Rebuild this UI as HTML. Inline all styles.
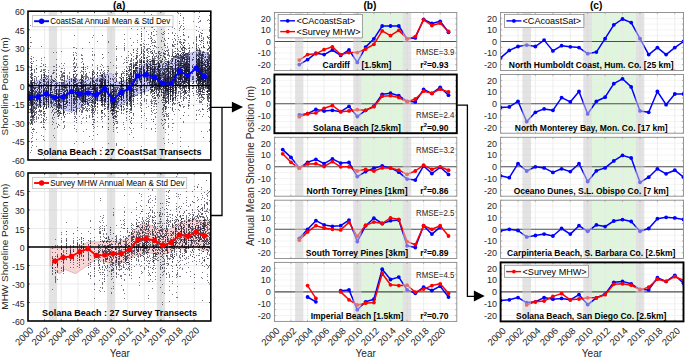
<!DOCTYPE html>
<html><head><meta charset="utf-8"><title>Shoreline figure</title>
<style>html,body{margin:0;padding:0;background:#fff;width:685px;height:357px;overflow:hidden}svg{display:block;font-family:"Liberation Sans",sans-serif}</style>
</head><body><svg width="685" height="357" viewBox="0 0 685 357" font-family='"Liberation Sans", sans-serif'><rect width="685" height="357" fill="#fff"/><clipPath id="clipA1"><rect x="28" y="11.2" width="182.8" height="148.8"/></clipPath><g clip-path="url(#clipA1)"><line x1="44.6" y1="11.2" x2="44.6" y2="160" stroke="#e6e6e6" stroke-width="0.8"/><line x1="61.2" y1="11.2" x2="61.2" y2="160" stroke="#e6e6e6" stroke-width="0.8"/><line x1="77.9" y1="11.2" x2="77.9" y2="160" stroke="#e6e6e6" stroke-width="0.8"/><line x1="94.5" y1="11.2" x2="94.5" y2="160" stroke="#e6e6e6" stroke-width="0.8"/><line x1="111.1" y1="11.2" x2="111.1" y2="160" stroke="#e6e6e6" stroke-width="0.8"/><line x1="127.7" y1="11.2" x2="127.7" y2="160" stroke="#e6e6e6" stroke-width="0.8"/><line x1="144.3" y1="11.2" x2="144.3" y2="160" stroke="#e6e6e6" stroke-width="0.8"/><line x1="160.9" y1="11.2" x2="160.9" y2="160" stroke="#e6e6e6" stroke-width="0.8"/><line x1="177.6" y1="11.2" x2="177.6" y2="160" stroke="#e6e6e6" stroke-width="0.8"/><line x1="194.2" y1="11.2" x2="194.2" y2="160" stroke="#e6e6e6" stroke-width="0.8"/><line x1="28" y1="141.4" x2="210.8" y2="141.4" stroke="#e6e6e6" stroke-width="0.8"/><line x1="28" y1="122.8" x2="210.8" y2="122.8" stroke="#e6e6e6" stroke-width="0.8"/><line x1="28" y1="104.2" x2="210.8" y2="104.2" stroke="#e6e6e6" stroke-width="0.8"/><line x1="28" y1="85.6" x2="210.8" y2="85.6" stroke="#e6e6e6" stroke-width="0.8"/><line x1="28" y1="67" x2="210.8" y2="67" stroke="#e6e6e6" stroke-width="0.8"/><line x1="28" y1="48.4" x2="210.8" y2="48.4" stroke="#e6e6e6" stroke-width="0.8"/><line x1="28" y1="29.8" x2="210.8" y2="29.8" stroke="#e6e6e6" stroke-width="0.8"/><rect x="48.8" y="11.2" width="8.3" height="148.8" fill="#cccccc" opacity="0.55"/><rect x="106.9" y="11.2" width="8.3" height="148.8" fill="#cccccc" opacity="0.55"/><rect x="156.8" y="11.2" width="8.3" height="148.8" fill="#cccccc" opacity="0.55"/><polygon points="28,84.4 34.7,81.8 46.5,77.6 55.7,81.8 61.6,82.7 70,78.5 78.4,79.3 88,80 96.4,78.5 104.8,74.3 111.5,73.5 117.4,81.9 126.7,80.2 133.4,75.2 138.4,67.6 143.5,64.2 148,62.5 157.8,64.5 167.6,62.5 177.5,56.6 187.3,53.7 199,50.7 207,52.7 211,56 211,83 199,81.2 187.3,82.1 177.5,84.1 167.6,90 157.8,84.1 148,91.1 138.4,93.7 130,98.7 121.6,105.4 113.2,107.1 104.8,102.1 96.4,100.4 88,103 78.4,108.7 71.7,112 65,110.4 55.7,107.1 46.5,104.5 38.1,106.2 28,105.4" fill="#ccccf6" stroke="rgba(70,70,150,0.45)" stroke-width="0.6"/><path d="M199 12h1m-22 1h1m1 0h1m-30 1h1m1 1h1m55 0h1m-69 1h1m57 0h1m-17 1h1m-43 1h1m22 0h1m18 0h1m14 0h1m-45 1h1m13 0h1m39 0h1m-68 1h1m41 0h1m16 0h1m6 0h1m1 0h1m-46 1h1m14 0h1m13 0h1m5 0h1m0 0h1m-3 1h1m-35 1h1m14 0h1m3 0h1m25 0h1m-66 1h1m22 0h1m-138 1h1m110 0h1m20 0h1m5 0h1m12 0h1m-29 1h1m18 0h1m7 0h1m2 0h1m12 0h1m-53 1h1m6 0h1m20 0h1m7 0h1m18 0h1m9 0h1m-79 1h1m9 0h1m2 0h1m29 0h1m4 0h1m4 0h1m-48 1h1m16 0h1m6 0h1m6 0h1m10 1h1m16 0h1m5 0h1m6 0h1m-69 1h1m4 0h1m6 0h1m2 0h1m7 0h1m33 0h1m10 0h1m-47 1h1m8 0h1m10 0h1m16 0h1m-50 1h1m9 0h1m2 0h1m3 0h1m3 0h1m2 0h1m26 0h1m-79 1h1m12 0h1m3 0h1m6 0h1m2 0h1m4 0h1m5 0h1m0 0h1m35 0h1m-126 1h1m18 0h1m8 0h1m38 0h1m11 0h1m0 0h1m22 0h1m5 0h1m0 0h1m14 0h1m1 0h1m7 0h1m-60 1h1m29 0h1m7 0h1m7 0h1m4 0h1m-172 1h1m61 0h1m58 0h1m10 0h1m15 0h1m9 0h1m10 0h1m3 0h1m3 0h1m0 0h1m0 0h1m-80 1h1m10 0h1m6 0h1m1 0h1m0 0h1m12 0h1m9 0h1m21 0h1m4 0h1m1 0h1m-80 1h1m16 0h1m10 0h1m11 0h1m7 0h1m2 0h1m2 0h1m4 0h1m0 0h1m18 0h1m5 0h1m-73 1h1m6 0h1m9 0h1m6 0h1m3 0h1m9 0h1m8 0h1m0 0h1m10 0h1m5 0h1m-106 1h1m10 0h1m32 0h1m9 0h1m3 0h1m5 0h1m1 0h1m9 0h1m3 0h1m1 0h1m0 0h1m15 0h1m3 0h1m2 0h1m3 0h1m1 0h1m-180 1h1m0 0h1m57 0h1m18 0h1m24 0h1m3 0h1m14 0h1m0 0h1m0 0h1m0 0h1m17 0h1m5 0h1m0 0h1m0 0h1m2 0h1m8 0h1m7 0h1m7 0h1m-86 1h1m18 0h1m7 0h1m12 0h1m2 0h1m9 0h1m2 0h1m7 0h1m4 0h1m2 0h1m10 0h1m1 0h1m-70 1h1m0 0h1m2 0h1m1 0h1m1 0h1m15 0h1m9 0h1m0 0h1m1 0h1m22 0h1m-77 1h1m6 0h1m8 0h1m0 0h1m10 0h1m12 0h1m7 0h1m8 0h1m6 0h1m6 0h1m1 0h1m4 0h1m-174 1h1m10 0h1m74 0h1m26 0h1m0 0h1m9 0h1m0 0h1m11 0h1m4 0h1m0 0h1m0 0h1m5 0h1m2 0h1m25 0h1m-137 1h1m0 0h1m49 0h1m19 0h1m11 0h1m1 0h1m2 0h1m3 0h1m1 0h1m12 0h1m1 0h1m6 0h1m2 0h1m3 0h1m1 0h1m4 0h1m-128 1h1m5 0h1m9 0h1m23 0h1m7 0h1m12 0h1m3 0h1m2 0h1m2 0h1m0 0h1m0 0h1m3 0h1m21 0h1m1 0h1m4 0h1m5 0h1m0 0h1m9 0h1m-84 1h1m7 0h1m12 0h1m5 0h1m2 0h1m0 0h1m2 0h1m11 0h1m5 0h1m3 0h1m8 0h1m0 0h1m1 0h1m1 0h1m9 0h1m0 0h1m10 0h1m-85 1h1m8 0h1m2 0h1m4 0h1m1 0h1m2 0h1m0 0h1m4 0h1m1 0h1m9 0h1m1 0h1m0 0h1m0 0h1m3 0h1m5 0h1m4 0h1m0 0h1m12 0h1m0 0h1m1 0h1m6 0h1m1 0h1m-149 1h1m30 0h1m35 0h1m14 0h1m4 0h1m1 0h1m3 0h1m3 0h1m8 0h1m4 0h1m1 0h1m0 0h1m1 0h1m1 0h1m4 0h1m4 0h1m9 0h1m0 0h1m2 0h1m5 0h1m0 0h1m-158 1h1m2 0h1m16 0h1m1 0h1m32 0h1m35 0h1m5 0h1m3 0h1m6 0h1m1 0h1m8 0h1m0 0h1m14 0h1m0 0h1m3 0h1m2 0h1m1 0h1m0 0h1m0 0h1m3 0h1m2 0h1m0 0h1m-133 1h1m53 0h1m5 0h1m11 0h1m2 0h1m3 0h1m2 0h1m0 0h1m0 0h1m4 0h1m2 0h1m3 0h1m5 0h1m9 0h1m3 0h1m3 0h1m1 0h1m3 0h1m4 0h1m0 0h1m-181 1h1m44 0h1m7 0h1m10 0h1m1 0h1m36 0h1m8 0h1m2 0h1m0 0h1m8 0h1m5 0h1m5 0h1m1 0h1m0 0h1m7 0h1m0 0h1m5 0h1m2 0h1m1 0h1m3 0h1m4 0h1m0 0h1m1 0h1m4 0h1m1 0h1m0 0h1m0 0h1m-137 1h1m2 0h1m4 0h1m0 0h1m9 0h1m1 0h1m33 0h1m2 0h1m5 0h1m1 0h1m3 0h1m0 0h1m2 0h1m5 0h1m2 0h1m1 0h1m2 0h1m1 0h1m3 0h1m0 0h1m0 0h1m5 0h1m2 0h1m0 0h1m1 0h1m3 0h1m0 0h1m0 0h1m0 0h1m9 0h1m0 0h1m3 0h1m4 0h1m-178 1h1m84 0h1m4 0h1m11 0h1m2 0h1m0 0h1m3 0h1m1 0h1m4 0h1m0 0h1m4 0h1m0 0h1m0 0h1m6 0h1m0 0h1m4 0h1m1 0h1m0 0h1m3 0h1m1 0h1m1 0h1m4 0h1m2 0h1m0 0h1m9 0h1m2 0h1m4 0h1m0 0h1m-176 1h1m10 0h1m29 0h1m28 0h1m22 0h1m1 0h1m8 0h1m5 0h1m2 0h1m5 0h1m1 0h1m2 0h1m0 0h1m14 0h1m0 0h1m0 0h1m0 0h1m0 0h1m1 0h1m5 0h1m1 0h1m0 0h1m7 0h1m3 0h1m3 0h1m2 0h1m-178 1h1m0 0h1m9 0h1m39 0h1m0 0h1m19 0h1m13 0h1m9 0h1m8 0h1m4 0h1m2 0h1m2 0h1m6 0h1m0 0h1m0 0h1m2 0h1m0 0h1m2 0h1m2 0h1m5 0h1m1 0h1m3 0h1m2 0h1m0 0h1m4 0h1m1 0h1m10 0h1m0 0h1m2 0h1m-173 1h1m24 0h1m17 0h1m1 0h1m5 0h1m9 0h1m23 0h1m7 0h1m6 0h1m1 0h1m2 0h1m2 0h1m9 0h1m0 0h1m1 0h1m0 0h1m0 0h1m3 0h1m6 0h1m0 0h1m4 0h1m4 0h1m4 0h1m6 0h1m4 0h1m8 0h1m1 0h1m3 0h1m-173 1h1m4 0h1m31 0h1m19 0h1m22 0h1m9 0h1m1 0h1m1 0h1m0 0h1m1 0h1m3 0h1m1 0h1m0 0h1m2 0h1m0 0h1m1 0h1m0 0h1m0 0h1m2 0h1m3 0h1m0 0h1m0 0h1m1 0h1m0 0h1m0 0h1m2 0h1m3 0h1m1 0h1m10 0h1m4 0h1m5 0h1m7 0h1m1 0h1m1 0h1m0 0h1m0 0h1m1 0h1m1 0h1m-180 1h1m1 0h1m48 0h1m47 0h1m0 0h1m7 0h1m0 0h1m3 0h1m1 0h1m4 0h1m8 0h1m1 0h1m3 0h1m4 0h1m25 0h1m2 0h1m2 0h1m5 0h1m-180 1h1m50 0h1m28 0h1m13 0h1m2 0h1m5 0h1m1 0h1m3 0h1m7 0h1m2 0h1m6 0h1m6 0h1m2 0h1m1 0h1m1 0h1m4 0h1m1 0h1m0 0h1m1 0h1m1 0h1m0 0h1m20 0h1m0 0h1m3 0h1m-179 1h1m8 0h1m19 0h1m2 0h1m8 0h1m0 0h1m1 0h1m6 0h1m39 0h1m6 0h1m2 0h1m1 0h1m0 0h1m0 0h1m10 0h1m1 0h1m1 0h1m0 0h1m0 0h1m1 0h1m0 0h1m5 0h1m2 0h1m3 0h1m1 0h1m1 0h1m0 0h1m1 0h1m1 0h1m9 0h1m6 0h1m3 0h1m3 0h1m-162 1h1m1 0h1m10 0h1m16 0h1m2 0h1m15 0h1m8 0h1m27 0h1m3 0h1m0 0h1m5 0h1m0 0h1m16 0h1m3 0h1m0 0h1m2 0h1m0 0h1m1 0h1m2 0h1m3 0h1m0 0h1m1 0h1m1 0h1m11 0h1m6 0h1m1 0h1m3 0h1m3 0h1m-175 1h1m6 0h1m12 0h1m6 0h1m12 0h1m15 0h1m4 0h1m4 0h1m10 0h1m2 0h1m17 0h1m2 0h1m1 0h1m1 0h1m2 0h1m9 0h1m5 0h1m1 0h1m3 0h1m0 0h1m0 0h1m4 0h1m2 0h1m15 0h1m11 0h1m4 0h1m0 0h1m-183 1h1m2 0h1m8 0h1m0 0h1m11 0h1m0 0h1m4 0h1m13 0h1m0 0h1m0 0h1m7 0h1m3 0h1m12 0h1m6 0h1m0 0h1m17 0h1m1 0h1m0 0h1m1 0h1m2 0h1m9 0h1m1 0h1m3 0h1m2 0h1m1 0h1m0 0h1m0 0h1m2 0h1m2 0h1m0 0h1m0 0h1m3 0h1m10 0h1m0 0h1m14 0h1m0 0h1m2 0h1m7 0h1m-179 1h1m25 0h1m17 0h1m2 0h1m3 0h1m0 0h1m2 0h1m11 0h1m5 0h1m12 0h1m9 0h1m17 0h1m1 0h1m4 0h1m5 0h1m7 0h1m1 0h1m2 0h1m8 0h1m23 0h1m1 0h1m1 0h1m-177 1h1m29 0h1m0 0h1m1 0h1m9 0h1m8 0h1m3 0h1m9 0h1m10 0h1m7 0h1m10 0h1m1 0h1m1 0h1m16 0h1m0 0h1m2 0h1m0 0h1m7 0h1m0 0h1m0 0h1m0 0h1m6 0h1m1 0h1m0 0h1m4 0h1m1 0h1m1 0h1m9 0h1m9 0h1m-172 1h1m1 0h1m1 0h1m4 0h1m1 0h1m0 0h1m0 0h1m10 0h1m16 0h1m11 0h1m6 0h1m4 0h1m26 0h1m10 0h1m0 0h1m2 0h1m15 0h1m4 0h1m0 0h1m0 0h1m0 0h1m2 0h1m6 0h1m0 0h1m1 0h1m2 0h1m12 0h1m4 0h1m6 0h1m1 0h1m-179 1h1m1 0h1m3 0h1m6 0h1m1 0h1m0 0h1m3 0h1m4 0h1m0 0h1m9 0h1m9 0h1m6 0h1m11 0h1m5 0h1m1 0h1m2 0h1m2 0h1m0 0h1m21 0h1m0 0h1m5 0h1m2 0h1m0 0h1m4 0h1m2 0h1m3 0h1m1 0h1m1 0h1m2 0h1m0 0h1m4 0h1m3 0h1m22 0h1m9 0h1m5 0h1m0 0h1m-177 1h1m6 0h1m3 0h1m14 0h1m12 0h1m7 0h1m0 0h1m0 0h1m1 0h1m7 0h1m9 0h1m4 0h1m7 0h1m5 0h1m1 0h1m2 0h1m1 0h1m5 0h1m0 0h1m0 0h1m13 0h1m3 0h1m0 0h1m0 0h1m1 0h1m2 0h1m2 0h1m3 0h1m1 0h1m4 0h1m0 0h1m3 0h1m11 0h1m10 0h1m1 0h1m-176 1h1m2 0h1m1 0h1m6 0h1m0 0h1m3 0h1m5 0h1m6 0h1m1 0h1m0 0h1m4 0h1m10 0h1m2 0h1m5 0h1m2 0h1m0 0h1m0 0h1m5 0h1m1 0h1m1 0h1m2 0h1m8 0h1m6 0h1m4 0h1m2 0h1m2 0h1m5 0h1m5 0h1m1 0h1m0 0h1m1 0h1m0 0h1m2 0h1m0 0h1m3 0h1m3 0h1m1 0h1m2 0h1m12 0h1m0 0h1m13 0h1m5 0h1m0 0h1m-177 1h1m3 0h1m11 0h1m7 0h1m0 0h1m2 0h1m5 0h1m0 0h1m5 0h1m5 0h1m7 0h1m10 0h1m9 0h1m10 0h1m0 0h1m4 0h1m0 0h1m0 0h1m0 0h1m2 0h1m6 0h1m1 0h1m3 0h1m3 0h1m3 0h1m0 0h1m1 0h1m4 0h1m1 0h1m2 0h1m3 0h1m3 0h1m4 0h1m-144 1h1m0 0h1m8 0h1m1 0h1m12 0h1m4 0h1m0 0h1m11 0h1m1 0h1m0 0h1m3 0h1m1 0h1m1 0h1m0 0h1m9 0h1m4 0h1m2 0h1m2 0h1m5 0h1m1 0h1m10 0h1m0 0h1m0 0h1m0 0h1m7 0h1m10 0h1m0 0h1m5 0h1m0 0h1m3 0h1m0 0h1m0 0h1m14 0h1m-146 1h1m10 0h1m1 0h1m0 0h1m1 0h1m2 0h1m7 0h1m1 0h1m0 0h1m0 0h1m0 0h1m2 0h1m17 0h1m0 0h1m12 0h1m0 0h1m3 0h1m3 0h1m12 0h1m2 0h1m3 0h1m0 0h1m0 0h1m5 0h1m0 0h1m11 0h1m5 0h1m0 0h1m6 0h1m0 0h1m1 0h1m0 0h1m8 0h1m8 0h1m18 0h1m5 0h1m-183 1h1m1 0h1m0 0h1m3 0h1m2 0h1m7 0h1m0 0h1m0 0h1m1 0h1m10 0h1m0 0h1m4 0h1m1 0h1m5 0h1m0 0h1m5 0h1m0 0h1m0 0h1m0 0h1m0 0h1m0 0h1m4 0h1m11 0h1m8 0h1m16 0h1m1 0h1m13 0h1m6 0h1m6 0h1m0 0h1m0 0h1m0 0h1m2 0h1m2 0h1m8 0h1m0 0h1m2 0h1m9 0h1m0 0h1m-164 1h1m5 0h1m8 0h1m2 0h1m2 0h1m4 0h1m3 0h1m0 0h1m0 0h1m1 0h1m2 0h1m1 0h1m3 0h1m1 0h1m7 0h1m1 0h1m0 0h1m0 0h1m0 0h1m1 0h1m1 0h1m0 0h1m0 0h1m8 0h1m11 0h1m3 0h1m0 0h1m1 0h1m4 0h1m8 0h1m0 0h1m2 0h1m2 0h1m2 0h1m1 0h1m2 0h1m5 0h1m3 0h1m0 0h1m3 0h1m10 0h1m14 0h1m0 0h1m16 0h1m-179 1h1m1 0h1m1 0h1m8 0h1m1 0h1m3 0h1m2 0h1m5 0h1m10 0h1m2 0h1m1 0h1m9 0h1m1 0h1m2 0h1m1 0h1m6 0h1m1 0h1m0 0h1m0 0h1m3 0h1m3 0h1m1 0h1m5 0h1m2 0h1m2 0h1m7 0h1m5 0h1m7 0h1m0 0h1m5 0h1m0 0h1m4 0h1m1 0h1m9 0h1m0 0h1m1 0h1m5 0h1m9 0h1m0 0h1m3 0h1m-170 1h1m5 0h1m1 0h1m3 0h1m7 0h1m2 0h1m0 0h1m7 0h1m0 0h1m2 0h1m9 0h1m0 0h1m0 0h1m5 0h1m2 0h1m2 0h1m7 0h1m0 0h1m1 0h1m0 0h1m2 0h1m0 0h1m3 0h1m1 0h1m1 0h1m3 0h1m6 0h1m10 0h1m2 0h1m8 0h1m1 0h1m0 0h1m7 0h1m4 0h1m6 0h1m3 0h1m19 0h1m16 0h1m-181 1h1m5 0h1m4 0h1m6 0h1m1 0h1m1 0h1m1 0h1m1 0h1m4 0h1m0 0h1m0 0h1m7 0h1m5 0h1m1 0h1m3 0h1m3 0h1m8 0h1m4 0h1m1 0h1m3 0h1m0 0h1m4 0h1m18 0h1m3 0h1m2 0h1m0 0h1m0 0h1m6 0h1m0 0h1m19 0h1m3 0h1m4 0h1m4 0h1m17 0h1m4 0h1m-177 1h1m3 0h1m10 0h1m1 0h1m6 0h1m0 0h1m8 0h1m1 0h1m6 0h1m0 0h1m1 0h1m5 0h1m7 0h1m3 0h1m1 0h1m0 0h1m12 0h1m2 0h1m6 0h1m1 0h1m5 0h1m17 0h1m2 0h1m1 0h1m11 0h1m0 0h1m4 0h1m3 0h1m3 0h1m3 0h1m24 0h1m3 0h1m-174 1h1m1 0h1m1 0h1m2 0h1m1 0h1m0 0h1m3 0h1m0 0h1m3 0h1m5 0h1m1 0h1m10 0h1m2 0h1m0 0h1m3 0h1m0 0h1m0 0h1m7 0h1m6 0h1m2 0h1m3 0h1m6 0h1m9 0h1m3 0h1m7 0h1m0 0h1m2 0h1m6 0h1m0 0h1m1 0h1m0 0h1m1 0h1m1 0h1m0 0h1m0 0h1m3 0h1m0 0h1m0 0h1m5 0h1m3 0h1m2 0h1m2 0h1m5 0h1m18 0h1m0 0h1m0 0h1m-177 1h1m4 0h1m0 0h1m3 0h1m2 0h1m0 0h1m11 0h1m0 0h1m4 0h1m0 0h1m0 0h1m13 0h1m3 0h1m0 0h1m2 0h1m2 0h1m6 0h1m0 0h1m10 0h1m4 0h1m6 0h1m2 0h1m3 0h1m0 0h1m4 0h1m1 0h1m0 0h1m10 0h1m3 0h1m1 0h1m3 0h1m3 0h1m12 0h1m4 0h1m5 0h1m7 0h1m2 0h1m0 0h1m2 0h1m9 0h1m-182 1h1m0 0h1m3 0h1m1 0h1m1 0h1m0 0h1m1 0h1m1 0h1m1 0h1m0 0h1m0 0h1m6 0h1m4 0h1m1 0h1m0 0h1m0 0h1m0 0h1m0 0h1m0 0h1m2 0h1m1 0h1m1 0h1m3 0h1m4 0h1m1 0h1m1 0h1m0 0h1m0 0h1m0 0h1m9 0h1m11 0h1m0 0h1m2 0h1m7 0h1m3 0h1m2 0h1m3 0h1m8 0h1m3 0h1m1 0h1m3 0h1m3 0h1m4 0h1m10 0h1m7 0h1m0 0h1m2 0h1m0 0h1m12 0h1m1 0h1m2 0h1m-176 1h1m0 0h1m16 0h1m0 0h1m13 0h1m0 0h1m1 0h1m5 0h1m2 0h1m2 0h1m0 0h1m7 0h1m0 0h1m26 0h1m0 0h1m3 0h1m3 0h1m0 0h1m2 0h1m2 0h1m1 0h1m3 0h1m3 0h1m9 0h1m0 0h1m1 0h1m0 0h1m1 0h1m1 0h1m21 0h1m0 0h1m0 0h1m3 0h1m0 0h1m16 0h1m1 0h1m3 0h1m-182 1h1m3 0h1m4 0h1m1 0h1m6 0h1m7 0h1m7 0h1m1 0h1m0 0h1m4 0h1m3 0h1m3 0h1m4 0h1m7 0h1m6 0h1m3 0h1m18 0h1m0 0h1m4 0h1m7 0h1m9 0h1m4 0h1m25 0h1m4 0h1m9 0h1m0 0h1m2 0h1m2 0h1m3 0h1m6 0h1m-177 1h1m1 0h1m0 0h1m0 0h1m11 0h1m3 0h1m6 0h1m0 0h1m4 0h1m10 0h1m8 0h1m0 0h1m0 0h1m1 0h1m0 0h1m3 0h1m6 0h1m4 0h1m6 0h1m0 0h1m0 0h1m0 0h1m1 0h1m1 0h1m5 0h1m6 0h1m3 0h1m17 0h1m2 0h1m0 0h1m2 0h1m4 0h1m3 0h1m0 0h1m4 0h1m0 0h1m4 0h1m0 0h1m6 0h1m7 0h1m0 0h1m1 0h1m1 0h1m-177 1h1m2 0h1m9 0h1m1 0h1m1 0h1m6 0h1m0 0h1m5 0h1m2 0h1m0 0h1m0 0h1m12 0h1m6 0h1m0 0h1m11 0h1m1 0h1m1 0h1m10 0h1m0 0h1m4 0h1m12 0h1m2 0h1m0 0h1m8 0h1m3 0h1m11 0h1m0 0h1m15 0h1m1 0h1m0 0h1m0 0h1m2 0h1m6 0h1m5 0h1m5 0h1m0 0h1m3 0h1m-183 1h1m1 0h1m9 0h1m12 0h1m3 0h1m0 0h1m1 0h1m6 0h1m1 0h1m9 0h1m0 0h1m3 0h1m1 0h1m0 0h1m1 0h1m0 0h1m5 0h1m10 0h1m2 0h1m0 0h1m2 0h1m1 0h1m0 0h1m1 0h1m3 0h1m10 0h1m1 0h1m0 0h1m5 0h1m11 0h1m1 0h1m2 0h1m1 0h1m19 0h1m14 0h1m0 0h1m3 0h1m1 0h1m-170 1h1m1 0h1m3 0h1m3 0h1m1 0h1m3 0h1m2 0h1m0 0h1m2 0h1m3 0h1m0 0h1m0 0h1m0 0h1m5 0h1m7 0h1m4 0h1m8 0h1m7 0h1m5 0h1m2 0h1m0 0h1m3 0h1m2 0h1m3 0h1m0 0h1m13 0h1m2 0h1m7 0h1m4 0h1m5 0h1m1 0h1m2 0h1m9 0h1m1 0h1m4 0h1m0 0h1m3 0h1m1 0h1m9 0h1m0 0h1m0 0h1m3 0h1m-171 1h1m0 0h1m2 0h1m5 0h1m0 0h1m4 0h1m1 0h1m1 0h1m0 0h1m4 0h1m1 0h1m13 0h1m2 0h1m0 0h1m3 0h1m2 0h1m1 0h1m0 0h1m1 0h1m10 0h1m3 0h1m3 0h1m10 0h1m1 0h1m2 0h1m4 0h1m1 0h1m1 0h1m4 0h1m1 0h1m6 0h1m4 0h1m0 0h1m6 0h1m0 0h1m4 0h1m5 0h1m0 0h1m1 0h1m0 0h1m0 0h1m6 0h1m1 0h1m2 0h1m3 0h1m-169 1h1m5 0h1m1 0h1m0 0h1m0 0h1m2 0h1m2 0h1m9 0h1m3 0h1m0 0h1m4 0h1m1 0h1m2 0h1m14 0h1m1 0h1m3 0h1m3 0h1m19 0h1m0 0h1m0 0h1m5 0h1m1 0h1m9 0h1m2 0h1m2 0h1m9 0h1m7 0h1m5 0h1m1 0h1m7 0h1m1 0h1m1 0h1m1 0h1m1 0h1m1 0h1m3 0h1m0 0h1m6 0h1m0 0h1m0 0h1m1 0h1m3 0h1m5 0h1m-183 1h1m4 0h1m1 0h1m3 0h1m14 0h1m2 0h1m0 0h1m12 0h1m12 0h1m3 0h1m0 0h1m0 0h1m0 0h1m23 0h1m0 0h1m0 0h1m5 0h1m0 0h1m2 0h1m4 0h1m0 0h1m6 0h1m9 0h1m1 0h1m0 0h1m2 0h1m9 0h1m0 0h1m1 0h1m0 0h1m5 0h1m1 0h1m2 0h1m2 0h1m1 0h1m11 0h1m0 0h1m-167 1h1m1 0h1m0 0h1m1 0h1m1 0h1m0 0h1m1 0h1m0 0h1m2 0h1m5 0h1m3 0h1m7 0h1m5 0h1m2 0h1m0 0h1m4 0h1m19 0h1m2 0h1m3 0h1m4 0h1m1 0h1m1 0h1m2 0h1m7 0h1m2 0h1m3 0h1m2 0h1m6 0h1m7 0h1m10 0h1m0 0h1m0 0h1m7 0h1m6 0h1m7 0h1m7 0h1m0 0h1m2 0h1m0 0h1m6 0h1m-174 1h1m8 0h1m2 0h1m4 0h1m1 0h1m5 0h1m13 0h1m3 0h1m0 0h1m7 0h1m1 0h1m0 0h1m0 0h1m8 0h1m9 0h1m18 0h1m2 0h1m2 0h1m0 0h1m0 0h1m2 0h1m0 0h1m4 0h1m0 0h1m3 0h1m4 0h1m1 0h1m0 0h1m6 0h1m6 0h1m3 0h1m0 0h1m1 0h1m6 0h1m0 0h1m0 0h1m3 0h1m4 0h1m0 0h1m7 0h1m0 0h1m0 0h1m-182 1h1m0 0h1m3 0h1m1 0h1m1 0h1m12 0h1m0 0h1m3 0h1m4 0h1m0 0h1m0 0h1m6 0h1m5 0h1m3 0h1m0 0h1m3 0h1m1 0h1m4 0h1m4 0h1m3 0h1m2 0h1m3 0h1m8 0h1m10 0h1m4 0h1m1 0h1m6 0h1m11 0h1m3 0h1m6 0h1m0 0h1m9 0h1m0 0h1m3 0h1m0 0h1m2 0h1m13 0h1m2 0h1m0 0h1m-175 1h1m4 0h1m1 0h1m2 0h1m6 0h1m0 0h1m0 0h1m4 0h1m2 0h1m2 0h1m2 0h1m0 0h1m2 0h1m3 0h1m1 0h1m2 0h1m0 0h1m1 0h1m2 0h1m3 0h1m5 0h1m5 0h1m6 0h1m11 0h1m4 0h1m6 0h1m24 0h1m1 0h1m3 0h1m3 0h1m2 0h1m0 0h1m0 0h1m4 0h1m0 0h1m0 0h1m5 0h1m4 0h1m0 0h1m12 0h1m0 0h1m0 0h1m6 0h1m-180 1h1m3 0h1m3 0h1m7 0h1m4 0h1m0 0h1m0 0h1m1 0h1m0 0h1m3 0h1m0 0h1m6 0h1m7 0h1m4 0h1m3 0h1m8 0h1m0 0h1m1 0h1m3 0h1m9 0h1m6 0h1m1 0h1m6 0h1m0 0h1m3 0h1m5 0h1m2 0h1m3 0h1m8 0h1m4 0h1m4 0h1m0 0h1m1 0h1m0 0h1m9 0h1m2 0h1m2 0h1m0 0h1m1 0h1m10 0h1m1 0h1m3 0h1m0 0h1m3 0h1m0 0h1m-172 1h1m5 0h1m0 0h1m1 0h1m2 0h1m0 0h1m3 0h1m0 0h1m3 0h1m0 0h1m0 0h1m8 0h1m5 0h1m1 0h1m1 0h1m2 0h1m1 0h1m5 0h1m0 0h1m0 0h1m1 0h1m19 0h1m3 0h1m1 0h1m3 0h1m6 0h1m10 0h1m1 0h1m4 0h1m10 0h1m0 0h1m9 0h1m1 0h1m7 0h1m17 0h1m1 0h1m3 0h1m0 0h1m-176 1h1m1 0h1m4 0h1m3 0h1m5 0h1m0 0h1m1 0h1m0 0h1m5 0h1m0 0h1m0 0h1m1 0h1m2 0h1m1 0h1m4 0h1m0 0h1m0 0h1m0 0h1m2 0h1m6 0h1m0 0h1m6 0h1m0 0h1m2 0h1m3 0h1m14 0h1m0 0h1m4 0h1m3 0h1m2 0h1m0 0h1m4 0h1m6 0h1m1 0h1m4 0h1m1 0h1m0 0h1m0 0h1m0 0h1m4 0h1m2 0h1m1 0h1m6 0h1m1 0h1m1 0h1m10 0h1m0 0h1m6 0h1m2 0h1m2 0h1m4 0h1m0 0h1m-181 1h1m4 0h1m1 0h1m7 0h1m0 0h1m0 0h1m1 0h1m2 0h1m2 0h1m3 0h1m2 0h1m0 0h1m0 0h1m2 0h1m5 0h1m1 0h1m13 0h1m6 0h1m2 0h1m3 0h1m21 0h1m3 0h1m5 0h1m10 0h1m1 0h1m3 0h1m0 0h1m0 0h1m13 0h1m1 0h1m12 0h1m17 0h1m0 0h1m0 0h1m7 0h1m-181 1h1m3 0h1m2 0h1m4 0h1m10 0h1m0 0h1m7 0h1m14 0h1m0 0h1m2 0h1m2 0h1m5 0h1m0 0h1m2 0h1m10 0h1m0 0h1m4 0h1m6 0h1m0 0h1m5 0h1m1 0h1m6 0h1m6 0h1m10 0h1m2 0h1m3 0h1m4 0h1m0 0h1m0 0h1m12 0h1m9 0h1m0 0h1m9 0h1m0 0h1m0 0h1m-169 1h1m1 0h1m4 0h1m5 0h1m3 0h1m1 0h1m1 0h1m10 0h1m3 0h1m6 0h1m2 0h1m5 0h1m6 0h1m0 0h1m16 0h1m4 0h1m0 0h1m4 0h1m7 0h1m7 0h1m2 0h1m0 0h1m4 0h1m5 0h1m1 0h1m0 0h1m16 0h1m0 0h1m0 0h1m0 0h1m1 0h1m29 0h1m-178 1h1m4 0h1m0 0h1m0 0h1m0 0h1m6 0h1m0 0h1m4 0h1m1 0h1m0 0h1m2 0h1m2 0h1m6 0h1m3 0h1m4 0h1m2 0h1m1 0h1m2 0h1m0 0h1m17 0h1m1 0h1m11 0h1m2 0h1m2 0h1m0 0h1m1 0h1m0 0h1m1 0h1m0 0h1m10 0h1m12 0h1m1 0h1m6 0h1m10 0h1m7 0h1m5 0h1m13 0h1m-174 1h1m0 0h1m6 0h1m1 0h1m8 0h1m2 0h1m1 0h1m0 0h1m0 0h1m0 0h1m0 0h1m9 0h1m1 0h1m12 0h1m0 0h1m4 0h1m0 0h1m4 0h1m0 0h1m5 0h1m0 0h1m9 0h1m14 0h1m12 0h1m0 0h1m30 0h1m16 0h1m3 0h1m15 0h1m-182 1h1m3 0h1m1 0h1m1 0h1m1 0h1m0 0h1m1 0h1m1 0h1m14 0h1m1 0h1m0 0h1m4 0h1m4 0h1m3 0h1m5 0h1m3 0h1m1 0h1m2 0h1m2 0h1m8 0h1m1 0h1m0 0h1m1 0h1m4 0h1m1 0h1m5 0h1m6 0h1m2 0h1m3 0h1m13 0h1m4 0h1m0 0h1m1 0h1m7 0h1m1 0h1m13 0h1m2 0h1m0 0h1m3 0h1m18 0h1m-176 1h1m2 0h1m0 0h1m11 0h1m1 0h1m5 0h1m3 0h1m5 0h1m7 0h1m0 0h1m0 0h1m4 0h1m1 0h1m1 0h1m5 0h1m0 0h1m1 0h1m2 0h1m12 0h1m4 0h1m0 0h1m0 0h1m0 0h1m2 0h1m1 0h1m16 0h1m5 0h1m19 0h1m1 0h1m1 0h1m1 0h1m10 0h1m25 0h1m-180 1h1m1 0h1m2 0h1m9 0h1m8 0h1m1 0h1m7 0h1m0 0h1m5 0h1m5 0h1m1 0h1m2 0h1m0 0h1m2 0h1m0 0h1m7 0h1m8 0h1m2 0h1m0 0h1m1 0h1m0 0h1m2 0h1m0 0h1m2 0h1m2 0h1m2 0h1m1 0h1m3 0h1m10 0h1m20 0h1m0 0h1m2 0h1m21 0h1m13 0h1m6 0h1m-182 1h1m0 0h1m3 0h1m5 0h1m15 0h1m2 0h1m4 0h1m5 0h1m3 0h1m6 0h1m1 0h1m0 0h1m2 0h1m1 0h1m2 0h1m1 0h1m1 0h1m11 0h1m0 0h1m2 0h1m2 0h1m4 0h1m3 0h1m0 0h1m1 0h1m2 0h1m24 0h1m1 0h1m5 0h1m0 0h1m11 0h1m2 0h1m20 0h1m3 0h1m3 0h1m1 0h1m-180 1h1m2 0h1m0 0h1m5 0h1m30 0h1m2 0h1m4 0h1m1 0h1m0 0h1m2 0h1m0 0h1m2 0h1m1 0h1m3 0h1m1 0h1m12 0h1m5 0h1m6 0h1m6 0h1m0 0h1m9 0h1m9 0h1m1 0h1m9 0h1m8 0h1m6 0h1m16 0h1m1 0h1m10 0h1m-182 1h1m1 0h1m1 0h1m1 0h1m3 0h1m0 0h1m0 0h1m2 0h1m8 0h1m3 0h1m3 0h1m3 0h1m10 0h1m3 0h1m1 0h1m5 0h1m6 0h1m15 0h1m1 0h1m1 0h1m3 0h1m8 0h1m1 0h1m21 0h1m11 0h1m1 0h1m7 0h1m26 0h1m-173 1h1m0 0h1m0 0h1m2 0h1m0 0h1m1 0h1m3 0h1m2 0h1m7 0h1m2 0h1m0 0h1m0 0h1m1 0h1m1 0h1m10 0h1m2 0h1m6 0h1m0 0h1m9 0h1m0 0h1m0 0h1m2 0h1m3 0h1m10 0h1m1 0h1m0 0h1m5 0h1m4 0h1m3 0h1m21 0h1m3 0h1m27 0h1m-149 1h1m7 0h1m0 0h1m8 0h1m2 0h1m0 0h1m0 0h1m7 0h1m1 0h1m4 0h1m1 0h1m15 0h1m0 0h1m3 0h1m3 0h1m0 0h1m1 0h1m3 0h1m7 0h1m4 0h1m1 0h1m5 0h1m14 0h1m9 0h1m0 0h1m9 0h1m0 0h1m-136 1h1m0 0h1m2 0h1m2 0h1m1 0h1m0 0h1m2 0h1m12 0h1m1 0h1m5 0h1m8 0h1m1 0h1m4 0h1m12 0h1m9 0h1m8 0h1m2 0h1m9 0h1m6 0h1m17 0h1m10 0h1m0 0h1m2 0h1m0 0h1m6 0h1m21 0h1m2 0h1m3 0h1m-172 1h1m6 0h1m1 0h1m1 0h1m0 0h1m8 0h1m5 0h1m3 0h1m22 0h1m2 0h1m2 0h1m12 0h1m6 0h1m1 0h1m0 0h1m1 0h1m15 0h1m7 0h1m2 0h1m21 0h1m1 0h1m19 0h1m7 0h1m-167 1h1m5 0h1m7 0h1m12 0h1m16 0h1m0 0h1m3 0h1m9 0h1m3 0h1m7 0h1m0 0h1m1 0h1m9 0h1m40 0h1m7 0h1m0 0h1m1 0h1m0 0h1m0 0h1m33 0h1m5 0h1m-181 1h1m1 0h1m0 0h1m1 0h1m0 0h1m1 0h1m1 0h1m2 0h1m4 0h1m5 0h1m1 0h1m6 0h1m2 0h1m10 0h1m7 0h1m2 0h1m2 0h1m2 0h1m4 0h1m3 0h1m10 0h1m2 0h1m0 0h1m9 0h1m4 0h1m9 0h1m13 0h1m53 0h1m-178 1h1m0 0h1m2 0h1m1 0h1m13 0h1m5 0h1m15 0h1m7 0h1m3 0h1m15 0h1m5 0h1m17 0h1m6 0h1m12 0h1m33 0h1m-153 1h1m1 0h1m1 0h1m0 0h1m0 0h1m1 0h1m6 0h1m0 0h1m1 0h1m6 0h1m7 0h1m30 0h1m1 0h1m6 0h1m13 0h1m0 0h1m12 0h1m21 0h1m9 0h1m3 0h1m2 0h1m3 0h1m-142 1h1m0 0h1m0 0h1m11 0h1m48 0h1m18 0h1m12 0h1m4 0h1m14 0h1m18 0h1m-134 1h1m1 0h1m1 0h1m4 0h1m1 0h1m8 0h1m10 0h1m0 0h1m9 0h1m6 0h1m4 0h1m6 0h1m3 0h1m4 0h1m12 0h1m1 0h1m12 0h1m52 0h1m-152 1h1m1 0h1m5 0h1m0 0h1m1 0h1m0 0h1m8 0h1m9 0h1m12 0h1m16 0h1m0 0h1m22 0h1m5 0h1m6 0h1m34 0h1m17 0h1m-154 1h1m1 0h1m23 0h1m24 0h1m32 0h1m1 0h1m0 0h1m23 0h1m19 0h1m2 0h1m3 0h1m3 0h1m0 0h1m-144 1h1m12 0h1m8 0h1m40 0h1m20 0h1m8 0h1m31 0h1m7 0h1m-105 1h1m4 0h1m9 0h1m38 0h1m27 0h1m20 0h1m5 0h1m-126 1h1m13 0h1m6 0h1m28 0h1m3 0h1m70 0h1m-138 1h1m9 0h1m2 0h1m12 0h1m6 0h1m29 0h1m7 0h1m5 0h1m4 0h1m2 0h1m0 0h1m6 0h1m4 0h1m11 0h1m21 0h1m4 0h1m3 0h1m-140 1h1m20 0h1m8 0h1m10 0h1m18 0h1m22 0h1m13 0h1m2 0h1m12 0h1m4 0h1m3 0h1m7 0h1m-136 1h1m4 0h1m0 0h1m10 0h1m30 0h1m9 0h1m26 0h1m10 0h1m26 0h1m13 0h1m43 0h1m-79 1h1m40 0h1m36 0h1m-177 1h1m42 0h1m6 0h1m9 0h1m19 0h1m41 0h1m24 0h1m20 0h1m5 0h1m-177 1h1m4 0h1m80 0h1m13 0h1m33 0h1m-134 1h1m64 1h1m31 0h1m38 0h1m-137 1h1m8 0h1m11 0h1m39 0h1m-51 1h1m45 0h1m-58 1h1m21 0h1m78 0h1m46 0h1m22 0h1m-173 1h1m131 0h1m-128 1h1m6 0h1m48 0h1m75 0h1m-125 1h1m-14 1h1m0 0h1m43 0h1m103 0h1m-150 1h1m51 0h1m84 0h1m-95 1h1m33 0h1m7 0h1m47 0h1m7 0h1m-57 1h1m-85 1h1m83 0h1m-81 1h1m104 0h1m38 0h1m7 0h1m-158 1h1m70 0h1m21 0h1m-94 3h1m61 0h1m102 0h1m-167 2h1m12 3h1" transform="translate(0,0.5)" stroke="#0a0a20" stroke-width="1" fill="none" opacity="0.55"/><path d="M141 33h1m57 3h1m1 4h1m-21 4h1m14 0h1m-1 4h1m-1 2h1m2 0h1m-35 1h1m-25 1h1m-1 1h1m10 0h1m30 0h1m5 1h1m12 0h1m-51 2h1m20 0h1m1 0h1m7 0h1m12 0h1m1 0h1m-58 1h1m39 0h1m0 1h1m4 0h1m14 0h1m-41 1h1m26 0h1m-37 1h1m18 0h1m9 0h1m-40 1h1m9 0h1m0 0h1m13 0h1m9 0h1m10 0h1m9 0h1m2 0h1m-63 1h1m0 0h1m44 0h1m12 0h1m0 0h1m3 0h1m-47 1h1m6 0h1m2 0h1m13 0h1m3 0h1m0 0h1m9 0h1m10 0h1m0 0h1m-74 1h1m13 0h1m1 0h1m0 0h1m0 0h1m0 0h1m3 0h1m15 0h1m4 0h1m23 0h1m3 0h1m-178 1h1m99 0h1m1 0h1m1 0h1m15 0h1m29 0h1m0 0h1m0 0h1m3 0h1m8 0h1m0 0h1m0 0h1m8 0h1m-75 1h1m14 0h1m19 0h1m1 0h1m0 0h1m0 0h1m14 0h1m18 0h1m0 0h1m1 0h1m-179 1h1m105 0h1m3 0h1m5 0h1m4 0h1m39 0h1m9 0h1m-167 1h1m96 0h1m9 0h1m10 0h1m0 0h1m1 0h1m9 0h1m4 0h1m5 0h1m1 0h1m4 0h1m14 0h1m0 0h1m0 0h1m6 0h1m0 0h1m-180 1h1m121 0h1m11 0h1m1 0h1m4 0h1m4 0h1m4 0h1m24 0h1m0 0h1m-75 1h1m0 0h1m14 0h1m16 0h1m5 0h1m8 0h1m21 0h1m3 0h1m-135 1h1m58 0h1m6 0h1m0 0h1m2 0h1m2 0h1m2 0h1m13 0h1m3 0h1m34 0h1m5 0h1m-113 1h1m49 0h1m6 0h1m15 0h1m10 0h1m2 0h1m0 0h1m16 0h1m6 0h1m-118 1h1m33 0h1m3 0h1m0 0h1m11 0h1m13 0h1m5 0h1m6 0h1m7 0h1m0 0h1m6 0h1m1 0h1m9 0h1m5 0h1m1 0h1m0 0h1m1 0h1m-118 1h1m9 0h1m28 0h1m12 0h1m13 0h1m7 0h1m8 0h1m0 0h1m28 0h1m3 0h1m0 0h1m-129 1h1m58 0h1m1 0h1m9 0h1m0 0h1m2 0h1m2 0h1m11 0h1m1 0h1m3 0h1m2 0h1m2 0h1m21 0h1m1 0h1m-165 1h1m19 0h1m37 0h1m5 0h1m20 0h1m1 0h1m3 0h1m0 0h1m4 0h1m1 0h1m15 0h1m5 0h1m1 0h1m13 0h1m24 0h1m3 0h1m-137 1h1m60 0h1m5 0h1m2 0h1m7 0h1m12 0h1m1 0h1m6 0h1m14 0h1m7 0h1m-117 1h1m10 0h1m4 0h1m12 0h1m33 0h1m5 0h1m0 0h1m1 0h1m10 0h1m1 0h1m3 0h1m17 0h1m15 0h1m1 0h1m1 0h1m-166 1h1m0 0h1m1 0h1m22 0h1m56 0h1m2 0h1m0 0h1m9 0h1m12 0h1m1 0h1m8 0h1m17 0h1m9 0h1m14 0h1m1 0h1m-137 1h1m7 0h1m10 0h1m7 0h1m20 0h1m6 0h1m1 0h1m0 0h1m1 0h1m20 0h1m12 0h1m8 0h1m3 0h1m6 0h1m20 0h1m1 0h1m-180 1h1m39 0h1m3 0h1m5 0h1m18 0h1m0 0h1m6 0h1m44 0h1m1 0h1m2 0h1m2 0h1m8 0h1m3 0h1m4 0h1m2 0h1m15 0h1m2 0h1m1 0h1m0 0h1m3 0h1m-178 1h1m2 0h1m5 0h1m7 0h1m32 0h1m8 0h1m13 0h1m3 0h1m6 0h1m5 0h1m27 0h1m8 0h1m0 0h1m4 0h1m7 0h1m5 0h1m5 0h1m3 0h1m0 0h1m-144 1h1m1 0h1m43 0h1m7 0h1m0 0h1m3 0h1m20 0h1m14 0h1m12 0h1m0 0h1m7 0h1m2 0h1m4 0h1m4 0h1m6 0h1m14 0h1m2 0h1m-171 1h1m35 0h1m7 0h1m5 0h1m19 0h1m2 0h1m8 0h1m18 0h1m2 0h1m5 0h1m9 0h1m4 0h1m6 0h1m2 0h1m4 0h1m4 0h1m0 0h1m0 0h1m1 0h1m19 0h1m6 0h1m0 0h1m-166 1h1m0 0h1m49 0h1m5 0h1m12 0h1m8 0h1m3 0h1m28 0h1m6 0h1m2 0h1m7 0h1m2 0h1m1 0h1m4 0h1m4 0h1m10 0h1m1 0h1m1 0h1m3 0h1m-178 1h1m1 0h1m6 0h1m1 0h1m6 0h1m2 0h1m21 0h1m2 0h1m0 0h1m7 0h1m8 0h1m9 0h1m2 0h1m22 0h1m6 0h1m19 0h1m2 0h1m3 0h1m1 0h1m12 0h1m21 0h1m0 0h1m6 0h1m-178 1h1m0 0h1m9 0h1m1 0h1m2 0h1m10 0h1m4 0h1m4 0h1m1 0h1m2 0h1m18 0h1m5 0h1m10 0h1m2 0h1m16 0h1m0 0h1m18 0h1m0 0h1m3 0h1m20 0h1m6 0h1m4 0h1m0 0h1m6 0h1m1 0h1m10 0h1m-179 1h1m43 0h1m6 0h1m0 0h1m4 0h1m13 0h1m2 0h1m7 0h1m7 0h1m0 0h1m7 0h1m26 0h1m1 0h1m0 0h1m3 0h1m23 0h1m14 0h1m3 0h1m-176 1h1m11 0h1m18 0h1m27 0h1m1 0h1m0 0h1m0 0h1m16 0h1m0 0h1m6 0h1m6 0h1m3 0h1m9 0h1m10 0h1m3 0h1m4 0h1m1 0h1m3 0h1m1 0h1m14 0h1m14 0h1m0 0h1m8 0h1m-180 1h1m2 0h1m14 0h1m1 0h1m8 0h1m6 0h1m2 0h1m5 0h1m1 0h1m4 0h1m11 0h1m1 0h1m2 0h1m20 0h1m33 0h1m8 0h1m2 0h1m1 0h1m3 0h1m12 0h1m16 0h1m6 0h1m-179 1h1m4 0h1m4 0h1m4 0h1m0 0h1m0 0h1m24 0h1m8 0h1m0 0h1m7 0h1m1 0h1m1 0h1m0 0h1m7 0h1m9 0h1m0 0h1m0 0h1m13 0h1m28 0h1m1 0h1m9 0h1m27 0h1m-165 1h1m11 0h1m25 0h1m0 0h1m27 0h1m7 0h1m7 0h1m35 0h1m13 0h1m1 0h1m32 0h1m-161 1h1m31 0h1m5 0h1m10 0h1m7 0h1m9 0h1m19 0h1m41 0h1m35 0h1m0 0h1m-181 1h1m7 0h1m8 0h1m3 0h1m0 0h1m6 0h1m4 0h1m0 0h1m17 0h1m9 0h1m0 0h1m10 0h1m3 0h1m12 0h1m35 0h1m9 0h1m16 0h1m14 0h1m-166 1h1m1 0h1m11 0h1m1 0h1m29 0h1m1 0h1m10 0h1m0 0h1m1 0h1m14 0h1m11 0h1m2 0h1m0 0h1m26 0h1m8 0h1m-132 1h1m5 0h1m4 0h1m2 0h1m11 0h1m0 0h1m16 0h1m17 0h1m25 0h1m5 0h1m2 0h1m0 0h1m39 0h1m37 0h1m-175 1h1m2 0h1m21 0h1m4 0h1m1 0h1m12 0h1m12 0h1m9 0h1m7 0h1m1 0h1m8 0h1m1 0h1m2 0h1m37 0h1m10 0h1m-138 1h1m0 0h1m3 0h1m4 0h1m8 0h1m3 0h1m2 0h1m6 0h1m2 0h1m30 0h1m8 0h1m3 0h1m14 0h1m31 0h1m6 0h1m-143 1h1m2 0h1m0 0h1m8 0h1m14 0h1m4 0h1m9 0h1m2 0h1m6 0h1m11 0h1m1 0h1m14 0h1m14 0h1m1 0h1m1 0h1m40 0h1m-145 1h1m1 0h1m1 0h1m3 0h1m26 0h1m9 0h1m8 0h1m0 0h1m5 0h1m4 0h1m2 0h1m4 0h1m5 0h1m2 0h1m2 0h1m6 0h1m43 0h1m-136 1h1m0 0h1m0 0h1m4 0h1m2 0h1m5 0h1m8 0h1m18 0h1m8 0h1m24 0h1m3 0h1m1 0h1m0 0h1m0 0h1m12 0h1m1 0h1m33 0h1m-127 1h1m3 0h1m25 0h1m21 0h1m24 0h1m10 0h1m-96 1h1m41 0h1m13 0h1m5 0h1m0 0h1m31 0h1m-84 1h1m3 0h1m7 0h1m7 0h1m0 0h1m16 0h1m11 0h1m6 0h1m10 0h1m2 0h1m17 0h1m-103 1h1m8 0h1m19 0h1m0 0h1m1 0h1m12 0h1m15 0h1m11 0h1m25 0h1m-87 1h1m18 0h1m1 0h1m26 0h1m15 0h1m22 0h1m33 0h1m-126 1h1m70 0h1m0 0h1m50 0h1m-128 1h1m6 0h1m2 0h1m11 0h1m72 0h1m-101 1h1m81 0h1m7 0h1m43 0h1m-93 1h1m19 0h1m8 0h1m-72 1h1m1 0h1m24 0h1m17 0h1m24 0h1m24 0h1m-96 1h1m70 0h1m-43 1h1m2 0h1m-31 3h1m74 0h1m6 0h1m0 0h1m-85 1h1m80 0h1m-83 2h1m132 0h1m-134 2h1m84 0h1m-86 1h1m81 0h1m17 1h1m-104 1h1m63 0h1m-61 5h1" transform="translate(0,0.5)" stroke="#0a0a20" stroke-width="1" fill="none" opacity="0.86"/><path d="M180 15h1m-40 9h1m-1 2h1m10 1h1m30 2h1m-33 3h1m49 1h1m-19 1h1m-10 1h1m-34 1h1m65 0h1m-12 1h1m-29 1h1m39 0h1m-29 1h1m15 0h1m-46 1h1m47 0h1m-17 2h1m23 0h1m-25 1h1m19 0h1m-32 1h1m-19 1h1m9 0h1m7 0h1m11 0h1m23 0h1m-59 1h1m45 0h1m6 0h1m-63 1h1m42 0h1m16 0h1m2 0h1m4 0h1m-29 1h1m2 0h1m0 0h1m22 0h1m-76 1h1m7 0h1m35 0h1m21 0h1m7 0h1m-26 1h1m6 0h1m-53 1h1m3 0h1m2 0h1m6 0h1m7 0h1m20 0h1m-48 1h1m13 0h1m4 0h1m5 0h1m9 0h1m13 0h1m0 0h1m0 0h1m17 0h1m0 0h1m-67 1h1m5 0h1m12 0h1m6 0h1m0 0h1m10 0h1m1 0h1m3 0h1m3 0h1m0 0h1m0 0h1m11 0h1m0 0h1m-99 1h1m61 0h1m7 0h1m7 0h1m1 0h1m1 0h1m0 0h1m1 0h1m8 0h1m4 0h1m1 0h1m-68 1h1m23 0h1m11 0h1m3 0h1m6 0h1m12 0h1m0 0h1m2 0h1m0 0h1m7 0h1m-52 1h1m15 0h1m2 0h1m3 0h1m0 0h1m3 0h1m0 0h1m13 0h1m1 0h1m1 0h1m3 0h1m-74 1h1m7 0h1m2 0h1m12 0h1m3 0h1m0 0h1m12 0h1m1 0h1m1 0h1m0 0h1m2 0h1m2 0h1m3 0h1m7 0h1m0 0h1m2 0h1m2 0h1m0 0h1m-79 1h1m4 0h1m15 0h1m15 0h1m3 0h1m5 0h1m0 0h1m4 0h1m16 0h1m6 0h1m0 0h1m-69 1h1m5 0h1m24 0h1m7 0h1m4 0h1m1 0h1m4 0h1m3 0h1m0 0h1m8 0h1m2 0h1m-56 1h1m22 0h1m2 0h1m3 0h1m2 0h1m1 0h1m6 0h1m0 0h1m0 0h1m8 0h1m1 0h1m-73 1h1m11 0h1m2 0h1m5 0h1m2 0h1m3 0h1m1 0h1m4 0h1m2 0h1m3 0h1m0 0h1m0 0h1m0 0h1m0 0h1m0 0h1m2 0h1m0 0h1m12 0h1m5 0h1m-134 1h1m51 0h1m10 0h1m14 0h1m0 0h1m4 0h1m1 0h1m0 0h1m18 0h1m4 0h1m1 0h1m1 0h1m7 0h1m0 0h1m9 0h1m-178 1h1m99 0h1m9 0h1m4 0h1m12 0h1m11 0h1m6 0h1m4 0h1m0 0h1m0 0h1m2 0h1m14 0h1m-121 1h1m46 0h1m0 0h1m3 0h1m3 0h1m4 0h1m1 0h1m0 0h1m1 0h1m6 0h1m26 0h1m3 0h1m9 0h1m3 0h1m1 0h1m1 0h1m1 0h1m-72 1h1m9 0h1m3 0h1m8 0h1m5 0h1m11 0h1m0 0h1m0 0h1m5 0h1m0 0h1m1 0h1m11 0h1m2 0h1m-159 1h1m84 0h1m8 0h1m3 0h1m3 0h1m1 0h1m4 0h1m7 0h1m4 0h1m10 0h1m0 0h1m2 0h1m1 0h1m3 0h1m0 0h1m2 0h1m9 0h1m-128 1h1m7 0h1m45 0h1m1 0h1m3 0h1m7 0h1m4 0h1m6 0h1m6 0h1m8 0h1m0 0h1m4 0h1m5 0h1m1 0h1m10 0h1m2 0h1m0 0h1m3 0h1m1 0h1m1 0h1m0 0h1m0 0h1m-75 1h1m0 0h1m1 0h1m0 0h1m5 0h1m4 0h1m6 0h1m1 0h1m4 0h1m3 0h1m0 0h1m5 0h1m0 0h1m9 0h1m0 0h1m0 0h1m6 0h1m8 0h1m-105 1h1m27 0h1m0 0h1m0 0h1m8 0h1m2 0h1m0 0h1m6 0h1m4 0h1m0 0h1m1 0h1m4 0h1m3 0h1m1 0h1m0 0h1m9 0h1m2 0h1m20 0h1m-175 1h1m24 0h1m19 0h1m49 0h1m1 0h1m0 0h1m6 0h1m2 0h1m8 0h1m9 0h1m4 0h1m0 0h1m11 0h1m6 0h1m12 0h1m-157 1h1m20 0h1m13 0h1m16 0h1m38 0h1m7 0h1m3 0h1m9 0h1m12 0h1m0 0h1m2 0h1m2 0h1m4 0h1m28 0h1m0 0h1m1 0h1m-158 1h1m76 0h1m6 0h1m5 0h1m14 0h1m3 0h1m0 0h1m1 0h1m8 0h1m2 0h1m28 0h1m0 0h1m-144 1h1m21 0h1m10 0h1m2 0h1m2 0h1m13 0h1m17 0h1m10 0h1m6 0h1m0 0h1m5 0h1m1 0h1m4 0h1m5 0h1m8 0h1m0 0h1m1 0h1m6 0h1m10 0h1m1 0h1m2 0h1m-179 1h1m62 0h1m22 0h1m18 0h1m10 0h1m4 0h1m1 0h1m0 0h1m2 0h1m6 0h1m0 0h1m1 0h1m2 0h1m0 0h1m0 0h1m0 0h1m0 0h1m7 0h1m1 0h1m17 0h1m-172 1h1m9 0h1m2 0h1m28 0h1m2 0h1m4 0h1m10 0h1m4 0h1m3 0h1m14 0h1m9 0h1m4 0h1m7 0h1m0 0h1m3 0h1m2 0h1m3 0h1m9 0h1m0 0h1m10 0h1m5 0h1m2 0h1m4 0h1m19 0h1m-174 1h1m6 0h1m9 0h1m4 0h1m6 0h1m9 0h1m7 0h1m12 0h1m2 0h1m3 0h1m3 0h1m10 0h1m4 0h1m6 0h1m4 0h1m6 0h1m3 0h1m2 0h1m3 0h1m3 0h1m0 0h1m0 0h1m6 0h1m22 0h1m0 0h1m16 0h1m1 0h1m-177 1h1m0 0h1m8 0h1m1 0h1m0 0h1m36 0h1m20 0h1m2 0h1m2 0h1m14 0h1m2 0h1m2 0h1m17 0h1m1 0h1m14 0h1m4 0h1m0 0h1m2 0h1m2 0h1m1 0h1m2 0h1m0 0h1m0 0h1m3 0h1m15 0h1m-163 1h1m22 0h1m2 0h1m7 0h1m7 0h1m1 0h1m4 0h1m10 0h1m14 0h1m13 0h1m4 0h1m0 0h1m9 0h1m10 0h1m11 0h1m1 0h1m0 0h1m4 0h1m1 0h1m18 0h1m-167 1h1m22 0h1m6 0h1m8 0h1m8 0h1m0 0h1m10 0h1m20 0h1m13 0h1m3 0h1m0 0h1m6 0h1m4 0h1m11 0h1m6 0h1m2 0h1m4 0h1m4 0h1m4 0h1m5 0h1m0 0h1m17 0h1m-176 1h1m0 0h1m1 0h1m8 0h1m0 0h1m8 0h1m10 0h1m10 0h1m17 0h1m1 0h1m1 0h1m1 0h1m2 0h1m1 0h1m11 0h1m6 0h1m10 0h1m2 0h1m8 0h1m0 0h1m15 0h1m0 0h1m6 0h1m10 0h1m1 0h1m0 0h1m10 0h1m0 0h1m5 0h1m-176 1h1m10 0h1m4 0h1m3 0h1m4 0h1m15 0h1m13 0h1m1 0h1m7 0h1m5 0h1m5 0h1m10 0h1m6 0h1m2 0h1m5 0h1m3 0h1m0 0h1m16 0h1m2 0h1m8 0h1m4 0h1m6 0h1m7 0h1m6 0h1m5 0h1m2 0h1m6 0h1m-180 1h1m1 0h1m0 0h1m16 0h1m8 0h1m1 0h1m1 0h1m5 0h1m3 0h1m0 0h1m5 0h1m1 0h1m9 0h1m9 0h1m16 0h1m7 0h1m2 0h1m2 0h1m0 0h1m36 0h1m2 0h1m2 0h1m3 0h1m0 0h1m0 0h1m3 0h1m5 0h1m2 0h1m2 0h1m9 0h1m-182 1h1m3 0h1m1 0h1m4 0h1m11 0h1m3 0h1m5 0h1m5 0h1m8 0h1m0 0h1m2 0h1m9 0h1m4 0h1m14 0h1m8 0h1m10 0h1m1 0h1m4 0h1m11 0h1m6 0h1m5 0h1m10 0h1m4 0h1m2 0h1m5 0h1m4 0h1m10 0h1m2 0h1m1 0h1m0 0h1m-182 1h1m19 0h1m1 0h1m0 0h1m38 0h1m1 0h1m0 0h1m0 0h1m0 0h1m4 0h1m7 0h1m1 0h1m20 0h1m4 0h1m7 0h1m5 0h1m16 0h1m11 0h1m3 0h1m13 0h1m0 0h1m6 0h1m0 0h1m-175 1h1m7 0h1m12 0h1m15 0h1m6 0h1m4 0h1m7 0h1m3 0h1m1 0h1m1 0h1m1 0h1m11 0h1m0 0h1m15 0h1m2 0h1m2 0h1m0 0h1m1 0h1m6 0h1m16 0h1m2 0h1m4 0h1m9 0h1m4 0h1m0 0h1m16 0h1m6 0h1m-164 1h1m3 0h1m5 0h1m2 0h1m1 0h1m0 0h1m11 0h1m5 0h1m12 0h1m1 0h1m6 0h1m7 0h1m2 0h1m6 0h1m6 0h1m4 0h1m0 0h1m6 0h1m3 0h1m8 0h1m1 0h1m0 0h1m4 0h1m0 0h1m7 0h1m2 0h1m9 0h1m1 0h1m0 0h1m1 0h1m16 0h1m0 0h1m0 0h1m-178 1h1m4 0h1m11 0h1m3 0h1m3 0h1m7 0h1m2 0h1m9 0h1m0 0h1m12 0h1m4 0h1m18 0h1m6 0h1m5 0h1m12 0h1m3 0h1m1 0h1m9 0h1m1 0h1m7 0h1m4 0h1m6 0h1m3 0h1m1 0h1m14 0h1m0 0h1m4 0h1m4 0h1m-179 1h1m2 0h1m2 0h1m0 0h1m1 0h1m2 0h1m1 0h1m4 0h1m7 0h1m2 0h1m6 0h1m1 0h1m5 0h1m0 0h1m1 0h1m8 0h1m6 0h1m0 0h1m2 0h1m3 0h1m2 0h1m2 0h1m6 0h1m1 0h1m7 0h1m4 0h1m7 0h1m3 0h1m9 0h1m0 0h1m0 0h1m1 0h1m8 0h1m8 0h1m3 0h1m3 0h1m7 0h1m3 0h1m1 0h1m1 0h1m0 0h1m0 0h1m-169 1h1m2 0h1m5 0h1m2 0h1m4 0h1m2 0h1m4 0h1m1 0h1m0 0h1m1 0h1m1 0h1m4 0h1m3 0h1m0 0h1m0 0h1m3 0h1m6 0h1m11 0h1m2 0h1m11 0h1m6 0h1m9 0h1m2 0h1m4 0h1m3 0h1m5 0h1m0 0h1m6 0h1m0 0h1m6 0h1m5 0h1m0 0h1m2 0h1m3 0h1m22 0h1m4 0h1m-170 1h1m4 0h1m28 0h1m0 0h1m22 0h1m2 0h1m2 0h1m10 0h1m1 0h1m13 0h1m5 0h1m4 0h1m10 0h1m3 0h1m1 0h1m25 0h1m4 0h1m6 0h1m10 0h1m0 0h1m-181 1h1m0 0h1m3 0h1m5 0h1m18 0h1m0 0h1m1 0h1m3 0h1m3 0h1m1 0h1m22 0h1m5 0h1m0 0h1m8 0h1m12 0h1m27 0h1m0 0h1m0 0h1m11 0h1m0 0h1m0 0h1m5 0h1m9 0h1m0 0h1m13 0h1m2 0h1m0 0h1m3 0h1m1 0h1m0 0h1m-181 1h1m10 0h1m10 0h1m0 0h1m14 0h1m3 0h1m3 0h1m5 0h1m1 0h1m1 0h1m2 0h1m10 0h1m3 0h1m7 0h1m0 0h1m0 0h1m5 0h1m0 0h1m2 0h1m3 0h1m2 0h1m0 0h1m1 0h1m7 0h1m2 0h1m6 0h1m4 0h1m2 0h1m1 0h1m0 0h1m4 0h1m5 0h1m9 0h1m1 0h1m0 0h1m15 0h1m-174 1h1m0 0h1m3 0h1m2 0h1m0 0h1m1 0h1m14 0h1m3 0h1m0 0h1m2 0h1m2 0h1m9 0h1m1 0h1m1 0h1m16 0h1m3 0h1m12 0h1m3 0h1m0 0h1m0 0h1m8 0h1m11 0h1m2 0h1m13 0h1m4 0h1m0 0h1m0 0h1m7 0h1m6 0h1m4 0h1m7 0h1m6 0h1m-173 1h1m1 0h1m3 0h1m17 0h1m16 0h1m8 0h1m0 0h1m1 0h1m2 0h1m1 0h1m1 0h1m10 0h1m1 0h1m9 0h1m3 0h1m2 0h1m1 0h1m1 0h1m3 0h1m6 0h1m7 0h1m16 0h1m2 0h1m4 0h1m3 0h1m1 0h1m2 0h1m26 0h1m0 0h1m0 0h1m1 0h1m0 0h1m1 0h1m-182 1h1m1 0h1m2 0h1m3 0h1m3 0h1m9 0h1m7 0h1m1 0h1m1 0h1m0 0h1m4 0h1m1 0h1m4 0h1m7 0h1m7 0h1m9 0h1m0 0h1m10 0h1m0 0h1m0 0h1m1 0h1m0 0h1m2 0h1m7 0h1m26 0h1m3 0h1m2 0h1m0 0h1m5 0h1m0 0h1m10 0h1m-144 1h1m4 0h1m6 0h1m12 0h1m1 0h1m10 0h1m2 0h1m6 0h1m3 0h1m0 0h1m16 0h1m4 0h1m15 0h1m1 0h1m18 0h1m6 0h1m3 0h1m3 0h1m21 0h1m17 0h1m-179 1h1m6 0h1m6 0h1m0 0h1m12 0h1m20 0h1m2 0h1m0 0h1m11 0h1m23 0h1m12 0h1m9 0h1m13 0h1m12 0h1m1 0h1m12 0h1m18 0h1m0 0h1m3 0h1m1 0h1m-180 1h1m3 0h1m1 0h1m3 0h1m3 0h1m20 0h1m7 0h1m5 0h1m1 0h1m6 0h1m0 0h1m1 0h1m12 0h1m2 0h1m8 0h1m6 0h1m30 0h1m0 0h1m12 0h1m1 0h1m4 0h1m31 0h1m-172 1h1m0 0h1m14 0h1m11 0h1m1 0h1m2 0h1m4 0h1m0 0h1m4 0h1m6 0h1m2 0h1m19 0h1m4 0h1m1 0h1m0 0h1m11 0h1m34 0h1m-137 1h1m4 0h1m2 0h1m5 0h1m4 0h1m6 0h1m1 0h1m8 0h1m4 0h1m9 0h1m2 0h1m6 0h1m8 0h1m3 0h1m11 0h1m6 0h1m5 0h1m3 0h1m7 0h1m21 0h1m19 0h1m-128 1h1m2 0h1m4 0h1m1 0h1m0 0h1m13 0h1m4 0h1m5 0h1m0 0h1m1 0h1m6 0h1m2 0h1m1 0h1m2 0h1m6 0h1m0 0h1m11 0h1m24 0h1m11 0h1m2 0h1m1 0h1m35 0h1m-179 1h1m13 0h1m1 0h1m3 0h1m0 0h1m8 0h1m10 0h1m1 0h1m0 0h1m7 0h1m2 0h1m1 0h1m4 0h1m1 0h1m7 0h1m5 0h1m2 0h1m3 0h1m5 0h1m8 0h1m0 0h1m30 0h1m5 0h1m4 0h1m5 0h1m-152 1h1m1 0h1m3 0h1m1 0h1m2 0h1m3 0h1m4 0h1m2 0h1m3 0h1m0 0h1m14 0h1m1 0h1m1 0h1m7 0h1m3 0h1m14 0h1m1 0h1m3 0h1m8 0h1m8 0h1m3 0h1m0 0h1m19 0h1m4 0h1m8 0h1m-133 1h1m5 0h1m0 0h1m33 0h1m12 0h1m0 0h1m2 0h1m5 0h1m6 0h1m2 0h1m8 0h1m14 0h1m32 0h1m7 0h1m6 0h1m-152 1h1m7 0h1m7 0h1m1 0h1m11 0h1m12 0h1m1 0h1m7 0h1m9 0h1m24 0h1m1 0h1m2 0h1m4 0h1m4 0h1m19 0h1m11 0h1m0 0h1m14 0h1m0 0h1m7 0h1m18 0h1m-175 1h1m6 0h1m5 0h1m4 0h1m4 0h1m0 0h1m1 0h1m4 0h1m11 0h1m17 0h1m0 0h1m1 0h1m17 0h1m0 0h1m6 0h1m-96 1h1m4 0h1m0 0h1m3 0h1m4 0h1m8 0h1m4 0h1m0 0h1m0 0h1m1 0h1m9 0h1m1 0h1m8 0h1m24 0h1m0 0h1m22 0h1m33 0h1m-138 1h1m4 0h1m0 0h1m24 0h1m1 0h1m1 0h1m12 0h1m7 0h1m4 0h1m2 0h1m0 0h1m11 0h1m11 0h1m9 0h1m23 0h1m13 0h1m6 0h1m35 0h1m-179 1h1m1 0h1m2 0h1m7 0h1m9 0h1m2 0h1m14 0h1m4 0h1m15 0h1m11 0h1m25 0h1m0 0h1m40 0h1m29 0h1m-164 1h1m1 0h1m10 0h1m4 0h1m1 0h1m27 0h1m4 0h1m8 0h1m12 0h1m0 0h1m5 0h1m-86 1h1m4 0h1m15 0h1m5 0h1m18 0h1m9 0h1m15 0h1m4 0h1m3 0h1m23 0h1m65 0h1m-173 1h1m23 0h1m4 0h1m11 0h1m14 0h1m24 0h1m14 0h1m30 0h1m-131 1h1m1 0h1m8 0h1m17 0h1m49 0h1m0 0h1m0 0h1m0 0h1m18 0h1m34 0h1m-135 1h1m18 0h1m9 0h1m28 0h1m-62 1h1m1 0h1m0 0h1m23 0h1m105 0h1m18 0h1m-153 1h1m26 0h1m5 0h1m27 0h1m20 0h1m15 0h1m-87 2h1m32 0h1m36 0h1m0 0h1m16 0h1m36 0h1m-76 1h1m14 0h1m44 0h1m42 0h1m-167 1h1m12 0h1m32 0h1m85 0h1m-10 1h1m-123 2h1m76 0h1m-77 1h1m25 0h1m43 2h1m-60 1h1m64 2h1" transform="translate(0,0.5)" stroke="#0a0a20" stroke-width="1" fill="none" opacity="0.75"/><path d="M183 47h1m-6 7h1m20 0h1m-20 1h1m3 0h1m17 0h1m-19 2h1m14 0h1m-126 1h1m69 0h1m38 0h1m5 0h1m6 0h1m1 0h1m-24 1h1m6 0h1m1 0h1m1 0h1m11 0h1m0 0h1m1 0h1m5 0h1m-67 1h1m10 0h1m22 0h1m2 0h1m20 0h1m1 0h1m-61 1h1m5 0h1m2 0h1m26 0h1m8 0h1m9 0h1m1 0h1m6 0h1m2 0h1m-73 1h1m6 0h1m0 0h1m9 0h1m13 0h1m6 0h1m20 0h1m4 0h1m0 0h1m4 0h1m-28 1h1m0 0h1m16 0h1m0 0h1m1 0h1m0 0h1m4 0h1m-40 1h1m9 0h1m5 0h1m0 0h1m0 0h1m1 0h1m0 0h1m6 0h1m1 0h1m0 0h1m-53 1h1m10 0h1m16 0h1m4 0h1m3 0h1m4 0h1m9 0h1m1 0h1m0 0h1m2 0h1m2 0h1m-68 1h1m10 0h1m5 0h1m0 0h1m15 0h1m7 0h1m1 0h1m0 0h1m11 0h1m0 0h1m1 0h1m3 0h1m-73 1h1m2 0h1m13 0h1m3 0h1m3 0h1m0 0h1m8 0h1m6 0h1m2 0h1m1 0h1m0 0h1m0 0h1m1 0h1m1 0h1m0 0h1m0 0h1m0 0h1m7 0h1m0 0h1m2 0h1m-67 1h1m5 0h1m5 0h1m2 0h1m15 0h1m1 0h1m6 0h1m8 0h1m1 0h1m10 0h1m0 0h1m0 0h1m4 0h1m2 0h1m0 0h1m-126 1h1m57 0h1m5 0h1m2 0h1m1 0h1m1 0h1m3 0h1m16 0h1m2 0h1m1 0h1m4 0h1m0 0h1m0 0h1m0 0h1m0 0h1m6 0h1m1 0h1m0 0h1m0 0h1m0 0h1m0 0h1m0 0h1m5 0h1m-77 1h1m9 0h1m0 0h1m2 0h1m4 0h1m1 0h1m4 0h1m8 0h1m3 0h1m2 0h1m1 0h1m0 0h1m1 0h1m0 0h1m2 0h1m0 0h1m0 0h1m0 0h1m0 0h1m0 0h1m8 0h1m0 0h1m0 0h1m0 0h1m0 0h1m2 0h1m0 0h1m0 0h1m-82 1h1m7 0h1m11 0h1m5 0h1m1 0h1m3 0h1m1 0h1m11 0h1m2 0h1m3 0h1m0 0h1m1 0h1m1 0h1m0 0h1m0 0h1m0 0h1m0 0h1m0 0h1m6 0h1m0 0h1m0 0h1m0 0h1m0 0h1m0 0h1m0 0h1m2 0h1m-73 1h1m1 0h1m3 0h1m1 0h1m2 0h1m5 0h1m2 0h1m5 0h1m8 0h1m3 0h1m0 0h1m1 0h1m2 0h1m0 0h1m0 0h1m5 0h1m1 0h1m0 0h1m6 0h1m1 0h1m0 0h1m0 0h1m0 0h1m3 0h1m2 0h1m1 0h1m-180 1h1m101 0h1m5 0h1m1 0h1m5 0h1m2 0h1m1 0h1m6 0h1m4 0h1m3 0h1m3 0h1m2 0h1m4 0h1m0 0h1m2 0h1m2 0h1m1 0h1m6 0h1m0 0h1m1 0h1m0 0h1m0 0h1m0 0h1m7 0h1m-167 1h1m28 0h1m47 0h1m8 0h1m2 0h1m5 0h1m1 0h1m1 0h1m3 0h1m2 0h1m1 0h1m6 0h1m3 0h1m4 0h1m9 0h1m0 0h1m0 0h1m0 0h1m3 0h1m0 0h1m0 0h1m0 0h1m0 0h1m6 0h1m0 0h1m0 0h1m0 0h1m0 0h1m0 0h1m1 0h1m3 0h1m0 0h1m-107 1h1m30 0h1m1 0h1m10 0h1m3 0h1m1 0h1m5 0h1m0 0h1m5 0h1m2 0h1m1 0h1m4 0h1m4 0h1m5 0h1m1 0h1m0 0h1m6 0h1m0 0h1m0 0h1m1 0h1m0 0h1m0 0h1m0 0h1m1 0h1m3 0h1m-71 1h1m10 0h1m1 0h1m1 0h1m3 0h1m9 0h1m1 0h1m1 0h1m0 0h1m0 0h1m0 0h1m4 0h1m2 0h1m0 0h1m1 0h1m2 0h1m7 0h1m0 0h1m0 0h1m0 0h1m0 0h1m0 0h1m0 0h1m4 0h1m0 0h1m-128 1h1m48 0h1m1 0h1m5 0h1m10 0h1m2 0h1m0 0h1m0 0h1m2 0h1m0 0h1m0 0h1m2 0h1m4 0h1m2 0h1m0 0h1m2 0h1m3 0h1m0 0h1m3 0h1m0 0h1m0 0h1m1 0h1m9 0h1m0 0h1m0 0h1m0 0h1m0 0h1m1 0h1m0 0h1m0 0h1m0 0h1m0 0h1m0 0h1m-179 1h1m89 0h1m6 0h1m0 0h1m1 0h1m7 0h1m1 0h1m5 0h1m4 0h1m1 0h1m3 0h1m0 0h1m0 0h1m4 0h1m1 0h1m0 0h1m6 0h1m2 0h1m1 0h1m0 0h1m2 0h1m0 0h1m0 0h1m0 0h1m1 0h1m6 0h1m2 0h1m0 0h1m0 0h1m0 0h1m2 0h1m1 0h1m1 0h1m0 0h1m-138 1h1m27 0h1m0 0h1m2 0h1m15 0h1m11 0h1m7 0h1m5 0h1m2 0h1m1 0h1m1 0h1m3 0h1m0 0h1m0 0h1m4 0h1m1 0h1m0 0h1m1 0h1m1 0h1m1 0h1m0 0h1m2 0h1m0 0h1m0 0h1m3 0h1m0 0h1m0 0h1m2 0h1m7 0h1m0 0h1m0 0h1m0 0h1m0 0h1m0 0h1m0 0h1m1 0h1m2 0h1m-135 1h1m7 0h1m22 0h1m20 0h1m2 0h1m5 0h1m8 0h1m5 0h1m1 0h1m0 0h1m1 0h1m1 0h1m0 0h1m0 0h1m1 0h1m3 0h1m0 0h1m1 0h1m1 0h1m1 0h1m1 0h1m0 0h1m10 0h1m1 0h1m0 0h1m8 0h1m0 0h1m0 0h1m1 0h1m1 0h1m0 0h1m1 0h1m1 0h1m-167 1h1m7 0h1m40 0h1m9 0h1m1 0h1m16 0h1m7 0h1m0 0h1m0 0h1m1 0h1m6 0h1m0 0h1m2 0h1m5 0h1m1 0h1m6 0h1m0 0h1m4 0h1m1 0h1m0 0h1m3 0h1m2 0h1m0 0h1m3 0h1m2 0h1m0 0h1m0 0h1m2 0h1m0 0h1m6 0h1m3 0h1m4 0h1m1 0h1m-114 1h1m6 0h1m3 0h1m20 0h1m2 0h1m1 0h1m9 0h1m10 0h1m1 0h1m5 0h1m4 0h1m0 0h1m0 0h1m0 0h1m1 0h1m4 0h1m10 0h1m11 0h1m1 0h1m1 0h1m0 0h1m3 0h1m0 0h1m1 0h1m-180 1h1m37 0h1m3 0h1m7 0h1m20 0h1m1 0h1m16 0h1m7 0h1m1 0h1m12 0h1m7 0h1m5 0h1m0 0h1m0 0h1m3 0h1m0 0h1m1 0h1m0 0h1m1 0h1m1 0h1m2 0h1m4 0h1m3 0h1m3 0h1m0 0h1m9 0h1m2 0h1m2 0h1m1 0h1m-176 1h1m11 0h1m11 0h1m17 0h1m1 0h1m6 0h1m1 0h1m11 0h1m4 0h1m2 0h1m15 0h1m0 0h1m3 0h1m2 0h1m3 0h1m18 0h1m1 0h1m0 0h1m2 0h1m0 0h1m0 0h1m3 0h1m0 0h1m2 0h1m1 0h1m1 0h1m2 0h1m12 0h1m0 0h1m12 0h1m0 0h1m5 0h1m-179 1h1m2 0h1m38 0h1m8 0h1m0 0h1m1 0h1m6 0h1m3 0h1m5 0h1m1 0h1m0 0h1m2 0h1m12 0h1m7 0h1m3 0h1m7 0h1m10 0h1m6 0h1m0 0h1m2 0h1m3 0h1m0 0h1m1 0h1m0 0h1m0 0h1m2 0h1m13 0h1m8 0h1m1 0h1m7 0h1m-178 1h1m11 0h1m20 0h1m4 0h1m11 0h1m0 0h1m0 0h1m6 0h1m9 0h1m0 0h1m3 0h1m6 0h1m8 0h1m4 0h1m2 0h1m1 0h1m9 0h1m10 0h1m5 0h1m0 0h1m3 0h1m1 0h1m1 0h1m0 0h1m3 0h1m2 0h1m4 0h1m3 0h1m4 0h1m8 0h1m9 0h1m-178 1h1m7 0h1m1 0h1m14 0h1m8 0h1m7 0h1m7 0h1m0 0h1m0 0h1m1 0h1m8 0h1m2 0h1m2 0h1m0 0h1m0 0h1m1 0h1m0 0h1m20 0h1m2 0h1m3 0h1m7 0h1m10 0h1m1 0h1m4 0h1m3 0h1m1 0h1m2 0h1m1 0h1m1 0h1m2 0h1m27 0h1m3 0h1m0 0h1m-175 1h1m13 0h1m1 0h1m22 0h1m2 0h1m4 0h1m3 0h1m6 0h1m0 0h1m0 0h1m0 0h1m12 0h1m14 0h1m2 0h1m2 0h1m1 0h1m33 0h1m0 0h1m1 0h1m1 0h1m1 0h1m0 0h1m1 0h1m13 0h1m18 0h1m0 0h1m-179 1h1m7 0h1m8 0h1m1 0h1m5 0h1m16 0h1m4 0h1m4 0h1m1 0h1m6 0h1m4 0h1m3 0h1m0 0h1m1 0h1m0 0h1m2 0h1m12 0h1m4 0h1m2 0h1m0 0h1m2 0h1m20 0h1m10 0h1m2 0h1m1 0h1m0 0h1m3 0h1m13 0h1m-159 1h1m0 0h1m10 0h1m2 0h1m9 0h1m10 0h1m8 0h1m1 0h1m2 0h1m1 0h1m1 0h1m9 0h1m6 0h1m1 0h1m0 0h1m2 0h1m4 0h1m7 0h1m4 0h1m0 0h1m1 0h1m1 0h1m0 0h1m0 0h1m10 0h1m6 0h1m13 0h1m1 0h1m2 0h1m2 0h1m1 0h1m-144 1h1m10 0h1m12 0h1m7 0h1m2 0h1m7 0h1m1 0h1m0 0h1m2 0h1m3 0h1m11 0h1m4 0h1m2 0h1m2 0h1m3 0h1m0 0h1m5 0h1m1 0h1m4 0h1m2 0h1m1 0h1m1 0h1m10 0h1m23 0h1m1 0h1m1 0h1m12 0h1m14 0h1m6 0h1m-178 1h1m0 0h1m0 0h1m6 0h1m3 0h1m2 0h1m1 0h1m1 0h1m5 0h1m6 0h1m12 0h1m0 0h1m4 0h1m10 0h1m1 0h1m1 0h1m2 0h1m0 0h1m2 0h1m0 0h1m2 0h1m12 0h1m4 0h1m2 0h1m33 0h1m1 0h1m6 0h1m2 0h1m31 0h1m-177 1h1m0 0h1m11 0h1m1 0h1m0 0h1m0 0h1m1 0h1m5 0h1m4 0h1m2 0h1m2 0h1m1 0h1m3 0h1m3 0h1m1 0h1m2 0h1m0 0h1m1 0h1m7 0h1m0 0h1m0 0h1m3 0h1m2 0h1m1 0h1m0 0h1m2 0h1m2 0h1m1 0h1m7 0h1m4 0h1m4 0h1m22 0h1m13 0h1m6 0h1m-145 1h1m0 0h1m6 0h1m8 0h1m7 0h1m2 0h1m6 0h1m6 0h1m2 0h1m0 0h1m5 0h1m1 0h1m8 0h1m0 0h1m1 0h1m4 0h1m2 0h1m4 0h1m2 0h1m9 0h1m5 0h1m1 0h1m36 0h1m-140 1h1m1 0h1m0 0h1m6 0h1m0 0h1m5 0h1m9 0h1m1 0h1m7 0h1m0 0h1m5 0h1m3 0h1m3 0h1m1 0h1m1 0h1m9 0h1m5 0h1m2 0h1m0 0h1m2 0h1m3 0h1m0 0h1m7 0h1m9 0h1m1 0h1m34 0h1m1 0h1m4 0h1m25 0h1m-172 1h1m0 0h1m2 0h1m4 0h1m8 0h1m7 0h1m6 0h1m0 0h1m1 0h1m4 0h1m1 0h1m0 0h1m2 0h1m4 0h1m0 0h1m1 0h1m9 0h1m1 0h1m3 0h1m2 0h1m0 0h1m2 0h1m2 0h1m0 0h1m0 0h1m5 0h1m1 0h1m1 0h1m44 0h1m3 0h1m-143 1h1m0 0h1m0 0h1m6 0h1m8 0h1m1 0h1m0 0h1m4 0h1m6 0h1m3 0h1m8 0h1m6 0h1m1 0h1m9 0h1m1 0h1m3 0h1m3 0h1m2 0h1m2 0h1m1 0h1m0 0h1m14 0h1m0 0h1m32 0h1m-136 1h1m2 0h1m0 0h1m13 0h1m9 0h1m1 0h1m4 0h1m2 0h1m9 0h1m5 0h1m0 0h1m1 0h1m9 0h1m1 0h1m3 0h1m0 0h1m5 0h1m2 0h1m0 0h1m0 0h1m7 0h1m7 0h1m0 0h1m42 0h1m15 0h1m-162 1h1m2 0h1m0 0h1m6 0h1m0 0h1m5 0h1m1 0h1m10 0h1m22 0h1m2 0h1m15 0h1m0 0h1m1 0h1m0 0h1m2 0h1m2 0h1m1 0h1m0 0h1m6 0h1m46 0h1m1 0h1m-140 1h1m7 0h1m1 0h1m4 0h1m9 0h1m1 0h1m0 0h1m25 0h1m6 0h1m8 0h1m3 0h1m4 0h1m2 0h1m1 0h1m10 0h1m3 0h1m37 0h1m3 0h1m-134 1h1m8 0h1m2 0h1m6 0h1m4 0h1m12 0h1m5 0h1m1 0h1m0 0h1m18 0h1m6 0h1m1 0h1m-83 1h1m0 0h1m1 0h1m5 0h1m7 0h1m7 0h1m1 0h1m4 0h1m2 0h1m0 0h1m27 0h1m5 0h1m10 0h1m0 0h1m0 0h1m51 0h1m-136 1h1m12 0h1m13 0h1m0 0h1m3 0h1m2 0h1m30 0h1m13 0h1m0 0h1m0 0h1m0 0h1m53 0h1m-138 1h1m0 0h1m10 0h1m14 0h1m0 0h1m3 0h1m38 0h1m5 0h1m2 0h1m1 0h1m0 0h1m-83 1h1m26 0h1m48 0h1m2 0h1m1 0h1m0 0h1m-84 1h1m16 0h1m62 0h1m1 0h1m7 0h1m-91 1h1m14 0h1m16 0h1m49 0h1m0 0h1m-84 1h1m81 0h1m-2 1h1m-82 1h1m0 0h1m25 0h1m4 0h1m12 0h1m34 0h1m0 0h1m0 0h1m-70 1h1m71 0h1m-85 1h1m30 0h1m-33 1h1m80 1h1m-81 2h1" transform="translate(0,0.5)" stroke="#0a0a20" stroke-width="1" fill="none" opacity="0.92"/><line x1="28" y1="85.6" x2="210.8" y2="85.6" stroke="#000" stroke-width="1.4"/><polyline points="29.9,97.5 38.2,96.9 46.5,94 54.8,97.5 63.1,96.9 71.5,91.6 79.8,94 88.1,93 96.4,94.8 104.7,88.8 113,99.7 121.3,92.3 129.6,88.1 137.9,75.9 146.2,74.8 154.6,77.2 162.9,83.2 171.2,83.6 179.5,71 187.8,75.6 196.1,68.2 204.4,76.5" fill="none" stroke="#0000ff" stroke-width="1.9" stroke-linejoin="round"/><circle cx="29.9" cy="97.5" r="2.7" fill="#0000ff"/><circle cx="38.2" cy="96.9" r="2.7" fill="#0000ff"/><circle cx="46.5" cy="94" r="2.7" fill="#0000ff"/><circle cx="54.8" cy="97.5" r="2.7" fill="#0000ff"/><circle cx="63.1" cy="96.9" r="2.7" fill="#0000ff"/><circle cx="71.5" cy="91.6" r="2.7" fill="#0000ff"/><circle cx="79.8" cy="94" r="2.7" fill="#0000ff"/><circle cx="88.1" cy="93" r="2.7" fill="#0000ff"/><circle cx="96.4" cy="94.8" r="2.7" fill="#0000ff"/><circle cx="104.7" cy="88.8" r="2.7" fill="#0000ff"/><circle cx="113" cy="99.7" r="2.7" fill="#0000ff"/><circle cx="121.3" cy="92.3" r="2.7" fill="#0000ff"/><circle cx="129.6" cy="88.1" r="2.7" fill="#0000ff"/><circle cx="137.9" cy="75.9" r="2.7" fill="#0000ff"/><circle cx="146.2" cy="74.8" r="2.7" fill="#0000ff"/><circle cx="154.6" cy="77.2" r="2.7" fill="#0000ff"/><circle cx="162.9" cy="83.2" r="2.7" fill="#0000ff"/><circle cx="171.2" cy="83.6" r="2.7" fill="#0000ff"/><circle cx="179.5" cy="71" r="2.7" fill="#0000ff"/><circle cx="187.8" cy="75.6" r="2.7" fill="#0000ff"/><circle cx="196.1" cy="68.2" r="2.7" fill="#0000ff"/><circle cx="204.4" cy="76.5" r="2.7" fill="#0000ff"/></g><line x1="44.6" y1="160" x2="44.6" y2="158.2" stroke="#000" stroke-width="0.6"/><line x1="44.6" y1="11.2" x2="44.6" y2="13" stroke="#000" stroke-width="0.6"/><line x1="61.2" y1="160" x2="61.2" y2="158.2" stroke="#000" stroke-width="0.6"/><line x1="61.2" y1="11.2" x2="61.2" y2="13" stroke="#000" stroke-width="0.6"/><line x1="77.9" y1="160" x2="77.9" y2="158.2" stroke="#000" stroke-width="0.6"/><line x1="77.9" y1="11.2" x2="77.9" y2="13" stroke="#000" stroke-width="0.6"/><line x1="94.5" y1="160" x2="94.5" y2="158.2" stroke="#000" stroke-width="0.6"/><line x1="94.5" y1="11.2" x2="94.5" y2="13" stroke="#000" stroke-width="0.6"/><line x1="111.1" y1="160" x2="111.1" y2="158.2" stroke="#000" stroke-width="0.6"/><line x1="111.1" y1="11.2" x2="111.1" y2="13" stroke="#000" stroke-width="0.6"/><line x1="127.7" y1="160" x2="127.7" y2="158.2" stroke="#000" stroke-width="0.6"/><line x1="127.7" y1="11.2" x2="127.7" y2="13" stroke="#000" stroke-width="0.6"/><line x1="144.3" y1="160" x2="144.3" y2="158.2" stroke="#000" stroke-width="0.6"/><line x1="144.3" y1="11.2" x2="144.3" y2="13" stroke="#000" stroke-width="0.6"/><line x1="160.9" y1="160" x2="160.9" y2="158.2" stroke="#000" stroke-width="0.6"/><line x1="160.9" y1="11.2" x2="160.9" y2="13" stroke="#000" stroke-width="0.6"/><line x1="177.6" y1="160" x2="177.6" y2="158.2" stroke="#000" stroke-width="0.6"/><line x1="177.6" y1="11.2" x2="177.6" y2="13" stroke="#000" stroke-width="0.6"/><line x1="194.2" y1="160" x2="194.2" y2="158.2" stroke="#000" stroke-width="0.6"/><line x1="194.2" y1="11.2" x2="194.2" y2="13" stroke="#000" stroke-width="0.6"/><line x1="28" y1="141.4" x2="29.8" y2="141.4" stroke="#000" stroke-width="0.6"/><line x1="210.8" y1="141.4" x2="209" y2="141.4" stroke="#000" stroke-width="0.6"/><line x1="28" y1="122.8" x2="29.8" y2="122.8" stroke="#000" stroke-width="0.6"/><line x1="210.8" y1="122.8" x2="209" y2="122.8" stroke="#000" stroke-width="0.6"/><line x1="28" y1="104.2" x2="29.8" y2="104.2" stroke="#000" stroke-width="0.6"/><line x1="210.8" y1="104.2" x2="209" y2="104.2" stroke="#000" stroke-width="0.6"/><line x1="28" y1="85.6" x2="29.8" y2="85.6" stroke="#000" stroke-width="0.6"/><line x1="210.8" y1="85.6" x2="209" y2="85.6" stroke="#000" stroke-width="0.6"/><line x1="28" y1="67" x2="29.8" y2="67" stroke="#000" stroke-width="0.6"/><line x1="210.8" y1="67" x2="209" y2="67" stroke="#000" stroke-width="0.6"/><line x1="28" y1="48.4" x2="29.8" y2="48.4" stroke="#000" stroke-width="0.6"/><line x1="210.8" y1="48.4" x2="209" y2="48.4" stroke="#000" stroke-width="0.6"/><line x1="28" y1="29.8" x2="29.8" y2="29.8" stroke="#000" stroke-width="0.6"/><line x1="210.8" y1="29.8" x2="209" y2="29.8" stroke="#000" stroke-width="0.6"/><rect x="28" y="11.2" width="182.8" height="148.8" fill="none" stroke="#000" stroke-width="1.6"/><text transform="translate(24.7,164) scale(0.900,1.000)" font-size="9.7" text-anchor="end" fill="#262626">-60</text><text transform="translate(24.7,145.4) scale(0.900,1.000)" font-size="9.7" text-anchor="end" fill="#262626">-45</text><text transform="translate(24.7,126.8) scale(0.900,1.000)" font-size="9.7" text-anchor="end" fill="#262626">-30</text><text transform="translate(24.7,108.2) scale(0.900,1.000)" font-size="9.7" text-anchor="end" fill="#262626">-15</text><text transform="translate(24.7,89.6) scale(0.900,1.000)" font-size="9.7" text-anchor="end" fill="#262626">0</text><text transform="translate(24.7,71) scale(0.900,1.000)" font-size="9.7" text-anchor="end" fill="#262626">15</text><text transform="translate(24.7,52.4) scale(0.900,1.000)" font-size="9.7" text-anchor="end" fill="#262626">30</text><text transform="translate(24.7,33.8) scale(0.900,1.000)" font-size="9.7" text-anchor="end" fill="#262626">45</text><text transform="translate(24.7,15.2) scale(0.900,1.000)" font-size="9.7" text-anchor="end" fill="#262626">60</text><rect x="32.4" y="15.6" width="140.6" height="11.2" fill="#fff" stroke="#bdbdbd" stroke-width="0.8"/><line x1="34.1" y1="21.2" x2="49" y2="21.2" stroke="#0000ff" stroke-width="1.9"/><circle cx="41.6" cy="21.2" r="2.7" fill="#0000ff"/><text transform="translate(50.2,24.2) scale(0.900,1.000)" font-size="8.9">CoastSat Annual Mean &amp; Std Dev</text><text transform="translate(119.4,154.6) scale(0.935,1.000)" font-size="9.7" text-anchor="middle" font-weight="bold">Solana Beach : 27 CoastSat Transects</text><clipPath id="clipA2"><rect x="28" y="173" width="182.8" height="148"/></clipPath><g clip-path="url(#clipA2)"><line x1="44.6" y1="173" x2="44.6" y2="321" stroke="#e6e6e6" stroke-width="0.8"/><line x1="61.2" y1="173" x2="61.2" y2="321" stroke="#e6e6e6" stroke-width="0.8"/><line x1="77.9" y1="173" x2="77.9" y2="321" stroke="#e6e6e6" stroke-width="0.8"/><line x1="94.5" y1="173" x2="94.5" y2="321" stroke="#e6e6e6" stroke-width="0.8"/><line x1="111.1" y1="173" x2="111.1" y2="321" stroke="#e6e6e6" stroke-width="0.8"/><line x1="127.7" y1="173" x2="127.7" y2="321" stroke="#e6e6e6" stroke-width="0.8"/><line x1="144.3" y1="173" x2="144.3" y2="321" stroke="#e6e6e6" stroke-width="0.8"/><line x1="160.9" y1="173" x2="160.9" y2="321" stroke="#e6e6e6" stroke-width="0.8"/><line x1="177.6" y1="173" x2="177.6" y2="321" stroke="#e6e6e6" stroke-width="0.8"/><line x1="194.2" y1="173" x2="194.2" y2="321" stroke="#e6e6e6" stroke-width="0.8"/><line x1="28" y1="302.5" x2="210.8" y2="302.5" stroke="#e6e6e6" stroke-width="0.8"/><line x1="28" y1="284" x2="210.8" y2="284" stroke="#e6e6e6" stroke-width="0.8"/><line x1="28" y1="265.5" x2="210.8" y2="265.5" stroke="#e6e6e6" stroke-width="0.8"/><line x1="28" y1="247" x2="210.8" y2="247" stroke="#e6e6e6" stroke-width="0.8"/><line x1="28" y1="228.5" x2="210.8" y2="228.5" stroke="#e6e6e6" stroke-width="0.8"/><line x1="28" y1="210" x2="210.8" y2="210" stroke="#e6e6e6" stroke-width="0.8"/><line x1="28" y1="191.5" x2="210.8" y2="191.5" stroke="#e6e6e6" stroke-width="0.8"/><rect x="48.8" y="173" width="8.3" height="148" fill="#cccccc" opacity="0.55"/><rect x="106.9" y="173" width="8.3" height="148" fill="#cccccc" opacity="0.55"/><rect x="156.8" y="173" width="8.3" height="148" fill="#cccccc" opacity="0.55"/><polygon points="50.2,248.5 59,247.8 67,247.2 75,246.5 80,246 90.5,241 96.4,242 106,241.1 116,241.9 126.3,239.4 136.3,228.5 142.2,223.4 146.4,224.3 151,225.2 156,227.6 161.1,230.2 169.5,229.4 177.9,223.5 184.6,221 194.7,220.1 204.8,220.1 211,221 211,250 204.8,250.4 194.7,246.2 184.6,249.5 177.9,247.9 169.5,252.9 161.1,254.6 156,253.7 146.4,252.9 136.3,255.4 126.3,260.4 117.8,263.8 106.1,262.1 96,259.5 91.4,262.8 75.4,273.7 65.3,269.5 59.4,273.7 50.2,265.3" fill="#f9d6d6" stroke="rgba(150,80,80,0.5)" stroke-width="0.6"/><path d="M204 173h1m-29 3h1m-25 1h1m9 1h1m-13 1h1m11 0h1m14 1h1m28 0h1m-57 2h1m1 0h1m13 1h1m9 0h1m21 1h1m-49 2h1m43 0h1m2 0h1m-12 1h1m14 0h1m-50 1h1m26 0h1m-32 1h1m3 0h1m41 0h1m6 0h1m-50 1h1m54 0h1m-42 1h1m1 0h1m17 0h1m5 0h1m-25 1h1m35 0h1m3 0h1m-70 1h1m36 0h1m24 0h1m5 0h1m-67 1h1m36 0h1m1 0h1m25 0h1m-83 1h1m25 0h1m15 0h1m35 0h1m4 0h1m-67 1h1m6 0h1m6 0h1m12 0h1m7 0h1m1 0h1m15 0h1m12 0h1m-22 1h1m10 0h1m4 0h1m-103 1h1m49 0h1m4 0h1m12 0h1m10 0h1m24 0h1m-56 1h1m5 0h1m10 0h1m31 0h1m2 0h1m5 0h1m-108 1h1m40 0h1m6 0h1m3 0h1m33 0h1m10 0h1m11 0h1m-62 1h1m18 0h1m36 0h1m-69 1h1m13 0h1m4 0h1m12 0h1m0 0h1m16 0h1m6 0h1m0 0h1m11 0h1m0 0h1m-46 1h1m3 0h1m9 0h1m6 0h1m22 0h1m0 0h1m-18 1h1m10 0h1m2 0h1m-65 1h1m5 0h1m7 0h1m11 0h1m1 0h1m17 0h1m3 0h1m-50 1h1m34 0h1m2 0h1m1 0h1m6 0h1m15 0h1m-81 1h1m11 0h1m15 0h1m9 0h1m15 0h1m18 0h1m4 0h1m1 0h1m-92 1h1m46 0h1m15 0h1m25 0h1m1 0h1m2 0h1m-72 1h1m5 0h1m7 0h1m13 0h1m2 0h1m8 0h1m15 0h1m4 0h1m2 0h1m1 0h1m4 0h1m-58 1h1m1 0h1m7 0h1m9 0h1m21 0h1m5 0h1m7 0h1m-83 1h1m17 0h1m9 0h1m23 0h1m2 0h1m4 0h1m13 0h1m0 0h1m4 0h1m0 0h1m0 0h1m0 0h1m-95 1h1m10 0h1m6 0h1m17 0h1m4 0h1m2 0h1m1 0h1m0 0h1m5 0h1m12 0h1m4 0h1m7 0h1m1 0h1m5 0h1m7 0h1m-69 1h1m5 0h1m7 0h1m5 0h1m1 0h1m20 0h1m4 0h1m0 0h1m8 0h1m2 0h1m3 0h1m-93 1h1m45 0h1m0 0h1m1 0h1m1 0h1m2 0h1m1 0h1m0 0h1m1 0h1m4 0h1m12 0h1m1 0h1m0 0h1m4 0h1m3 0h1m-100 1h1m9 0h1m10 0h1m11 0h1m11 0h1m1 0h1m3 0h1m17 0h1m4 0h1m4 0h1m0 0h1m2 0h1m2 0h1m9 0h1m6 0h1m-107 1h1m47 0h1m1 0h1m1 0h1m6 0h1m0 0h1m0 0h1m4 0h1m0 0h1m0 0h1m6 0h1m3 0h1m6 0h1m5 0h1m2 0h1m0 0h1m2 0h1m1 0h1m0 0h1m0 0h1m2 0h1m-104 1h1m35 0h1m2 0h1m3 0h1m2 0h1m3 0h1m0 0h1m15 0h1m9 0h1m5 0h1m1 0h1m3 0h1m1 0h1m2 0h1m0 0h1m1 0h1m1 0h1m1 0h1m-103 1h1m39 0h1m4 0h1m0 0h1m11 0h1m6 0h1m4 0h1m9 0h1m3 0h1m3 0h1m1 0h1m0 0h1m0 0h1m1 0h1m7 0h1m2 0h1m-84 1h1m17 0h1m3 0h1m2 0h1m2 0h1m14 0h1m7 0h1m0 0h1m9 0h1m1 0h1m0 0h1m5 0h1m9 0h1m1 0h1m1 0h1m-120 1h1m11 0h1m17 0h1m2 0h1m13 0h1m5 0h1m1 0h1m2 0h1m3 0h1m2 0h1m11 0h1m0 0h1m1 0h1m3 0h1m1 0h1m3 0h1m3 0h1m5 0h1m1 0h1m3 0h1m0 0h1m1 0h1m0 0h1m4 0h1m0 0h1m1 0h1m-119 1h1m8 0h1m24 0h1m16 0h1m1 0h1m2 0h1m0 0h1m0 0h1m0 0h1m2 0h1m6 0h1m0 0h1m0 0h1m5 0h1m1 0h1m0 0h1m4 0h1m0 0h1m1 0h1m3 0h1m1 0h1m1 0h1m1 0h1m0 0h1m6 0h1m0 0h1m1 0h1m4 0h1m4 0h1m-144 1h1m33 0h1m2 0h1m32 0h1m1 0h1m0 0h1m2 0h1m1 0h1m7 0h1m1 0h1m0 0h1m4 0h1m5 0h1m3 0h1m3 0h1m0 0h1m4 0h1m0 0h1m16 0h1m1 0h1m0 0h1m1 0h1m1 0h1m1 0h1m0 0h1m0 0h1m-79 1h1m10 0h1m1 0h1m3 0h1m4 0h1m3 0h1m0 0h1m0 0h1m0 0h1m1 0h1m1 0h1m1 0h1m0 0h1m4 0h1m1 0h1m5 0h1m0 0h1m0 0h1m1 0h1m5 0h1m5 0h1m0 0h1m2 0h1m3 0h1m0 0h1m1 0h1m1 0h1m-89 1h1m1 0h1m8 0h1m7 0h1m5 0h1m1 0h1m19 0h1m0 0h1m5 0h1m2 0h1m4 0h1m8 0h1m1 0h1m6 0h1m3 0h1m-104 1h1m3 0h1m9 0h1m16 0h1m3 0h1m0 0h1m3 0h1m1 0h1m2 0h1m4 0h1m1 0h1m5 0h1m5 0h1m1 0h1m4 0h1m1 0h1m1 0h1m1 0h1m3 0h1m0 0h1m12 0h1m5 0h1m5 0h1m-110 1h1m3 0h1m40 0h1m1 0h1m1 0h1m4 0h1m0 0h1m1 0h1m1 0h1m1 0h1m8 0h1m5 0h1m1 0h1m1 0h1m3 0h1m6 0h1m8 0h1m4 0h1m1 0h1m-131 1h1m12 0h1m8 0h1m21 0h1m9 0h1m7 0h1m4 0h1m1 0h1m2 0h1m3 0h1m1 0h1m10 0h1m5 0h1m0 0h1m4 0h1m5 0h1m4 0h1m2 0h1m4 0h1m1 0h1m4 0h1m1 0h1m0 0h1m-108 1h1m1 0h1m1 0h1m18 0h1m8 0h1m3 0h1m3 0h1m1 0h1m1 0h1m9 0h1m0 0h1m6 0h1m1 0h1m2 0h1m12 0h1m1 0h1m0 0h1m7 0h1m0 0h1m0 0h1m0 0h1m2 0h1m3 0h1m5 0h1m-114 1h1m4 0h1m4 0h1m5 0h1m20 0h1m1 0h1m0 0h1m8 0h1m0 0h1m0 0h1m1 0h1m6 0h1m1 0h1m3 0h1m0 0h1m0 0h1m0 0h1m2 0h1m0 0h1m8 0h1m7 0h1m1 0h1m2 0h1m1 0h1m1 0h1m3 0h1m0 0h1m0 0h1m1 0h1m3 0h1m1 0h1m0 0h1m0 0h1m-133 1h1m24 0h1m24 0h1m4 0h1m5 0h1m1 0h1m0 0h1m0 0h1m5 0h1m0 0h1m2 0h1m1 0h1m3 0h1m2 0h1m0 0h1m12 0h1m0 0h1m9 0h1m1 0h1m2 0h1m0 0h1m1 0h1m5 0h1m2 0h1m-116 1h1m10 0h1m0 0h1m19 0h1m6 0h1m4 0h1m1 0h1m1 0h1m1 0h1m3 0h1m0 0h1m3 0h1m0 0h1m1 0h1m2 0h1m1 0h1m3 0h1m5 0h1m1 0h1m2 0h1m2 0h1m2 0h1m0 0h1m6 0h1m6 0h1m1 0h1m1 0h1m2 0h1m4 0h1m1 0h1m0 0h1m-146 1h1m37 0h1m0 0h1m9 0h1m16 0h1m6 0h1m1 0h1m0 0h1m0 0h1m0 0h1m3 0h1m0 0h1m0 0h1m3 0h1m8 0h1m0 0h1m2 0h1m3 0h1m5 0h1m2 0h1m7 0h1m4 0h1m1 0h1m0 0h1m3 0h1m2 0h1m2 0h1m0 0h1m5 0h1m0 0h1m-129 1h1m8 0h1m8 0h1m3 0h1m2 0h1m25 0h1m0 0h1m3 0h1m2 0h1m4 0h1m0 0h1m0 0h1m2 0h1m2 0h1m2 0h1m2 0h1m0 0h1m1 0h1m0 0h1m1 0h1m0 0h1m0 0h1m0 0h1m1 0h1m2 0h1m4 0h1m6 0h1m5 0h1m1 0h1m4 0h1m2 0h1m1 0h1m0 0h1m3 0h1m0 0h1m-149 1h1m4 0h1m36 0h1m2 0h1m3 0h1m21 0h1m3 0h1m0 0h1m0 0h1m0 0h1m8 0h1m3 0h1m3 0h1m0 0h1m2 0h1m1 0h1m1 0h1m8 0h1m1 0h1m0 0h1m6 0h1m0 0h1m3 0h1m0 0h1m1 0h1m3 0h1m0 0h1m2 0h1m2 0h1m3 0h1m-91 1h1m3 0h1m7 0h1m4 0h1m2 0h1m1 0h1m1 0h1m1 0h1m0 0h1m0 0h1m0 0h1m0 0h1m0 0h1m0 0h1m3 0h1m0 0h1m0 0h1m2 0h1m6 0h1m1 0h1m3 0h1m1 0h1m16 0h1m0 0h1m4 0h1m5 0h1m0 0h1m6 0h1m-110 1h1m2 0h1m4 0h1m6 0h1m0 0h1m6 0h1m1 0h1m2 0h1m2 0h1m0 0h1m1 0h1m3 0h1m0 0h1m0 0h1m0 0h1m2 0h1m1 0h1m0 0h1m0 0h1m0 0h1m7 0h1m1 0h1m0 0h1m1 0h1m4 0h1m11 0h1m4 0h1m0 0h1m8 0h1m7 0h1m2 0h1m1 0h1m0 0h1m-132 1h1m16 0h1m5 0h1m3 0h1m1 0h1m9 0h1m6 0h1m2 0h1m6 0h1m0 0h1m3 0h1m1 0h1m3 0h1m0 0h1m6 0h1m3 0h1m0 0h1m0 0h1m4 0h1m7 0h1m1 0h1m2 0h1m3 0h1m2 0h1m0 0h1m1 0h1m2 0h1m0 0h1m4 0h1m1 0h1m1 0h1m-139 1h1m4 0h1m6 0h1m7 0h1m8 0h1m14 0h1m2 0h1m3 0h1m7 0h1m4 0h1m0 0h1m0 0h1m4 0h1m7 0h1m0 0h1m2 0h1m0 0h1m0 0h1m9 0h1m2 0h1m3 0h1m3 0h1m0 0h1m1 0h1m2 0h1m4 0h1m0 0h1m0 0h1m4 0h1m7 0h1m1 0h1m0 0h1m1 0h1m0 0h1m0 0h1m0 0h1m4 0h1m0 0h1m1 0h1m-155 1h1m10 0h1m12 0h1m1 0h1m18 0h1m7 0h1m6 0h1m0 0h1m2 0h1m0 0h1m0 0h1m3 0h1m2 0h1m2 0h1m8 0h1m0 0h1m0 0h1m2 0h1m2 0h1m4 0h1m0 0h1m0 0h1m0 0h1m2 0h1m1 0h1m0 0h1m0 0h1m4 0h1m1 0h1m1 0h1m0 0h1m0 0h1m2 0h1m1 0h1m0 0h1m1 0h1m0 0h1m1 0h1m2 0h1m2 0h1m1 0h1m3 0h1m-137 1h1m11 0h1m3 0h1m5 0h1m6 0h1m3 0h1m7 0h1m1 0h1m2 0h1m3 0h1m13 0h1m1 0h1m8 0h1m0 0h1m2 0h1m0 0h1m1 0h1m4 0h1m0 0h1m0 0h1m4 0h1m2 0h1m0 0h1m7 0h1m0 0h1m1 0h1m1 0h1m2 0h1m0 0h1m1 0h1m1 0h1m2 0h1m1 0h1m0 0h1m2 0h1m3 0h1m0 0h1m0 0h1m8 0h1m1 0h1m0 0h1m0 0h1m-148 1h1m4 0h1m6 0h1m16 0h1m11 0h1m1 0h1m3 0h1m0 0h1m3 0h1m2 0h1m3 0h1m3 0h1m0 0h1m8 0h1m1 0h1m1 0h1m0 0h1m0 0h1m0 0h1m2 0h1m0 0h1m3 0h1m2 0h1m4 0h1m0 0h1m0 0h1m2 0h1m0 0h1m0 0h1m0 0h1m2 0h1m1 0h1m1 0h1m2 0h1m17 0h1m0 0h1m0 0h1m3 0h1m1 0h1m0 0h1m1 0h1m1 0h1m-146 1h1m11 0h1m3 0h1m3 0h1m8 0h1m15 0h1m2 0h1m6 0h1m2 0h1m5 0h1m0 0h1m2 0h1m2 0h1m3 0h1m9 0h1m3 0h1m1 0h1m0 0h1m2 0h1m5 0h1m0 0h1m1 0h1m3 0h1m1 0h1m1 0h1m2 0h1m2 0h1m3 0h1m1 0h1m6 0h1m1 0h1m1 0h1m9 0h1m-134 1h1m7 0h1m12 0h1m12 0h1m3 0h1m3 0h1m9 0h1m0 0h1m1 0h1m7 0h1m2 0h1m0 0h1m1 0h1m6 0h1m2 0h1m3 0h1m2 0h1m0 0h1m2 0h1m2 0h1m4 0h1m3 0h1m2 0h1m0 0h1m2 0h1m8 0h1m0 0h1m1 0h1m2 0h1m0 0h1m7 0h1m1 0h1m-143 1h1m12 0h1m18 0h1m1 0h1m1 0h1m7 0h1m0 0h1m3 0h1m2 0h1m1 0h1m3 0h1m1 0h1m5 0h1m0 0h1m0 0h1m2 0h1m1 0h1m3 0h1m1 0h1m0 0h1m5 0h1m0 0h1m1 0h1m0 0h1m1 0h1m0 0h1m0 0h1m0 0h1m1 0h1m0 0h1m0 0h1m0 0h1m4 0h1m0 0h1m6 0h1m8 0h1m1 0h1m4 0h1m4 0h1m2 0h1m2 0h1m0 0h1m0 0h1m-154 1h1m1 0h1m3 0h1m8 0h1m2 0h1m3 0h1m3 0h1m6 0h1m1 0h1m7 0h1m3 0h1m1 0h1m0 0h1m1 0h1m1 0h1m8 0h1m2 0h1m9 0h1m2 0h1m1 0h1m0 0h1m1 0h1m7 0h1m1 0h1m0 0h1m1 0h1m1 0h1m0 0h1m1 0h1m0 0h1m4 0h1m0 0h1m1 0h1m4 0h1m0 0h1m1 0h1m0 0h1m1 0h1m3 0h1m2 0h1m5 0h1m0 0h1m5 0h1m-146 1h1m8 0h1m4 0h1m3 0h1m6 0h1m3 0h1m1 0h1m4 0h1m1 0h1m7 0h1m13 0h1m2 0h1m0 0h1m1 0h1m6 0h1m2 0h1m0 0h1m4 0h1m4 0h1m4 0h1m0 0h1m1 0h1m8 0h1m5 0h1m1 0h1m1 0h1m2 0h1m3 0h1m5 0h1m1 0h1m2 0h1m0 0h1m7 0h1m2 0h1m2 0h1m1 0h1m5 0h1m0 0h1m-154 1h1m5 0h1m8 0h1m2 0h1m3 0h1m5 0h1m4 0h1m1 0h1m7 0h1m0 0h1m9 0h1m0 0h1m0 0h1m0 0h1m3 0h1m2 0h1m4 0h1m1 0h1m2 0h1m1 0h1m11 0h1m0 0h1m2 0h1m1 0h1m3 0h1m3 0h1m1 0h1m0 0h1m0 0h1m1 0h1m3 0h1m1 0h1m0 0h1m0 0h1m0 0h1m1 0h1m5 0h1m4 0h1m0 0h1m3 0h1m1 0h1m6 0h1m2 0h1m6 0h1m-158 1h1m13 0h1m3 0h1m8 0h1m8 0h1m5 0h1m3 0h1m1 0h1m5 0h1m0 0h1m3 0h1m4 0h1m1 0h1m0 0h1m8 0h1m2 0h1m0 0h1m1 0h1m5 0h1m2 0h1m3 0h1m1 0h1m4 0h1m3 0h1m1 0h1m0 0h1m0 0h1m1 0h1m1 0h1m0 0h1m3 0h1m0 0h1m3 0h1m1 0h1m14 0h1m15 0h1m-153 1h1m12 0h1m2 0h1m3 0h1m12 0h1m3 0h1m4 0h1m2 0h1m2 0h1m1 0h1m1 0h1m0 0h1m5 0h1m2 0h1m1 0h1m1 0h1m0 0h1m1 0h1m1 0h1m0 0h1m1 0h1m2 0h1m2 0h1m4 0h1m1 0h1m1 0h1m2 0h1m5 0h1m0 0h1m2 0h1m1 0h1m3 0h1m1 0h1m6 0h1m9 0h1m0 0h1m6 0h1m1 0h1m4 0h1m3 0h1m3 0h1m-145 1h1m2 0h1m6 0h1m7 0h1m1 0h1m6 0h1m9 0h1m1 0h1m2 0h1m0 0h1m1 0h1m2 0h1m6 0h1m1 0h1m0 0h1m4 0h1m0 0h1m0 0h1m0 0h1m1 0h1m0 0h1m0 0h1m2 0h1m3 0h1m5 0h1m0 0h1m0 0h1m3 0h1m2 0h1m3 0h1m0 0h1m4 0h1m5 0h1m2 0h1m5 0h1m3 0h1m1 0h1m12 0h1m1 0h1m5 0h1m0 0h1m-146 1h1m2 0h1m10 0h1m5 0h1m10 0h1m3 0h1m5 0h1m1 0h1m2 0h1m3 0h1m2 0h1m1 0h1m0 0h1m0 0h1m0 0h1m3 0h1m6 0h1m1 0h1m9 0h1m0 0h1m1 0h1m13 0h1m2 0h1m6 0h1m4 0h1m2 0h1m0 0h1m3 0h1m0 0h1m4 0h1m2 0h1m8 0h1m5 0h1m-157 1h1m2 0h1m7 0h1m13 0h1m10 0h1m10 0h1m2 0h1m4 0h1m4 0h1m3 0h1m1 0h1m0 0h1m0 0h1m7 0h1m0 0h1m2 0h1m1 0h1m7 0h1m0 0h1m0 0h1m10 0h1m2 0h1m1 0h1m1 0h1m5 0h1m5 0h1m16 0h1m1 0h1m-106 1h1m9 0h1m4 0h1m0 0h1m2 0h1m2 0h1m0 0h1m0 0h1m6 0h1m3 0h1m2 0h1m0 0h1m0 0h1m2 0h1m0 0h1m0 0h1m0 0h1m2 0h1m1 0h1m2 0h1m1 0h1m1 0h1m8 0h1m0 0h1m7 0h1m7 0h1m3 0h1m5 0h1m1 0h1m14 0h1m1 0h1m5 0h1m-151 1h1m5 0h1m6 0h1m2 0h1m7 0h1m16 0h1m0 0h1m0 0h1m2 0h1m2 0h1m1 0h1m0 0h1m5 0h1m4 0h1m0 0h1m9 0h1m2 0h1m1 0h1m0 0h1m2 0h1m2 0h1m0 0h1m2 0h1m9 0h1m4 0h1m7 0h1m0 0h1m0 0h1m1 0h1m1 0h1m13 0h1m2 0h1m13 0h1m1 0h1m-153 1h1m5 0h1m9 0h1m5 0h1m8 0h1m1 0h1m7 0h1m0 0h1m0 0h1m22 0h1m0 0h1m0 0h1m2 0h1m0 0h1m2 0h1m5 0h1m1 0h1m0 0h1m0 0h1m6 0h1m3 0h1m8 0h1m4 0h1m2 0h1m5 0h1m2 0h1m10 0h1m5 0h1m1 0h1m0 0h1m9 0h1m-158 1h1m2 0h1m5 0h1m1 0h1m9 0h1m3 0h1m1 0h1m1 0h1m6 0h1m10 0h1m5 0h1m1 0h1m1 0h1m2 0h1m0 0h1m1 0h1m2 0h1m5 0h1m2 0h1m3 0h1m5 0h1m0 0h1m8 0h1m1 0h1m4 0h1m1 0h1m3 0h1m2 0h1m2 0h1m0 0h1m2 0h1m1 0h1m6 0h1m8 0h1m17 0h1m-155 1h1m4 0h1m5 0h1m6 0h1m2 0h1m14 0h1m5 0h1m3 0h1m0 0h1m0 0h1m6 0h1m3 0h1m1 0h1m5 0h1m6 0h1m0 0h1m0 0h1m9 0h1m5 0h1m2 0h1m0 0h1m3 0h1m0 0h1m4 0h1m8 0h1m5 0h1m5 0h1m0 0h1m5 0h1m15 0h1m1 0h1m-150 1h1m5 0h1m1 0h1m2 0h1m3 0h1m6 0h1m16 0h1m3 0h1m7 0h1m2 0h1m1 0h1m1 0h1m2 0h1m1 0h1m5 0h1m1 0h1m2 0h1m6 0h1m7 0h1m1 0h1m3 0h1m2 0h1m0 0h1m0 0h1m1 0h1m9 0h1m0 0h1m0 0h1m0 0h1m9 0h1m3 0h1m1 0h1m1 0h1m13 0h1m5 0h1m-152 1h1m12 0h1m2 0h1m7 0h1m1 0h1m6 0h1m8 0h1m7 0h1m1 0h1m1 0h1m6 0h1m0 0h1m16 0h1m1 0h1m5 0h1m7 0h1m2 0h1m0 0h1m3 0h1m3 0h1m2 0h1m1 0h1m2 0h1m12 0h1m13 0h1m-127 1h1m5 0h1m8 0h1m16 0h1m3 0h1m1 0h1m0 0h1m2 0h1m5 0h1m4 0h1m1 0h1m7 0h1m7 0h1m1 0h1m1 0h1m1 0h1m3 0h1m2 0h1m0 0h1m5 0h1m12 0h1m2 0h1m1 0h1m11 0h1m8 0h1m-147 1h1m3 0h1m1 0h1m34 0h1m1 0h1m2 0h1m1 0h1m0 0h1m3 0h1m0 0h1m3 0h1m3 0h1m0 0h1m8 0h1m1 0h1m6 0h1m2 0h1m5 0h1m1 0h1m2 0h1m9 0h1m0 0h1m0 0h1m2 0h1m11 0h1m12 0h1m3 0h1m2 0h1m4 0h1m-148 1h1m12 0h1m2 0h1m5 0h1m10 0h1m7 0h1m4 0h1m5 0h1m1 0h1m1 0h1m1 0h1m2 0h1m0 0h1m1 0h1m1 0h1m0 0h1m28 0h1m18 0h1m5 0h1m9 0h1m13 0h1m-151 1h1m10 0h1m13 0h1m5 0h1m4 0h1m5 0h1m3 0h1m4 0h1m0 0h1m7 0h1m5 0h1m0 0h1m0 0h1m4 0h1m18 0h1m3 0h1m5 0h1m9 0h1m1 0h1m0 0h1m0 0h1m17 0h1m14 0h1m-129 1h1m5 0h1m30 0h1m0 0h1m3 0h1m0 0h1m2 0h1m3 0h1m2 0h1m1 0h1m0 0h1m1 0h1m4 0h1m2 0h1m20 0h1m1 0h1m0 0h1m0 0h1m11 0h1m3 0h1m3 0h1m11 0h1m-134 1h1m15 0h1m8 0h1m5 0h1m3 0h1m0 0h1m4 0h1m5 0h1m1 0h1m0 0h1m1 0h1m2 0h1m0 0h1m0 0h1m2 0h1m17 0h1m4 0h1m6 0h1m0 0h1m12 0h1m3 0h1m7 0h1m22 0h1m4 0h1m-151 1h1m5 0h1m13 0h1m12 0h1m11 0h1m2 0h1m1 0h1m3 0h1m7 0h1m1 0h1m1 0h1m10 0h1m5 0h1m7 0h1m11 0h1m11 0h1m31 0h1m3 0h1m-152 1h1m3 0h1m8 0h1m2 0h1m5 0h1m14 0h1m10 0h1m1 0h1m1 0h1m2 0h1m6 0h1m4 0h1m3 0h1m2 0h1m12 0h1m3 0h1m1 0h1m2 0h1m6 0h1m3 0h1m12 0h1m2 0h1m7 0h1m19 0h1m-148 1h1m37 0h1m6 0h1m9 0h1m4 0h1m4 0h1m1 0h1m0 0h1m14 0h1m10 0h1m4 0h1m3 0h1m1 0h1m5 0h1m6 0h1m2 0h1m24 0h1m-114 1h1m5 0h1m1 0h1m1 0h1m6 0h1m0 0h1m0 0h1m2 0h1m1 0h1m0 0h1m0 0h1m0 0h1m3 0h1m1 0h1m1 0h1m1 0h1m12 0h1m8 0h1m6 0h1m21 0h1m-131 1h1m2 0h1m1 0h1m3 0h1m36 0h1m5 0h1m2 0h1m5 0h1m5 0h1m9 0h1m18 0h1m15 0h1m12 0h1m-126 1h1m4 0h1m5 0h1m30 0h1m14 0h1m1 0h1m29 0h1m21 0h1m0 0h1m25 0h1m-134 1h1m32 0h1m8 0h1m0 0h1m1 0h1m0 0h1m9 0h1m2 0h1m6 0h1m7 0h1m10 0h1m5 0h1m6 0h1m6 0h1m5 0h1m8 0h1m8 0h1m15 0h1m-151 1h1m2 0h1m7 0h1m24 0h1m5 0h1m16 0h1m29 0h1m7 0h1m27 0h1m-126 1h1m35 0h1m11 0h1m1 0h1m13 0h1m1 0h1m5 0h1m0 0h1m3 0h1m19 0h1m10 0h1m2 0h1m2 0h1m2 0h1m6 0h1m0 0h1m29 0h1m-114 1h1m12 0h1m12 0h1m0 0h1m7 0h1m1 0h1m16 0h1m13 0h1m6 0h1m6 0h1m-122 1h1m34 0h1m3 0h1m9 0h1m6 0h1m1 0h1m2 0h1m3 0h1m0 0h1m33 0h1m13 0h1m2 0h1m4 0h1m1 0h1m0 0h1m9 0h1m16 0h1m-153 1h1m60 0h1m49 0h1m2 0h1m6 0h1m17 0h1m6 0h1m-147 1h1m34 0h1m11 0h1m1 0h1m7 0h1m8 0h1m9 0h1m70 0h1m-148 1h1m1 0h1m46 0h1m6 0h1m12 0h1m25 0h1m4 0h1m-101 1h1m43 0h1m24 0h1m35 0h1m46 0h1m-153 1h1m92 0h1m0 0h1m2 0h1m16 0h1m2 0h1m-118 1h1m46 0h1m10 0h1m25 0h1m54 0h1m13 0h1m-115 1h1m7 0h1m69 0h1m-79 1h1m7 0h1m59 0h1m-42 1h1m17 0h1m-27 1h1m55 0h1m7 0h1m-78 1h1m1 0h1m57 0h1m-59 1h1m8 0h1m1 0h1m38 0h1m41 0h1m-143 1h1m41 0h1m28 0h1m-25 1h1m23 0h1m45 0h1m-70 1h1m3 0h1m6 1h1m50 0h1m13 0h1m-66 1h1m12 0h1m39 0h1m7 1h1m-25 1h1m27 2h1m0 0h1m-84 1h1m29 0h1m23 0h1m53 2h1m-34 1h1m-8 1h1m-1 2h1m-22 7h1m27 6h1" transform="translate(0,0.5)" stroke="#0a0a20" stroke-width="1" fill="none" opacity="0.55"/><path d="M197 187h1m-29 3h1m-1 8h1m-4 3h1m25 0h1m-45 1h1m11 1h1m46 1h1m-4 1h1m-56 2h1m16 1h1m13 0h1m20 0h1m-16 2h1m15 0h1m-62 1h1m10 1h1m14 0h1m-20 1h1m53 0h1m-2 1h1m-43 1h1m20 0h1m12 0h1m3 0h1m-43 1h1m24 0h1m16 0h1m2 0h1m-49 1h1m23 0h1m26 0h1m3 0h1m-27 1h1m16 0h1m-63 1h1m23 0h1m16 0h1m15 0h1m10 0h1m-52 1h1m12 0h1m21 0h1m0 0h1m-9 1h1m-34 1h1m19 0h1m35 0h1m-81 1h1m11 0h1m65 0h1m-67 1h1m17 0h1m21 0h1m3 0h1m5 0h1m1 0h1m11 0h1m2 0h1m3 0h1m0 0h1m-85 1h1m6 0h1m16 0h1m13 0h1m9 0h1m7 0h1m7 0h1m7 0h1m5 0h1m1 0h1m0 0h1m0 0h1m-69 1h1m3 0h1m3 0h1m19 0h1m1 0h1m3 0h1m15 0h1m0 0h1m8 0h1m3 0h1m-93 1h1m30 0h1m0 0h1m17 0h1m0 0h1m13 0h1m12 0h1m1 0h1m4 0h1m4 0h1m2 0h1m-80 1h1m2 0h1m18 0h1m1 0h1m8 0h1m20 0h1m2 0h1m4 0h1m3 0h1m7 0h1m1 0h1m-61 1h1m0 0h1m4 0h1m1 0h1m3 0h1m25 0h1m0 0h1m1 0h1m1 0h1m11 0h1m0 0h1m7 0h1m-101 1h1m5 0h1m34 0h1m13 0h1m7 0h1m16 0h1m10 0h1m2 0h1m0 0h1m4 0h1m2 0h1m-142 1h1m85 0h1m8 0h1m0 0h1m3 0h1m4 0h1m14 0h1m2 0h1m-61 1h1m25 0h1m17 0h1m4 0h1m2 0h1m4 0h1m2 0h1m2 0h1m4 0h1m2 0h1m4 0h1m-133 1h1m26 0h1m12 0h1m17 0h1m7 0h1m2 0h1m5 0h1m3 0h1m19 0h1m4 0h1m17 0h1m0 0h1m5 0h1m4 0h1m-77 1h1m12 0h1m5 0h1m2 0h1m12 0h1m4 0h1m6 0h1m2 0h1m0 0h1m2 0h1m12 0h1m4 0h1m1 0h1m3 0h1m-81 1h1m25 0h1m4 0h1m0 0h1m6 0h1m2 0h1m6 0h1m1 0h1m3 0h1m8 0h1m0 0h1m2 0h1m0 0h1m1 0h1m4 0h1m1 0h1m-72 1h1m5 0h1m18 0h1m2 0h1m10 0h1m14 0h1m4 0h1m2 0h1m-118 1h1m26 0h1m22 0h1m27 0h1m21 0h1m6 0h1m2 0h1m0 0h1m5 0h1m3 0h1m6 0h1m-127 1h1m32 0h1m14 0h1m4 0h1m10 0h1m0 0h1m6 0h1m21 0h1m12 0h1m12 0h1m0 0h1m-96 1h1m22 0h1m0 0h1m2 0h1m9 0h1m18 0h1m5 0h1m9 0h1m4 0h1m12 0h1m1 0h1m4 0h1m0 0h1m1 0h1m-144 1h1m21 0h1m27 0h1m3 0h1m10 0h1m0 0h1m9 0h1m3 0h1m5 0h1m12 0h1m5 0h1m2 0h1m15 0h1m5 0h1m2 0h1m2 0h1m0 0h1m1 0h1m-106 1h1m2 0h1m3 0h1m2 0h1m4 0h1m7 0h1m2 0h1m4 0h1m15 0h1m7 0h1m0 0h1m3 0h1m12 0h1m2 0h1m3 0h1m1 0h1m20 0h1m1 0h1m1 0h1m1 0h1m-107 1h1m16 0h1m13 0h1m7 0h1m1 0h1m0 0h1m1 0h1m0 0h1m10 0h1m17 0h1m2 0h1m5 0h1m1 0h1m2 0h1m-126 1h1m10 0h1m5 0h1m34 0h1m0 0h1m0 0h1m12 0h1m0 0h1m8 0h1m13 0h1m4 0h1m9 0h1m3 0h1m9 0h1m9 0h1m6 0h1m1 0h1m-129 1h1m5 0h1m4 0h1m20 0h1m2 0h1m12 0h1m1 0h1m3 0h1m4 0h1m5 0h1m1 0h1m3 0h1m1 0h1m6 0h1m12 0h1m2 0h1m8 0h1m3 0h1m4 0h1m6 0h1m-133 1h1m12 0h1m19 0h1m8 0h1m1 0h1m15 0h1m2 0h1m2 0h1m0 0h1m22 0h1m8 0h1m1 0h1m5 0h1m19 0h1m5 0h1m3 0h1m0 0h1m-132 1h1m29 0h1m0 0h1m15 0h1m0 0h1m11 0h1m4 0h1m4 0h1m8 0h1m2 0h1m7 0h1m7 0h1m5 0h1m8 0h1m1 0h1m13 0h1m1 0h1m0 0h1m-140 1h1m14 0h1m23 0h1m0 0h1m16 0h1m1 0h1m1 0h1m0 0h1m3 0h1m4 0h1m2 0h1m13 0h1m7 0h1m1 0h1m1 0h1m16 0h1m14 0h1m8 0h1m-131 1h1m34 0h1m14 0h1m8 0h1m1 0h1m6 0h1m28 0h1m4 0h1m5 0h1m0 0h1m1 0h1m-106 1h1m52 0h1m1 0h1m1 0h1m2 0h1m4 0h1m3 0h1m5 0h1m3 0h1m3 0h1m3 0h1m9 0h1m17 0h1m7 0h1m-109 1h1m5 0h1m4 0h1m9 0h1m14 0h1m2 0h1m4 0h1m0 0h1m0 0h1m17 0h1m0 0h1m3 0h1m4 0h1m-103 1h1m10 0h1m17 0h1m2 0h1m0 0h1m1 0h1m1 0h1m0 0h1m1 0h1m15 0h1m6 0h1m3 0h1m5 0h1m9 0h1m13 0h1m6 0h1m11 0h1m-108 1h1m3 0h1m21 0h1m0 0h1m2 0h1m0 0h1m4 0h1m5 0h1m1 0h1m1 0h1m1 0h1m3 0h1m15 0h1m0 0h1m8 0h1m9 0h1m3 0h1m8 0h1m4 0h1m0 0h1m20 0h1m-142 1h1m3 0h1m6 0h1m1 0h1m1 0h1m24 0h1m1 0h1m4 0h1m1 0h1m4 0h1m0 0h1m31 0h1m4 0h1m4 0h1m3 0h1m-107 1h1m26 0h1m16 0h1m10 0h1m1 0h1m6 0h1m3 0h1m23 0h1m1 0h1m0 0h1m23 0h1m-111 1h1m6 0h1m3 0h1m1 0h1m24 0h1m7 0h1m10 0h1m27 0h1m26 0h1m1 0h1m-115 1h1m12 0h1m26 0h1m8 0h1m1 0h1m3 0h1m14 0h1m2 0h1m9 0h1m1 0h1m5 0h1m9 0h1m2 0h1m7 0h1m9 0h1m-127 1h1m12 0h1m35 0h1m7 0h1m1 0h1m5 0h1m2 0h1m27 0h1m9 0h1m21 0h1m-122 1h1m14 0h1m16 0h1m13 0h1m5 0h1m1 0h1m35 0h1m9 0h1m33 0h1m-142 1h1m21 0h1m14 0h1m1 0h1m6 0h1m3 0h1m6 0h1m2 0h1m77 0h1m-153 1h1m2 0h1m7 0h1m6 0h1m6 0h1m5 0h1m10 0h1m3 0h1m4 0h1m21 0h1m12 0h1m65 0h1m-150 1h1m38 0h1m21 0h1m4 0h1m3 0h1m27 0h1m-102 1h1m59 0h1m3 0h1m9 0h1m33 0h1m-104 1h1m55 0h1m15 0h1m19 0h1m-98 1h1m37 0h1m8 0h1m12 0h1m5 0h1m49 0h1m37 0h1m-155 1h1m54 0h1m53 0h1m14 0h1m-61 1h1m12 0h1m-78 1h1m2 0h1m7 0h1m24 0h1m10 0h1m2 0h1m13 0h1m6 0h1m38 0h1m-100 1h1m30 0h1m57 0h1m9 0h1m-100 1h1m-1 1h1m47 0h1m0 0h1m59 1h1m-21 1h1m-37 1h1m49 0h1m-63 1h1m6 0h1m82 0h1m-105 1h1m59 0h1m-12 2h1m20 0h1m-57 4h1" transform="translate(0,0.5)" stroke="#0a0a20" stroke-width="1" fill="none" opacity="0.75"/><path d="M198 206h1m-16 12h1m-3 1h1m-10 1h1m31 0h1m-13 1h1m-7 1h1m5 1h1m10 0h1m-32 1h1m16 0h1m14 0h1m-16 1h1m8 0h1m-63 1h1m0 0h1m54 0h1m2 0h1m7 0h1m0 0h1m-24 1h1m-16 1h1m8 0h1m0 0h1m18 0h1m7 0h1m0 0h1m-17 1h1m3 0h1m-33 1h1m4 0h1m15 0h1m20 0h1m-23 1h1m2 0h1m-32 1h1m4 0h1m26 0h1m18 0h1m-20 1h1m3 0h1m0 0h1m3 1h1m10 0h1m-30 1h1m-43 1h1m24 0h1m4 0h1m24 0h1m2 0h1m0 0h1m7 0h1m2 0h1m-72 1h1m3 0h1m2 0h1m2 0h1m10 0h1m1 0h1m6 0h1m4 0h1m7 0h1m24 0h1m-95 1h1m30 0h1m4 0h1m17 0h1m14 0h1m12 0h1m-51 1h1m19 0h1m41 0h1m3 0h1m-21 1h1m6 0h1m0 0h1m-112 1h1m24 0h1m26 0h1m12 0h1m6 0h1m13 0h1m18 0h1m4 0h1m6 0h1m-62 1h1m0 0h1m36 0h1m8 0h1m19 0h1m-115 1h1m40 0h1m12 0h1m28 0h1m-36 1h1m28 0h1m17 0h1m18 0h1m-80 1h1m2 0h1m9 0h1m3 0h1m0 0h1m9 0h1m28 0h1m5 0h1m-82 1h1m28 0h1m5 0h1m29 0h1m3 0h1m5 0h1m9 0h1m-85 1h1m24 0h1m0 0h1m1 0h1m5 0h1m2 0h1m0 0h1m9 0h1m8 0h1m18 0h1m3 0h1m19 0h1m-148 1h1m19 0h1m23 0h1m9 0h1m9 0h1m20 0h1m6 0h1m19 0h1m30 0h1m-144 1h1m63 0h1m-56 1h1m67 0h1m14 0h1m3 0h1m8 0h1m18 0h1m6 0h1m-120 1h1m5 0h1m48 0h1m2 0h1m6 0h1m23 0h1m40 0h1m-134 1h1m32 0h1m32 0h1m9 0h1m-29 1h1m35 0h1m5 0h1m-82 1h1m25 1h1m6 0h1m53 0h1m5 0h1m-116 1h1m40 0h1m27 0h1m-17 1h1m5 0h1m-65 1h1m26 1h1m26 0h1m18 0h1m5 0h1m-14 2h1m53 0h1m-110 1h1m63 0h1m0 0h1m-74 1h1m-4 5h1m60 0h1m-59 4h1" transform="translate(0,0.5)" stroke="#0a0a20" stroke-width="1" fill="none" opacity="0.86"/><path d="M192 219h1m-15 1h1m24 0h1m-58 3h1m8 0h1m25 3h1m1 1h1m14 0h1m3 1h1m-28 1h1m24 0h1m-26 2h1m5 0h1m18 0h1m-70 1h1m10 0h1m32 1h1m5 0h1m18 0h1m-21 1h1m19 0h1m-36 1h1m15 0h1m22 0h1m-50 1h1m24 0h1m23 0h1m-40 1h1m30 0h1m7 0h1m-21 1h1m-41 1h1m22 0h1m7 0h1m8 0h1m-47 1h1m5 0h1m0 0h1m10 0h1m24 0h1m6 0h1m9 0h1m-15 1h1m-11 1h1m33 0h1m-63 1h1m38 0h1m23 0h1m-35 1h1m-32 1h1m1 0h1m-39 1h1m44 0h1m7 0h1m8 0h1m3 0h1m28 0h1m-66 1h1m2 0h1m16 0h1m-76 1h1m60 0h1m57 0h1m-95 1h1m6 0h1m9 1h1m-28 2h1m-38 1h1m47 0h1m6 0h1m8 0h1m-19 5h1m8 2h1m36 0h1m-97 4h1m-1 1h1" transform="translate(0,0.5)" stroke="#0a0a20" stroke-width="1" fill="none" opacity="0.92"/><line x1="28" y1="247" x2="210.8" y2="247" stroke="#000" stroke-width="1.4"/><polyline points="54.8,261.1 63.1,257.4 71.4,256.5 79.7,251.7 88,248.8 96.3,255.4 104.7,255.1 113,253.7 121.3,253.7 129.6,249.5 137.9,239.7 146.2,238.6 154.5,240.5 162.8,245.3 171.1,242.6 179.4,234.9 187.8,236.3 196.1,232.1 204.4,235.8" fill="none" stroke="#ff0000" stroke-width="1.9" stroke-linejoin="round"/><circle cx="54.8" cy="261.1" r="2.7" fill="#ff0000"/><circle cx="63.1" cy="257.4" r="2.7" fill="#ff0000"/><circle cx="71.4" cy="256.5" r="2.7" fill="#ff0000"/><circle cx="79.7" cy="251.7" r="2.7" fill="#ff0000"/><circle cx="88" cy="248.8" r="2.7" fill="#ff0000"/><circle cx="96.3" cy="255.4" r="2.7" fill="#ff0000"/><circle cx="104.7" cy="255.1" r="2.7" fill="#ff0000"/><circle cx="113" cy="253.7" r="2.7" fill="#ff0000"/><circle cx="121.3" cy="253.7" r="2.7" fill="#ff0000"/><circle cx="129.6" cy="249.5" r="2.7" fill="#ff0000"/><circle cx="137.9" cy="239.7" r="2.7" fill="#ff0000"/><circle cx="146.2" cy="238.6" r="2.7" fill="#ff0000"/><circle cx="154.5" cy="240.5" r="2.7" fill="#ff0000"/><circle cx="162.8" cy="245.3" r="2.7" fill="#ff0000"/><circle cx="171.1" cy="242.6" r="2.7" fill="#ff0000"/><circle cx="179.4" cy="234.9" r="2.7" fill="#ff0000"/><circle cx="187.8" cy="236.3" r="2.7" fill="#ff0000"/><circle cx="196.1" cy="232.1" r="2.7" fill="#ff0000"/><circle cx="204.4" cy="235.8" r="2.7" fill="#ff0000"/></g><line x1="44.6" y1="321" x2="44.6" y2="319.2" stroke="#000" stroke-width="0.6"/><line x1="44.6" y1="173" x2="44.6" y2="174.8" stroke="#000" stroke-width="0.6"/><line x1="61.2" y1="321" x2="61.2" y2="319.2" stroke="#000" stroke-width="0.6"/><line x1="61.2" y1="173" x2="61.2" y2="174.8" stroke="#000" stroke-width="0.6"/><line x1="77.9" y1="321" x2="77.9" y2="319.2" stroke="#000" stroke-width="0.6"/><line x1="77.9" y1="173" x2="77.9" y2="174.8" stroke="#000" stroke-width="0.6"/><line x1="94.5" y1="321" x2="94.5" y2="319.2" stroke="#000" stroke-width="0.6"/><line x1="94.5" y1="173" x2="94.5" y2="174.8" stroke="#000" stroke-width="0.6"/><line x1="111.1" y1="321" x2="111.1" y2="319.2" stroke="#000" stroke-width="0.6"/><line x1="111.1" y1="173" x2="111.1" y2="174.8" stroke="#000" stroke-width="0.6"/><line x1="127.7" y1="321" x2="127.7" y2="319.2" stroke="#000" stroke-width="0.6"/><line x1="127.7" y1="173" x2="127.7" y2="174.8" stroke="#000" stroke-width="0.6"/><line x1="144.3" y1="321" x2="144.3" y2="319.2" stroke="#000" stroke-width="0.6"/><line x1="144.3" y1="173" x2="144.3" y2="174.8" stroke="#000" stroke-width="0.6"/><line x1="160.9" y1="321" x2="160.9" y2="319.2" stroke="#000" stroke-width="0.6"/><line x1="160.9" y1="173" x2="160.9" y2="174.8" stroke="#000" stroke-width="0.6"/><line x1="177.6" y1="321" x2="177.6" y2="319.2" stroke="#000" stroke-width="0.6"/><line x1="177.6" y1="173" x2="177.6" y2="174.8" stroke="#000" stroke-width="0.6"/><line x1="194.2" y1="321" x2="194.2" y2="319.2" stroke="#000" stroke-width="0.6"/><line x1="194.2" y1="173" x2="194.2" y2="174.8" stroke="#000" stroke-width="0.6"/><line x1="28" y1="302.5" x2="29.8" y2="302.5" stroke="#000" stroke-width="0.6"/><line x1="210.8" y1="302.5" x2="209" y2="302.5" stroke="#000" stroke-width="0.6"/><line x1="28" y1="284" x2="29.8" y2="284" stroke="#000" stroke-width="0.6"/><line x1="210.8" y1="284" x2="209" y2="284" stroke="#000" stroke-width="0.6"/><line x1="28" y1="265.5" x2="29.8" y2="265.5" stroke="#000" stroke-width="0.6"/><line x1="210.8" y1="265.5" x2="209" y2="265.5" stroke="#000" stroke-width="0.6"/><line x1="28" y1="247" x2="29.8" y2="247" stroke="#000" stroke-width="0.6"/><line x1="210.8" y1="247" x2="209" y2="247" stroke="#000" stroke-width="0.6"/><line x1="28" y1="228.5" x2="29.8" y2="228.5" stroke="#000" stroke-width="0.6"/><line x1="210.8" y1="228.5" x2="209" y2="228.5" stroke="#000" stroke-width="0.6"/><line x1="28" y1="210" x2="29.8" y2="210" stroke="#000" stroke-width="0.6"/><line x1="210.8" y1="210" x2="209" y2="210" stroke="#000" stroke-width="0.6"/><line x1="28" y1="191.5" x2="29.8" y2="191.5" stroke="#000" stroke-width="0.6"/><line x1="210.8" y1="191.5" x2="209" y2="191.5" stroke="#000" stroke-width="0.6"/><rect x="28" y="173" width="182.8" height="148" fill="none" stroke="#000" stroke-width="1.6"/><text transform="translate(24.7,325) scale(0.900,1.000)" font-size="9.7" text-anchor="end" fill="#262626">-60</text><text transform="translate(24.7,306.5) scale(0.900,1.000)" font-size="9.7" text-anchor="end" fill="#262626">-45</text><text transform="translate(24.7,288) scale(0.900,1.000)" font-size="9.7" text-anchor="end" fill="#262626">-30</text><text transform="translate(24.7,269.5) scale(0.900,1.000)" font-size="9.7" text-anchor="end" fill="#262626">-15</text><text transform="translate(24.7,251) scale(0.900,1.000)" font-size="9.7" text-anchor="end" fill="#262626">0</text><text transform="translate(24.7,232.5) scale(0.900,1.000)" font-size="9.7" text-anchor="end" fill="#262626">15</text><text transform="translate(24.7,214) scale(0.900,1.000)" font-size="9.7" text-anchor="end" fill="#262626">30</text><text transform="translate(24.7,195.5) scale(0.900,1.000)" font-size="9.7" text-anchor="end" fill="#262626">45</text><text transform="translate(24.7,177) scale(0.900,1.000)" font-size="9.7" text-anchor="end" fill="#262626">60</text><rect x="32.4" y="177.4" width="154.3" height="11.2" fill="#fff" stroke="#bdbdbd" stroke-width="0.8"/><line x1="34.1" y1="183" x2="49" y2="183" stroke="#ff0000" stroke-width="1.9"/><circle cx="41.6" cy="183" r="2.7" fill="#ff0000"/><text transform="translate(50.2,186) scale(0.900,1.000)" font-size="8.9">Survey MHW Annual Mean &amp; Std Dev</text><text transform="translate(119.6,316) scale(0.935,1.000)" font-size="9.7" text-anchor="middle" font-weight="bold">Solana Beach : 27 Survey Transects</text><text transform="translate(119.1,8.5)" font-size="10.2" text-anchor="middle" font-weight="bold">(a)</text><text transform="translate(7.9,86.3) rotate(-90) scale(1.000,0.850)" font-size="10" text-anchor="middle" fill="#262626">Shoreline Position (m)</text><text transform="translate(7.9,246.7) rotate(-90) scale(1.000,0.850)" font-size="10" text-anchor="middle" fill="#262626">MHW Shoreline Position (m)</text><text transform="translate(33.9,331) rotate(-45)" font-size="9.5" text-anchor="end" fill="#262626">2000</text><text transform="translate(50.5,331) rotate(-45)" font-size="9.5" text-anchor="end" fill="#262626">2002</text><text transform="translate(67.1,331) rotate(-45)" font-size="9.5" text-anchor="end" fill="#262626">2004</text><text transform="translate(83.8,331) rotate(-45)" font-size="9.5" text-anchor="end" fill="#262626">2006</text><text transform="translate(100.4,331) rotate(-45)" font-size="9.5" text-anchor="end" fill="#262626">2008</text><text transform="translate(117,331) rotate(-45)" font-size="9.5" text-anchor="end" fill="#262626">2010</text><text transform="translate(133.6,331) rotate(-45)" font-size="9.5" text-anchor="end" fill="#262626">2012</text><text transform="translate(150.2,331) rotate(-45)" font-size="9.5" text-anchor="end" fill="#262626">2014</text><text transform="translate(166.8,331) rotate(-45)" font-size="9.5" text-anchor="end" fill="#262626">2016</text><text transform="translate(183.5,331) rotate(-45)" font-size="9.5" text-anchor="end" fill="#262626">2018</text><text transform="translate(200.1,331) rotate(-45)" font-size="9.5" text-anchor="end" fill="#262626">2020</text><text transform="translate(119.8,356.6) scale(0.950,1.000)" font-size="10.6" text-anchor="middle" fill="#262626">Year</text><path d="M210.8 107.4H232M222 107.4V215.5H210.8" fill="none" stroke="#000" stroke-width="1.3"/><path d="M231.9 101.7L243.1 107.1L231.9 112.5Z" fill="#000"/><path d="M457.3 105.1H467.4V296.3H474.5" fill="none" stroke="#000" stroke-width="1.3"/><path d="M473.9 290.5L484.7 295.9L473.9 301.4Z" fill="#000"/><clipPath id="c274_12"><rect x="274.4" y="12.5" width="182.4" height="58"/></clipPath><g clip-path="url(#c274_12)"><rect x="361.5" y="12.5" width="41.5" height="58" fill="#dff5dc"/><line x1="291" y1="12.5" x2="291" y2="70.5" stroke="#e6e6e6" stroke-width="0.7"/><line x1="307.6" y1="12.5" x2="307.6" y2="70.5" stroke="#e6e6e6" stroke-width="0.7"/><line x1="324.1" y1="12.5" x2="324.1" y2="70.5" stroke="#e6e6e6" stroke-width="0.7"/><line x1="340.7" y1="12.5" x2="340.7" y2="70.5" stroke="#e6e6e6" stroke-width="0.7"/><line x1="357.3" y1="12.5" x2="357.3" y2="70.5" stroke="#e6e6e6" stroke-width="0.7"/><line x1="373.9" y1="12.5" x2="373.9" y2="70.5" stroke="#e6e6e6" stroke-width="0.7"/><line x1="390.5" y1="12.5" x2="390.5" y2="70.5" stroke="#e6e6e6" stroke-width="0.7"/><line x1="407.1" y1="12.5" x2="407.1" y2="70.5" stroke="#e6e6e6" stroke-width="0.7"/><line x1="423.6" y1="12.5" x2="423.6" y2="70.5" stroke="#e6e6e6" stroke-width="0.7"/><line x1="440.2" y1="12.5" x2="440.2" y2="70.5" stroke="#e6e6e6" stroke-width="0.7"/><line x1="274.4" y1="64.7" x2="456.8" y2="64.7" stroke="#ececec" stroke-width="0.6"/><line x1="274.4" y1="58.9" x2="456.8" y2="58.9" stroke="#ececec" stroke-width="0.6"/><line x1="274.4" y1="53.1" x2="456.8" y2="53.1" stroke="#ececec" stroke-width="0.6"/><line x1="274.4" y1="47.3" x2="456.8" y2="47.3" stroke="#ececec" stroke-width="0.6"/><line x1="274.4" y1="35.7" x2="456.8" y2="35.7" stroke="#ececec" stroke-width="0.6"/><line x1="274.4" y1="29.9" x2="456.8" y2="29.9" stroke="#ececec" stroke-width="0.6"/><line x1="274.4" y1="24.1" x2="456.8" y2="24.1" stroke="#ececec" stroke-width="0.6"/><line x1="274.4" y1="18.3" x2="456.8" y2="18.3" stroke="#ececec" stroke-width="0.6"/><line x1="274.4" y1="41.5" x2="456.8" y2="41.5" stroke="#4d4d4d" stroke-width="1.1"/><polyline points="299.3,64.6 307.6,59.6 315.9,53.2 324.1,54.6 332.4,50 340.7,55.4 349,50 357.3,62.4 365.6,47.1 373.9,38.8 382.2,26 390.5,26 398.8,26 407.1,38.8 415.3,37.9 423.6,19.3 431.9,23.5 440.2,21.3 448.5,32.3" fill="none" stroke="#0000ff" stroke-width="1.5" stroke-linejoin="round"/><circle cx="299.3" cy="64.6" r="1.9" fill="#0000ff"/><circle cx="307.6" cy="59.6" r="1.9" fill="#0000ff"/><circle cx="315.9" cy="53.2" r="1.9" fill="#0000ff"/><circle cx="324.1" cy="54.6" r="1.9" fill="#0000ff"/><circle cx="332.4" cy="50" r="1.9" fill="#0000ff"/><circle cx="340.7" cy="55.4" r="1.9" fill="#0000ff"/><circle cx="349" cy="50" r="1.9" fill="#0000ff"/><circle cx="357.3" cy="62.4" r="1.9" fill="#0000ff"/><circle cx="365.6" cy="47.1" r="1.9" fill="#0000ff"/><circle cx="373.9" cy="38.8" r="1.9" fill="#0000ff"/><circle cx="382.2" cy="26" r="1.9" fill="#0000ff"/><circle cx="390.5" cy="26" r="1.9" fill="#0000ff"/><circle cx="398.8" cy="26" r="1.9" fill="#0000ff"/><circle cx="407.1" cy="38.8" r="1.9" fill="#0000ff"/><circle cx="415.3" cy="37.9" r="1.9" fill="#0000ff"/><circle cx="423.6" cy="19.3" r="1.9" fill="#0000ff"/><circle cx="431.9" cy="23.5" r="1.9" fill="#0000ff"/><circle cx="440.2" cy="21.3" r="1.9" fill="#0000ff"/><circle cx="448.5" cy="32.3" r="1.9" fill="#0000ff"/><polyline points="299.3,60.1 307.6,54.6 315.9,53.8 324.1,49.6 332.4,46.8 340.7,54.6 349,52.6 357.3,52.6 365.6,49 373.9,44.3 382.2,30.9 390.5,35.7 398.8,30.4 407.1,38.8 415.3,36.6 423.6,19.8 431.9,25.5 440.2,23.2 448.5,31.5" fill="none" stroke="#ff0000" stroke-width="1.5" stroke-linejoin="round"/><circle cx="299.3" cy="60.1" r="1.9" fill="#ff0000"/><circle cx="307.6" cy="54.6" r="1.9" fill="#ff0000"/><circle cx="315.9" cy="53.8" r="1.9" fill="#ff0000"/><circle cx="324.1" cy="49.6" r="1.9" fill="#ff0000"/><circle cx="332.4" cy="46.8" r="1.9" fill="#ff0000"/><circle cx="340.7" cy="54.6" r="1.9" fill="#ff0000"/><circle cx="349" cy="52.6" r="1.9" fill="#ff0000"/><circle cx="357.3" cy="52.6" r="1.9" fill="#ff0000"/><circle cx="365.6" cy="49" r="1.9" fill="#ff0000"/><circle cx="373.9" cy="44.3" r="1.9" fill="#ff0000"/><circle cx="382.2" cy="30.9" r="1.9" fill="#ff0000"/><circle cx="390.5" cy="35.7" r="1.9" fill="#ff0000"/><circle cx="398.8" cy="30.4" r="1.9" fill="#ff0000"/><circle cx="407.1" cy="38.8" r="1.9" fill="#ff0000"/><circle cx="415.3" cy="36.6" r="1.9" fill="#ff0000"/><circle cx="423.6" cy="19.8" r="1.9" fill="#ff0000"/><circle cx="431.9" cy="25.5" r="1.9" fill="#ff0000"/><circle cx="440.2" cy="23.2" r="1.9" fill="#ff0000"/><circle cx="448.5" cy="31.5" r="1.9" fill="#ff0000"/><rect x="295.1" y="12.5" width="8.3" height="58" fill="#cccccc" opacity="0.55"/><rect x="353.2" y="12.5" width="8.3" height="58" fill="#cccccc" opacity="0.55"/><rect x="402.9" y="12.5" width="8.3" height="58" fill="#cccccc" opacity="0.55"/></g><line x1="274.4" y1="70.5" x2="276" y2="70.5" stroke="#777" stroke-width="0.5"/><line x1="456.8" y1="70.5" x2="455.2" y2="70.5" stroke="#777" stroke-width="0.5"/><line x1="274.4" y1="64.7" x2="276" y2="64.7" stroke="#777" stroke-width="0.5"/><line x1="456.8" y1="64.7" x2="455.2" y2="64.7" stroke="#777" stroke-width="0.5"/><line x1="274.4" y1="58.9" x2="276" y2="58.9" stroke="#777" stroke-width="0.5"/><line x1="456.8" y1="58.9" x2="455.2" y2="58.9" stroke="#777" stroke-width="0.5"/><line x1="274.4" y1="53.1" x2="276" y2="53.1" stroke="#777" stroke-width="0.5"/><line x1="456.8" y1="53.1" x2="455.2" y2="53.1" stroke="#777" stroke-width="0.5"/><line x1="274.4" y1="47.3" x2="276" y2="47.3" stroke="#777" stroke-width="0.5"/><line x1="456.8" y1="47.3" x2="455.2" y2="47.3" stroke="#777" stroke-width="0.5"/><line x1="274.4" y1="41.5" x2="276" y2="41.5" stroke="#777" stroke-width="0.5"/><line x1="456.8" y1="41.5" x2="455.2" y2="41.5" stroke="#777" stroke-width="0.5"/><line x1="274.4" y1="35.7" x2="276" y2="35.7" stroke="#777" stroke-width="0.5"/><line x1="456.8" y1="35.7" x2="455.2" y2="35.7" stroke="#777" stroke-width="0.5"/><line x1="274.4" y1="29.9" x2="276" y2="29.9" stroke="#777" stroke-width="0.5"/><line x1="456.8" y1="29.9" x2="455.2" y2="29.9" stroke="#777" stroke-width="0.5"/><line x1="274.4" y1="24.1" x2="276" y2="24.1" stroke="#777" stroke-width="0.5"/><line x1="456.8" y1="24.1" x2="455.2" y2="24.1" stroke="#777" stroke-width="0.5"/><line x1="274.4" y1="18.3" x2="276" y2="18.3" stroke="#777" stroke-width="0.5"/><line x1="456.8" y1="18.3" x2="455.2" y2="18.3" stroke="#777" stroke-width="0.5"/><line x1="274.4" y1="12.5" x2="276" y2="12.5" stroke="#777" stroke-width="0.5"/><line x1="456.8" y1="12.5" x2="455.2" y2="12.5" stroke="#777" stroke-width="0.5"/><line x1="291" y1="12.5" x2="291" y2="14.1" stroke="#777" stroke-width="0.5"/><line x1="291" y1="70.5" x2="291" y2="68.9" stroke="#777" stroke-width="0.5"/><line x1="307.6" y1="12.5" x2="307.6" y2="14.1" stroke="#777" stroke-width="0.5"/><line x1="307.6" y1="70.5" x2="307.6" y2="68.9" stroke="#777" stroke-width="0.5"/><line x1="324.1" y1="12.5" x2="324.1" y2="14.1" stroke="#777" stroke-width="0.5"/><line x1="324.1" y1="70.5" x2="324.1" y2="68.9" stroke="#777" stroke-width="0.5"/><line x1="340.7" y1="12.5" x2="340.7" y2="14.1" stroke="#777" stroke-width="0.5"/><line x1="340.7" y1="70.5" x2="340.7" y2="68.9" stroke="#777" stroke-width="0.5"/><line x1="357.3" y1="12.5" x2="357.3" y2="14.1" stroke="#777" stroke-width="0.5"/><line x1="357.3" y1="70.5" x2="357.3" y2="68.9" stroke="#777" stroke-width="0.5"/><line x1="373.9" y1="12.5" x2="373.9" y2="14.1" stroke="#777" stroke-width="0.5"/><line x1="373.9" y1="70.5" x2="373.9" y2="68.9" stroke="#777" stroke-width="0.5"/><line x1="390.5" y1="12.5" x2="390.5" y2="14.1" stroke="#777" stroke-width="0.5"/><line x1="390.5" y1="70.5" x2="390.5" y2="68.9" stroke="#777" stroke-width="0.5"/><line x1="407.1" y1="12.5" x2="407.1" y2="14.1" stroke="#777" stroke-width="0.5"/><line x1="407.1" y1="70.5" x2="407.1" y2="68.9" stroke="#777" stroke-width="0.5"/><line x1="423.6" y1="12.5" x2="423.6" y2="14.1" stroke="#777" stroke-width="0.5"/><line x1="423.6" y1="70.5" x2="423.6" y2="68.9" stroke="#777" stroke-width="0.5"/><line x1="440.2" y1="12.5" x2="440.2" y2="14.1" stroke="#777" stroke-width="0.5"/><line x1="440.2" y1="70.5" x2="440.2" y2="68.9" stroke="#777" stroke-width="0.5"/><rect x="274.4" y="12.5" width="182.4" height="58" fill="none" stroke="#8a8a8a" stroke-width="0.9"/><text transform="translate(270.8,21.6)" font-size="9" text-anchor="end" fill="#262626">20</text><text transform="translate(270.8,33.2)" font-size="9" text-anchor="end" fill="#262626">10</text><text transform="translate(270.8,44.8)" font-size="9" text-anchor="end" fill="#262626">0</text><text transform="translate(270.8,56.4)" font-size="9" text-anchor="end" fill="#262626">-10</text><text transform="translate(270.8,68)" font-size="9" text-anchor="end" fill="#262626">-20</text><text transform="translate(336.2,67.9)" font-size="8.5" text-anchor="middle" font-weight="bold">Cardiff</text><text transform="translate(376.4,67.9)" font-size="8.5" text-anchor="middle" font-weight="bold">[1.5km]</text><text transform="translate(454.4,54.9) scale(0.840,1.000)" font-size="9.4" text-anchor="end" fill="#262626">RMSE=3.9</text><text transform="translate(448.4,67.9)" font-size="8.5" font-weight="bold" text-anchor="end">r<tspan font-size="5.8" dy="-3.3">2</tspan><tspan dy="3.3">=0.93</tspan></text><rect x="278.1" y="14.5" width="84.2" height="23.4" fill="#fff" stroke="#7a7a7a" stroke-width="0.7"/><line x1="280.2" y1="20.8" x2="295" y2="20.8" stroke="#0000ff" stroke-width="1.4"/><circle cx="287.7" cy="20.8" r="1.9" fill="#0000ff"/><line x1="280.2" y1="31.6" x2="295" y2="31.6" stroke="#ff0000" stroke-width="1.4"/><circle cx="287.7" cy="31.6" r="1.9" fill="#ff0000"/><text transform="translate(296.4,24.1)" font-size="9.1">&lt;CAcoastSat&gt;</text><text transform="translate(296.4,34.9)" font-size="9.1">&lt;Survey MHW&gt;</text><clipPath id="c274_74"><rect x="274.4" y="74.5" width="182.4" height="58.7"/></clipPath><g clip-path="url(#c274_74)"><rect x="361.5" y="74.5" width="41.5" height="58.7" fill="#dff5dc"/><line x1="291" y1="74.5" x2="291" y2="133.2" stroke="#e6e6e6" stroke-width="0.7"/><line x1="307.6" y1="74.5" x2="307.6" y2="133.2" stroke="#e6e6e6" stroke-width="0.7"/><line x1="324.1" y1="74.5" x2="324.1" y2="133.2" stroke="#e6e6e6" stroke-width="0.7"/><line x1="340.7" y1="74.5" x2="340.7" y2="133.2" stroke="#e6e6e6" stroke-width="0.7"/><line x1="357.3" y1="74.5" x2="357.3" y2="133.2" stroke="#e6e6e6" stroke-width="0.7"/><line x1="373.9" y1="74.5" x2="373.9" y2="133.2" stroke="#e6e6e6" stroke-width="0.7"/><line x1="390.5" y1="74.5" x2="390.5" y2="133.2" stroke="#e6e6e6" stroke-width="0.7"/><line x1="407.1" y1="74.5" x2="407.1" y2="133.2" stroke="#e6e6e6" stroke-width="0.7"/><line x1="423.6" y1="74.5" x2="423.6" y2="133.2" stroke="#e6e6e6" stroke-width="0.7"/><line x1="440.2" y1="74.5" x2="440.2" y2="133.2" stroke="#e6e6e6" stroke-width="0.7"/><line x1="274.4" y1="127.3" x2="456.8" y2="127.3" stroke="#ececec" stroke-width="0.6"/><line x1="274.4" y1="121.5" x2="456.8" y2="121.5" stroke="#ececec" stroke-width="0.6"/><line x1="274.4" y1="115.6" x2="456.8" y2="115.6" stroke="#ececec" stroke-width="0.6"/><line x1="274.4" y1="109.7" x2="456.8" y2="109.7" stroke="#ececec" stroke-width="0.6"/><line x1="274.4" y1="98" x2="456.8" y2="98" stroke="#ececec" stroke-width="0.6"/><line x1="274.4" y1="92.1" x2="456.8" y2="92.1" stroke="#ececec" stroke-width="0.6"/><line x1="274.4" y1="86.2" x2="456.8" y2="86.2" stroke="#ececec" stroke-width="0.6"/><line x1="274.4" y1="80.4" x2="456.8" y2="80.4" stroke="#ececec" stroke-width="0.6"/><line x1="274.4" y1="103.8" x2="456.8" y2="103.8" stroke="#4d4d4d" stroke-width="1.1"/><polyline points="299.3,114.8 307.6,113.7 315.9,109.5 324.1,111.1 332.4,110.3 340.7,111.7 349,106.4 357.3,116.5 365.6,110.3 373.9,106.1 382.2,94.3 390.5,93.2 398.8,95.7 407.1,101.3 415.3,101.9 423.6,89.5 431.9,93.4 440.2,87.3 448.5,95.2" fill="none" stroke="#0000ff" stroke-width="1.5" stroke-linejoin="round"/><circle cx="299.3" cy="114.8" r="1.9" fill="#0000ff"/><circle cx="307.6" cy="113.7" r="1.9" fill="#0000ff"/><circle cx="315.9" cy="109.5" r="1.9" fill="#0000ff"/><circle cx="324.1" cy="111.1" r="1.9" fill="#0000ff"/><circle cx="332.4" cy="110.3" r="1.9" fill="#0000ff"/><circle cx="340.7" cy="111.7" r="1.9" fill="#0000ff"/><circle cx="349" cy="106.4" r="1.9" fill="#0000ff"/><circle cx="357.3" cy="116.5" r="1.9" fill="#0000ff"/><circle cx="365.6" cy="110.3" r="1.9" fill="#0000ff"/><circle cx="373.9" cy="106.1" r="1.9" fill="#0000ff"/><circle cx="382.2" cy="94.3" r="1.9" fill="#0000ff"/><circle cx="390.5" cy="93.2" r="1.9" fill="#0000ff"/><circle cx="398.8" cy="95.7" r="1.9" fill="#0000ff"/><circle cx="407.1" cy="101.3" r="1.9" fill="#0000ff"/><circle cx="415.3" cy="101.9" r="1.9" fill="#0000ff"/><circle cx="423.6" cy="89.5" r="1.9" fill="#0000ff"/><circle cx="431.9" cy="93.4" r="1.9" fill="#0000ff"/><circle cx="440.2" cy="87.3" r="1.9" fill="#0000ff"/><circle cx="448.5" cy="95.2" r="1.9" fill="#0000ff"/><polyline points="299.3,116.8 307.6,113.7 315.9,112.9 324.1,108.3 332.4,105.5 340.7,111.7 349,110.9 357.3,109.7 365.6,110.3 373.9,106.7 382.2,96.2 390.5,95.7 398.8,97.6 407.1,101.9 415.3,99 423.6,91.2 431.9,93.4 440.2,89.2 448.5,92" fill="none" stroke="#ff0000" stroke-width="1.5" stroke-linejoin="round"/><circle cx="299.3" cy="116.8" r="1.9" fill="#ff0000"/><circle cx="307.6" cy="113.7" r="1.9" fill="#ff0000"/><circle cx="315.9" cy="112.9" r="1.9" fill="#ff0000"/><circle cx="324.1" cy="108.3" r="1.9" fill="#ff0000"/><circle cx="332.4" cy="105.5" r="1.9" fill="#ff0000"/><circle cx="340.7" cy="111.7" r="1.9" fill="#ff0000"/><circle cx="349" cy="110.9" r="1.9" fill="#ff0000"/><circle cx="357.3" cy="109.7" r="1.9" fill="#ff0000"/><circle cx="365.6" cy="110.3" r="1.9" fill="#ff0000"/><circle cx="373.9" cy="106.7" r="1.9" fill="#ff0000"/><circle cx="382.2" cy="96.2" r="1.9" fill="#ff0000"/><circle cx="390.5" cy="95.7" r="1.9" fill="#ff0000"/><circle cx="398.8" cy="97.6" r="1.9" fill="#ff0000"/><circle cx="407.1" cy="101.9" r="1.9" fill="#ff0000"/><circle cx="415.3" cy="99" r="1.9" fill="#ff0000"/><circle cx="423.6" cy="91.2" r="1.9" fill="#ff0000"/><circle cx="431.9" cy="93.4" r="1.9" fill="#ff0000"/><circle cx="440.2" cy="89.2" r="1.9" fill="#ff0000"/><circle cx="448.5" cy="92" r="1.9" fill="#ff0000"/><rect x="295.1" y="74.5" width="8.3" height="58.7" fill="#cccccc" opacity="0.55"/><rect x="353.2" y="74.5" width="8.3" height="58.7" fill="#cccccc" opacity="0.55"/><rect x="402.9" y="74.5" width="8.3" height="58.7" fill="#cccccc" opacity="0.55"/></g><line x1="274.4" y1="133.2" x2="276" y2="133.2" stroke="#777" stroke-width="0.5"/><line x1="456.8" y1="133.2" x2="455.2" y2="133.2" stroke="#777" stroke-width="0.5"/><line x1="274.4" y1="127.3" x2="276" y2="127.3" stroke="#777" stroke-width="0.5"/><line x1="456.8" y1="127.3" x2="455.2" y2="127.3" stroke="#777" stroke-width="0.5"/><line x1="274.4" y1="121.5" x2="276" y2="121.5" stroke="#777" stroke-width="0.5"/><line x1="456.8" y1="121.5" x2="455.2" y2="121.5" stroke="#777" stroke-width="0.5"/><line x1="274.4" y1="115.6" x2="276" y2="115.6" stroke="#777" stroke-width="0.5"/><line x1="456.8" y1="115.6" x2="455.2" y2="115.6" stroke="#777" stroke-width="0.5"/><line x1="274.4" y1="109.7" x2="276" y2="109.7" stroke="#777" stroke-width="0.5"/><line x1="456.8" y1="109.7" x2="455.2" y2="109.7" stroke="#777" stroke-width="0.5"/><line x1="274.4" y1="103.8" x2="276" y2="103.8" stroke="#777" stroke-width="0.5"/><line x1="456.8" y1="103.8" x2="455.2" y2="103.8" stroke="#777" stroke-width="0.5"/><line x1="274.4" y1="98" x2="276" y2="98" stroke="#777" stroke-width="0.5"/><line x1="456.8" y1="98" x2="455.2" y2="98" stroke="#777" stroke-width="0.5"/><line x1="274.4" y1="92.1" x2="276" y2="92.1" stroke="#777" stroke-width="0.5"/><line x1="456.8" y1="92.1" x2="455.2" y2="92.1" stroke="#777" stroke-width="0.5"/><line x1="274.4" y1="86.2" x2="276" y2="86.2" stroke="#777" stroke-width="0.5"/><line x1="456.8" y1="86.2" x2="455.2" y2="86.2" stroke="#777" stroke-width="0.5"/><line x1="274.4" y1="80.4" x2="276" y2="80.4" stroke="#777" stroke-width="0.5"/><line x1="456.8" y1="80.4" x2="455.2" y2="80.4" stroke="#777" stroke-width="0.5"/><line x1="274.4" y1="74.5" x2="276" y2="74.5" stroke="#777" stroke-width="0.5"/><line x1="456.8" y1="74.5" x2="455.2" y2="74.5" stroke="#777" stroke-width="0.5"/><line x1="291" y1="74.5" x2="291" y2="76.1" stroke="#777" stroke-width="0.5"/><line x1="291" y1="133.2" x2="291" y2="131.6" stroke="#777" stroke-width="0.5"/><line x1="307.6" y1="74.5" x2="307.6" y2="76.1" stroke="#777" stroke-width="0.5"/><line x1="307.6" y1="133.2" x2="307.6" y2="131.6" stroke="#777" stroke-width="0.5"/><line x1="324.1" y1="74.5" x2="324.1" y2="76.1" stroke="#777" stroke-width="0.5"/><line x1="324.1" y1="133.2" x2="324.1" y2="131.6" stroke="#777" stroke-width="0.5"/><line x1="340.7" y1="74.5" x2="340.7" y2="76.1" stroke="#777" stroke-width="0.5"/><line x1="340.7" y1="133.2" x2="340.7" y2="131.6" stroke="#777" stroke-width="0.5"/><line x1="357.3" y1="74.5" x2="357.3" y2="76.1" stroke="#777" stroke-width="0.5"/><line x1="357.3" y1="133.2" x2="357.3" y2="131.6" stroke="#777" stroke-width="0.5"/><line x1="373.9" y1="74.5" x2="373.9" y2="76.1" stroke="#777" stroke-width="0.5"/><line x1="373.9" y1="133.2" x2="373.9" y2="131.6" stroke="#777" stroke-width="0.5"/><line x1="390.5" y1="74.5" x2="390.5" y2="76.1" stroke="#777" stroke-width="0.5"/><line x1="390.5" y1="133.2" x2="390.5" y2="131.6" stroke="#777" stroke-width="0.5"/><line x1="407.1" y1="74.5" x2="407.1" y2="76.1" stroke="#777" stroke-width="0.5"/><line x1="407.1" y1="133.2" x2="407.1" y2="131.6" stroke="#777" stroke-width="0.5"/><line x1="423.6" y1="74.5" x2="423.6" y2="76.1" stroke="#777" stroke-width="0.5"/><line x1="423.6" y1="133.2" x2="423.6" y2="131.6" stroke="#777" stroke-width="0.5"/><line x1="440.2" y1="74.5" x2="440.2" y2="76.1" stroke="#777" stroke-width="0.5"/><line x1="440.2" y1="133.2" x2="440.2" y2="131.6" stroke="#777" stroke-width="0.5"/><rect x="274.4" y="74.5" width="182.4" height="58.7" fill="none" stroke="#000" stroke-width="1.9"/><text transform="translate(270.8,83.7)" font-size="9" text-anchor="end" fill="#262626">20</text><text transform="translate(270.8,95.4)" font-size="9" text-anchor="end" fill="#262626">10</text><text transform="translate(270.8,107.1)" font-size="9" text-anchor="end" fill="#262626">0</text><text transform="translate(270.8,118.9)" font-size="9" text-anchor="end" fill="#262626">-10</text><text transform="translate(270.8,130.6)" font-size="9" text-anchor="end" fill="#262626">-20</text><text transform="translate(357,130.6)" font-size="8.5" text-anchor="middle" font-weight="bold">Solana Beach [2.5km]</text><text transform="translate(454.4,117.6) scale(0.840,1.000)" font-size="9.4" text-anchor="end" fill="#262626">RMSE=2.4</text><text transform="translate(448.4,130.6)" font-size="8.5" font-weight="bold" text-anchor="end">r<tspan font-size="5.8" dy="-3.3">2</tspan><tspan dy="3.3">=0.90</tspan></text><clipPath id="c274_137"><rect x="274.4" y="137.3" width="182.4" height="58.9"/></clipPath><g clip-path="url(#c274_137)"><rect x="361.5" y="137.3" width="41.5" height="58.9" fill="#dff5dc"/><line x1="291" y1="137.3" x2="291" y2="196.2" stroke="#e6e6e6" stroke-width="0.7"/><line x1="307.6" y1="137.3" x2="307.6" y2="196.2" stroke="#e6e6e6" stroke-width="0.7"/><line x1="324.1" y1="137.3" x2="324.1" y2="196.2" stroke="#e6e6e6" stroke-width="0.7"/><line x1="340.7" y1="137.3" x2="340.7" y2="196.2" stroke="#e6e6e6" stroke-width="0.7"/><line x1="357.3" y1="137.3" x2="357.3" y2="196.2" stroke="#e6e6e6" stroke-width="0.7"/><line x1="373.9" y1="137.3" x2="373.9" y2="196.2" stroke="#e6e6e6" stroke-width="0.7"/><line x1="390.5" y1="137.3" x2="390.5" y2="196.2" stroke="#e6e6e6" stroke-width="0.7"/><line x1="407.1" y1="137.3" x2="407.1" y2="196.2" stroke="#e6e6e6" stroke-width="0.7"/><line x1="423.6" y1="137.3" x2="423.6" y2="196.2" stroke="#e6e6e6" stroke-width="0.7"/><line x1="440.2" y1="137.3" x2="440.2" y2="196.2" stroke="#e6e6e6" stroke-width="0.7"/><line x1="274.4" y1="190.3" x2="456.8" y2="190.3" stroke="#ececec" stroke-width="0.6"/><line x1="274.4" y1="184.4" x2="456.8" y2="184.4" stroke="#ececec" stroke-width="0.6"/><line x1="274.4" y1="178.5" x2="456.8" y2="178.5" stroke="#ececec" stroke-width="0.6"/><line x1="274.4" y1="172.6" x2="456.8" y2="172.6" stroke="#ececec" stroke-width="0.6"/><line x1="274.4" y1="160.9" x2="456.8" y2="160.9" stroke="#ececec" stroke-width="0.6"/><line x1="274.4" y1="155" x2="456.8" y2="155" stroke="#ececec" stroke-width="0.6"/><line x1="274.4" y1="149.1" x2="456.8" y2="149.1" stroke="#ececec" stroke-width="0.6"/><line x1="274.4" y1="143.2" x2="456.8" y2="143.2" stroke="#ececec" stroke-width="0.6"/><line x1="274.4" y1="166.8" x2="456.8" y2="166.8" stroke="#4d4d4d" stroke-width="1.1"/><polyline points="282.7,149.6 291,157.4 299.3,167.9 307.6,162.3 315.9,159.4 324.1,163.7 332.4,158.9 340.7,163.1 349,162.5 357.3,176.6 365.6,171.6 373.9,168.2 382.2,165.9 390.5,167.9 398.8,172.2 407.1,179.1 415.3,180.1 423.6,165.9 431.9,173.5 440.2,167.3 448.5,174.4" fill="none" stroke="#0000ff" stroke-width="1.5" stroke-linejoin="round"/><circle cx="282.7" cy="149.6" r="1.9" fill="#0000ff"/><circle cx="291" cy="157.4" r="1.9" fill="#0000ff"/><circle cx="299.3" cy="167.9" r="1.9" fill="#0000ff"/><circle cx="307.6" cy="162.3" r="1.9" fill="#0000ff"/><circle cx="315.9" cy="159.4" r="1.9" fill="#0000ff"/><circle cx="324.1" cy="163.7" r="1.9" fill="#0000ff"/><circle cx="332.4" cy="158.9" r="1.9" fill="#0000ff"/><circle cx="340.7" cy="163.1" r="1.9" fill="#0000ff"/><circle cx="349" cy="162.5" r="1.9" fill="#0000ff"/><circle cx="357.3" cy="176.6" r="1.9" fill="#0000ff"/><circle cx="365.6" cy="171.6" r="1.9" fill="#0000ff"/><circle cx="373.9" cy="168.2" r="1.9" fill="#0000ff"/><circle cx="382.2" cy="165.9" r="1.9" fill="#0000ff"/><circle cx="390.5" cy="167.9" r="1.9" fill="#0000ff"/><circle cx="398.8" cy="172.2" r="1.9" fill="#0000ff"/><circle cx="407.1" cy="179.1" r="1.9" fill="#0000ff"/><circle cx="415.3" cy="180.1" r="1.9" fill="#0000ff"/><circle cx="423.6" cy="165.9" r="1.9" fill="#0000ff"/><circle cx="431.9" cy="173.5" r="1.9" fill="#0000ff"/><circle cx="440.2" cy="167.3" r="1.9" fill="#0000ff"/><circle cx="448.5" cy="174.4" r="1.9" fill="#0000ff"/><polyline points="282.7,153.8 291,162.3 299.3,168.2 307.6,163.9 315.9,163.7 324.1,166.5 332.4,161.7 340.7,166.8 349,166.8 357.3,171 365.6,169.3 373.9,171 382.2,167.9 390.5,167.9 398.8,170.2 407.1,174.4 415.3,171 423.6,165.1 431.9,169.3 440.2,166.8 448.5,170.2" fill="none" stroke="#ff0000" stroke-width="1.5" stroke-linejoin="round"/><circle cx="282.7" cy="153.8" r="1.9" fill="#ff0000"/><circle cx="291" cy="162.3" r="1.9" fill="#ff0000"/><circle cx="299.3" cy="168.2" r="1.9" fill="#ff0000"/><circle cx="307.6" cy="163.9" r="1.9" fill="#ff0000"/><circle cx="315.9" cy="163.7" r="1.9" fill="#ff0000"/><circle cx="324.1" cy="166.5" r="1.9" fill="#ff0000"/><circle cx="332.4" cy="161.7" r="1.9" fill="#ff0000"/><circle cx="340.7" cy="166.8" r="1.9" fill="#ff0000"/><circle cx="349" cy="166.8" r="1.9" fill="#ff0000"/><circle cx="357.3" cy="171" r="1.9" fill="#ff0000"/><circle cx="365.6" cy="169.3" r="1.9" fill="#ff0000"/><circle cx="373.9" cy="171" r="1.9" fill="#ff0000"/><circle cx="382.2" cy="167.9" r="1.9" fill="#ff0000"/><circle cx="390.5" cy="167.9" r="1.9" fill="#ff0000"/><circle cx="398.8" cy="170.2" r="1.9" fill="#ff0000"/><circle cx="407.1" cy="174.4" r="1.9" fill="#ff0000"/><circle cx="415.3" cy="171" r="1.9" fill="#ff0000"/><circle cx="423.6" cy="165.1" r="1.9" fill="#ff0000"/><circle cx="431.9" cy="169.3" r="1.9" fill="#ff0000"/><circle cx="440.2" cy="166.8" r="1.9" fill="#ff0000"/><circle cx="448.5" cy="170.2" r="1.9" fill="#ff0000"/><rect x="295.1" y="137.3" width="8.3" height="58.9" fill="#cccccc" opacity="0.55"/><rect x="353.2" y="137.3" width="8.3" height="58.9" fill="#cccccc" opacity="0.55"/><rect x="402.9" y="137.3" width="8.3" height="58.9" fill="#cccccc" opacity="0.55"/></g><line x1="274.4" y1="196.2" x2="276" y2="196.2" stroke="#777" stroke-width="0.5"/><line x1="456.8" y1="196.2" x2="455.2" y2="196.2" stroke="#777" stroke-width="0.5"/><line x1="274.4" y1="190.3" x2="276" y2="190.3" stroke="#777" stroke-width="0.5"/><line x1="456.8" y1="190.3" x2="455.2" y2="190.3" stroke="#777" stroke-width="0.5"/><line x1="274.4" y1="184.4" x2="276" y2="184.4" stroke="#777" stroke-width="0.5"/><line x1="456.8" y1="184.4" x2="455.2" y2="184.4" stroke="#777" stroke-width="0.5"/><line x1="274.4" y1="178.5" x2="276" y2="178.5" stroke="#777" stroke-width="0.5"/><line x1="456.8" y1="178.5" x2="455.2" y2="178.5" stroke="#777" stroke-width="0.5"/><line x1="274.4" y1="172.6" x2="276" y2="172.6" stroke="#777" stroke-width="0.5"/><line x1="456.8" y1="172.6" x2="455.2" y2="172.6" stroke="#777" stroke-width="0.5"/><line x1="274.4" y1="166.8" x2="276" y2="166.8" stroke="#777" stroke-width="0.5"/><line x1="456.8" y1="166.8" x2="455.2" y2="166.8" stroke="#777" stroke-width="0.5"/><line x1="274.4" y1="160.9" x2="276" y2="160.9" stroke="#777" stroke-width="0.5"/><line x1="456.8" y1="160.9" x2="455.2" y2="160.9" stroke="#777" stroke-width="0.5"/><line x1="274.4" y1="155" x2="276" y2="155" stroke="#777" stroke-width="0.5"/><line x1="456.8" y1="155" x2="455.2" y2="155" stroke="#777" stroke-width="0.5"/><line x1="274.4" y1="149.1" x2="276" y2="149.1" stroke="#777" stroke-width="0.5"/><line x1="456.8" y1="149.1" x2="455.2" y2="149.1" stroke="#777" stroke-width="0.5"/><line x1="274.4" y1="143.2" x2="276" y2="143.2" stroke="#777" stroke-width="0.5"/><line x1="456.8" y1="143.2" x2="455.2" y2="143.2" stroke="#777" stroke-width="0.5"/><line x1="274.4" y1="137.3" x2="276" y2="137.3" stroke="#777" stroke-width="0.5"/><line x1="456.8" y1="137.3" x2="455.2" y2="137.3" stroke="#777" stroke-width="0.5"/><line x1="291" y1="137.3" x2="291" y2="138.9" stroke="#777" stroke-width="0.5"/><line x1="291" y1="196.2" x2="291" y2="194.6" stroke="#777" stroke-width="0.5"/><line x1="307.6" y1="137.3" x2="307.6" y2="138.9" stroke="#777" stroke-width="0.5"/><line x1="307.6" y1="196.2" x2="307.6" y2="194.6" stroke="#777" stroke-width="0.5"/><line x1="324.1" y1="137.3" x2="324.1" y2="138.9" stroke="#777" stroke-width="0.5"/><line x1="324.1" y1="196.2" x2="324.1" y2="194.6" stroke="#777" stroke-width="0.5"/><line x1="340.7" y1="137.3" x2="340.7" y2="138.9" stroke="#777" stroke-width="0.5"/><line x1="340.7" y1="196.2" x2="340.7" y2="194.6" stroke="#777" stroke-width="0.5"/><line x1="357.3" y1="137.3" x2="357.3" y2="138.9" stroke="#777" stroke-width="0.5"/><line x1="357.3" y1="196.2" x2="357.3" y2="194.6" stroke="#777" stroke-width="0.5"/><line x1="373.9" y1="137.3" x2="373.9" y2="138.9" stroke="#777" stroke-width="0.5"/><line x1="373.9" y1="196.2" x2="373.9" y2="194.6" stroke="#777" stroke-width="0.5"/><line x1="390.5" y1="137.3" x2="390.5" y2="138.9" stroke="#777" stroke-width="0.5"/><line x1="390.5" y1="196.2" x2="390.5" y2="194.6" stroke="#777" stroke-width="0.5"/><line x1="407.1" y1="137.3" x2="407.1" y2="138.9" stroke="#777" stroke-width="0.5"/><line x1="407.1" y1="196.2" x2="407.1" y2="194.6" stroke="#777" stroke-width="0.5"/><line x1="423.6" y1="137.3" x2="423.6" y2="138.9" stroke="#777" stroke-width="0.5"/><line x1="423.6" y1="196.2" x2="423.6" y2="194.6" stroke="#777" stroke-width="0.5"/><line x1="440.2" y1="137.3" x2="440.2" y2="138.9" stroke="#777" stroke-width="0.5"/><line x1="440.2" y1="196.2" x2="440.2" y2="194.6" stroke="#777" stroke-width="0.5"/><rect x="274.4" y="137.3" width="182.4" height="58.9" fill="none" stroke="#8a8a8a" stroke-width="0.9"/><text transform="translate(270.8,146.5)" font-size="9" text-anchor="end" fill="#262626">20</text><text transform="translate(270.8,158.3)" font-size="9" text-anchor="end" fill="#262626">10</text><text transform="translate(270.8,170.1)" font-size="9" text-anchor="end" fill="#262626">0</text><text transform="translate(270.8,181.8)" font-size="9" text-anchor="end" fill="#262626">-10</text><text transform="translate(270.8,193.6)" font-size="9" text-anchor="end" fill="#262626">-20</text><text transform="translate(357,193.6)" font-size="8.5" text-anchor="middle" font-weight="bold">North Torrey Pines [1km]</text><text transform="translate(454.4,153.2) scale(0.840,1.000)" font-size="9.4" text-anchor="end" fill="#262626">RMSE=3.2</text><text transform="translate(448.4,193.6)" font-size="8.5" font-weight="bold" text-anchor="end">r<tspan font-size="5.8" dy="-3.3">2</tspan><tspan dy="3.3">=0.86</tspan></text><clipPath id="c274_200"><rect x="274.4" y="200.2" width="182.4" height="58.3"/></clipPath><g clip-path="url(#c274_200)"><rect x="361.5" y="200.2" width="41.5" height="58.3" fill="#dff5dc"/><line x1="291" y1="200.2" x2="291" y2="258.5" stroke="#e6e6e6" stroke-width="0.7"/><line x1="307.6" y1="200.2" x2="307.6" y2="258.5" stroke="#e6e6e6" stroke-width="0.7"/><line x1="324.1" y1="200.2" x2="324.1" y2="258.5" stroke="#e6e6e6" stroke-width="0.7"/><line x1="340.7" y1="200.2" x2="340.7" y2="258.5" stroke="#e6e6e6" stroke-width="0.7"/><line x1="357.3" y1="200.2" x2="357.3" y2="258.5" stroke="#e6e6e6" stroke-width="0.7"/><line x1="373.9" y1="200.2" x2="373.9" y2="258.5" stroke="#e6e6e6" stroke-width="0.7"/><line x1="390.5" y1="200.2" x2="390.5" y2="258.5" stroke="#e6e6e6" stroke-width="0.7"/><line x1="407.1" y1="200.2" x2="407.1" y2="258.5" stroke="#e6e6e6" stroke-width="0.7"/><line x1="423.6" y1="200.2" x2="423.6" y2="258.5" stroke="#e6e6e6" stroke-width="0.7"/><line x1="440.2" y1="200.2" x2="440.2" y2="258.5" stroke="#e6e6e6" stroke-width="0.7"/><line x1="274.4" y1="252.7" x2="456.8" y2="252.7" stroke="#ececec" stroke-width="0.6"/><line x1="274.4" y1="246.8" x2="456.8" y2="246.8" stroke="#ececec" stroke-width="0.6"/><line x1="274.4" y1="241" x2="456.8" y2="241" stroke="#ececec" stroke-width="0.6"/><line x1="274.4" y1="235.2" x2="456.8" y2="235.2" stroke="#ececec" stroke-width="0.6"/><line x1="274.4" y1="223.5" x2="456.8" y2="223.5" stroke="#ececec" stroke-width="0.6"/><line x1="274.4" y1="217.7" x2="456.8" y2="217.7" stroke="#ececec" stroke-width="0.6"/><line x1="274.4" y1="211.9" x2="456.8" y2="211.9" stroke="#ececec" stroke-width="0.6"/><line x1="274.4" y1="206" x2="456.8" y2="206" stroke="#ececec" stroke-width="0.6"/><line x1="274.4" y1="229.3" x2="456.8" y2="229.3" stroke="#4d4d4d" stroke-width="1.1"/><polyline points="299.3,238.3 307.6,229.3 315.9,220.7 324.1,224.9 332.4,226.3 340.7,225.7 349,220.1 357.3,241.6 365.6,225.7 373.9,218.2 382.2,223.5 390.5,220.7 398.8,220.1 407.1,245.8 415.3,247.5 423.6,225.7 431.9,234.1 440.2,227.1" fill="none" stroke="#0000ff" stroke-width="1.5" stroke-linejoin="round"/><circle cx="299.3" cy="238.3" r="1.9" fill="#0000ff"/><circle cx="307.6" cy="229.3" r="1.9" fill="#0000ff"/><circle cx="315.9" cy="220.7" r="1.9" fill="#0000ff"/><circle cx="324.1" cy="224.9" r="1.9" fill="#0000ff"/><circle cx="332.4" cy="226.3" r="1.9" fill="#0000ff"/><circle cx="340.7" cy="225.7" r="1.9" fill="#0000ff"/><circle cx="349" cy="220.1" r="1.9" fill="#0000ff"/><circle cx="357.3" cy="241.6" r="1.9" fill="#0000ff"/><circle cx="365.6" cy="225.7" r="1.9" fill="#0000ff"/><circle cx="373.9" cy="218.2" r="1.9" fill="#0000ff"/><circle cx="382.2" cy="223.5" r="1.9" fill="#0000ff"/><circle cx="390.5" cy="220.7" r="1.9" fill="#0000ff"/><circle cx="398.8" cy="220.1" r="1.9" fill="#0000ff"/><circle cx="407.1" cy="245.8" r="1.9" fill="#0000ff"/><circle cx="415.3" cy="247.5" r="1.9" fill="#0000ff"/><circle cx="423.6" cy="225.7" r="1.9" fill="#0000ff"/><circle cx="431.9" cy="234.1" r="1.9" fill="#0000ff"/><circle cx="440.2" cy="227.1" r="1.9" fill="#0000ff"/><polyline points="299.3,240.2 307.6,231.9 315.9,225.7 324.1,228 332.4,229.3 340.7,229.9 349,222.4 357.3,236.3 365.6,225.2 373.9,222.1 382.2,223.5 390.5,217.9 398.8,219.3 407.1,241.6 415.3,244.7 423.6,225.7 431.9,229.3 440.2,225.7 448.5,236" fill="none" stroke="#ff0000" stroke-width="1.5" stroke-linejoin="round"/><circle cx="299.3" cy="240.2" r="1.9" fill="#ff0000"/><circle cx="307.6" cy="231.9" r="1.9" fill="#ff0000"/><circle cx="315.9" cy="225.7" r="1.9" fill="#ff0000"/><circle cx="324.1" cy="228" r="1.9" fill="#ff0000"/><circle cx="332.4" cy="229.3" r="1.9" fill="#ff0000"/><circle cx="340.7" cy="229.9" r="1.9" fill="#ff0000"/><circle cx="349" cy="222.4" r="1.9" fill="#ff0000"/><circle cx="357.3" cy="236.3" r="1.9" fill="#ff0000"/><circle cx="365.6" cy="225.2" r="1.9" fill="#ff0000"/><circle cx="373.9" cy="222.1" r="1.9" fill="#ff0000"/><circle cx="382.2" cy="223.5" r="1.9" fill="#ff0000"/><circle cx="390.5" cy="217.9" r="1.9" fill="#ff0000"/><circle cx="398.8" cy="219.3" r="1.9" fill="#ff0000"/><circle cx="407.1" cy="241.6" r="1.9" fill="#ff0000"/><circle cx="415.3" cy="244.7" r="1.9" fill="#ff0000"/><circle cx="423.6" cy="225.7" r="1.9" fill="#ff0000"/><circle cx="431.9" cy="229.3" r="1.9" fill="#ff0000"/><circle cx="440.2" cy="225.7" r="1.9" fill="#ff0000"/><circle cx="448.5" cy="236" r="1.9" fill="#ff0000"/><rect x="295.1" y="200.2" width="8.3" height="58.3" fill="#cccccc" opacity="0.55"/><rect x="353.2" y="200.2" width="8.3" height="58.3" fill="#cccccc" opacity="0.55"/><rect x="402.9" y="200.2" width="8.3" height="58.3" fill="#cccccc" opacity="0.55"/></g><line x1="274.4" y1="258.5" x2="276" y2="258.5" stroke="#777" stroke-width="0.5"/><line x1="456.8" y1="258.5" x2="455.2" y2="258.5" stroke="#777" stroke-width="0.5"/><line x1="274.4" y1="252.7" x2="276" y2="252.7" stroke="#777" stroke-width="0.5"/><line x1="456.8" y1="252.7" x2="455.2" y2="252.7" stroke="#777" stroke-width="0.5"/><line x1="274.4" y1="246.8" x2="276" y2="246.8" stroke="#777" stroke-width="0.5"/><line x1="456.8" y1="246.8" x2="455.2" y2="246.8" stroke="#777" stroke-width="0.5"/><line x1="274.4" y1="241" x2="276" y2="241" stroke="#777" stroke-width="0.5"/><line x1="456.8" y1="241" x2="455.2" y2="241" stroke="#777" stroke-width="0.5"/><line x1="274.4" y1="235.2" x2="276" y2="235.2" stroke="#777" stroke-width="0.5"/><line x1="456.8" y1="235.2" x2="455.2" y2="235.2" stroke="#777" stroke-width="0.5"/><line x1="274.4" y1="229.3" x2="276" y2="229.3" stroke="#777" stroke-width="0.5"/><line x1="456.8" y1="229.3" x2="455.2" y2="229.3" stroke="#777" stroke-width="0.5"/><line x1="274.4" y1="223.5" x2="276" y2="223.5" stroke="#777" stroke-width="0.5"/><line x1="456.8" y1="223.5" x2="455.2" y2="223.5" stroke="#777" stroke-width="0.5"/><line x1="274.4" y1="217.7" x2="276" y2="217.7" stroke="#777" stroke-width="0.5"/><line x1="456.8" y1="217.7" x2="455.2" y2="217.7" stroke="#777" stroke-width="0.5"/><line x1="274.4" y1="211.9" x2="276" y2="211.9" stroke="#777" stroke-width="0.5"/><line x1="456.8" y1="211.9" x2="455.2" y2="211.9" stroke="#777" stroke-width="0.5"/><line x1="274.4" y1="206" x2="276" y2="206" stroke="#777" stroke-width="0.5"/><line x1="456.8" y1="206" x2="455.2" y2="206" stroke="#777" stroke-width="0.5"/><line x1="274.4" y1="200.2" x2="276" y2="200.2" stroke="#777" stroke-width="0.5"/><line x1="456.8" y1="200.2" x2="455.2" y2="200.2" stroke="#777" stroke-width="0.5"/><line x1="291" y1="200.2" x2="291" y2="201.8" stroke="#777" stroke-width="0.5"/><line x1="291" y1="258.5" x2="291" y2="256.9" stroke="#777" stroke-width="0.5"/><line x1="307.6" y1="200.2" x2="307.6" y2="201.8" stroke="#777" stroke-width="0.5"/><line x1="307.6" y1="258.5" x2="307.6" y2="256.9" stroke="#777" stroke-width="0.5"/><line x1="324.1" y1="200.2" x2="324.1" y2="201.8" stroke="#777" stroke-width="0.5"/><line x1="324.1" y1="258.5" x2="324.1" y2="256.9" stroke="#777" stroke-width="0.5"/><line x1="340.7" y1="200.2" x2="340.7" y2="201.8" stroke="#777" stroke-width="0.5"/><line x1="340.7" y1="258.5" x2="340.7" y2="256.9" stroke="#777" stroke-width="0.5"/><line x1="357.3" y1="200.2" x2="357.3" y2="201.8" stroke="#777" stroke-width="0.5"/><line x1="357.3" y1="258.5" x2="357.3" y2="256.9" stroke="#777" stroke-width="0.5"/><line x1="373.9" y1="200.2" x2="373.9" y2="201.8" stroke="#777" stroke-width="0.5"/><line x1="373.9" y1="258.5" x2="373.9" y2="256.9" stroke="#777" stroke-width="0.5"/><line x1="390.5" y1="200.2" x2="390.5" y2="201.8" stroke="#777" stroke-width="0.5"/><line x1="390.5" y1="258.5" x2="390.5" y2="256.9" stroke="#777" stroke-width="0.5"/><line x1="407.1" y1="200.2" x2="407.1" y2="201.8" stroke="#777" stroke-width="0.5"/><line x1="407.1" y1="258.5" x2="407.1" y2="256.9" stroke="#777" stroke-width="0.5"/><line x1="423.6" y1="200.2" x2="423.6" y2="201.8" stroke="#777" stroke-width="0.5"/><line x1="423.6" y1="258.5" x2="423.6" y2="256.9" stroke="#777" stroke-width="0.5"/><line x1="440.2" y1="200.2" x2="440.2" y2="201.8" stroke="#777" stroke-width="0.5"/><line x1="440.2" y1="258.5" x2="440.2" y2="256.9" stroke="#777" stroke-width="0.5"/><rect x="274.4" y="200.2" width="182.4" height="58.3" fill="none" stroke="#8a8a8a" stroke-width="0.9"/><text transform="translate(270.8,209.3)" font-size="9" text-anchor="end" fill="#262626">20</text><text transform="translate(270.8,221)" font-size="9" text-anchor="end" fill="#262626">10</text><text transform="translate(270.8,232.7)" font-size="9" text-anchor="end" fill="#262626">0</text><text transform="translate(270.8,244.3)" font-size="9" text-anchor="end" fill="#262626">-10</text><text transform="translate(270.8,256)" font-size="9" text-anchor="end" fill="#262626">-20</text><text transform="translate(357,255.9)" font-size="8.5" text-anchor="middle" font-weight="bold">South Torrey Pines [3km]</text><text transform="translate(454.4,216.1) scale(0.840,1.000)" font-size="9.4" text-anchor="end" fill="#262626">RMSE=2.5</text><text transform="translate(448.4,255.9)" font-size="8.5" font-weight="bold" text-anchor="end">r<tspan font-size="5.8" dy="-3.3">2</tspan><tspan dy="3.3">=0.89</tspan></text><clipPath id="c274_262"><rect x="274.4" y="262.4" width="182.4" height="59"/></clipPath><g clip-path="url(#c274_262)"><rect x="361.5" y="262.4" width="41.5" height="59" fill="#dff5dc"/><line x1="291" y1="262.4" x2="291" y2="321.4" stroke="#e6e6e6" stroke-width="0.7"/><line x1="307.6" y1="262.4" x2="307.6" y2="321.4" stroke="#e6e6e6" stroke-width="0.7"/><line x1="324.1" y1="262.4" x2="324.1" y2="321.4" stroke="#e6e6e6" stroke-width="0.7"/><line x1="340.7" y1="262.4" x2="340.7" y2="321.4" stroke="#e6e6e6" stroke-width="0.7"/><line x1="357.3" y1="262.4" x2="357.3" y2="321.4" stroke="#e6e6e6" stroke-width="0.7"/><line x1="373.9" y1="262.4" x2="373.9" y2="321.4" stroke="#e6e6e6" stroke-width="0.7"/><line x1="390.5" y1="262.4" x2="390.5" y2="321.4" stroke="#e6e6e6" stroke-width="0.7"/><line x1="407.1" y1="262.4" x2="407.1" y2="321.4" stroke="#e6e6e6" stroke-width="0.7"/><line x1="423.6" y1="262.4" x2="423.6" y2="321.4" stroke="#e6e6e6" stroke-width="0.7"/><line x1="440.2" y1="262.4" x2="440.2" y2="321.4" stroke="#e6e6e6" stroke-width="0.7"/><line x1="274.4" y1="315.5" x2="456.8" y2="315.5" stroke="#ececec" stroke-width="0.6"/><line x1="274.4" y1="309.6" x2="456.8" y2="309.6" stroke="#ececec" stroke-width="0.6"/><line x1="274.4" y1="303.7" x2="456.8" y2="303.7" stroke="#ececec" stroke-width="0.6"/><line x1="274.4" y1="297.8" x2="456.8" y2="297.8" stroke="#ececec" stroke-width="0.6"/><line x1="274.4" y1="286" x2="456.8" y2="286" stroke="#ececec" stroke-width="0.6"/><line x1="274.4" y1="280.1" x2="456.8" y2="280.1" stroke="#ececec" stroke-width="0.6"/><line x1="274.4" y1="274.2" x2="456.8" y2="274.2" stroke="#ececec" stroke-width="0.6"/><line x1="274.4" y1="268.3" x2="456.8" y2="268.3" stroke="#ececec" stroke-width="0.6"/><line x1="274.4" y1="291.9" x2="456.8" y2="291.9" stroke="#4d4d4d" stroke-width="1.1"/><polyline points="307.6,297 315.9,301.8" fill="none" stroke="#0000ff" stroke-width="1.5" stroke-linejoin="round"/><circle cx="307.6" cy="297" r="1.9" fill="#0000ff"/><circle cx="315.9" cy="301.8" r="1.9" fill="#0000ff"/><polyline points="340.7,290.7 349,289.9 357.3,309.7 365.6,301.8 373.9,299.2 382.2,269.2 390.5,279.5 398.8,277.1 407.1,289.9 415.3,293.3 423.6,287.1 431.9,290.5 440.2,286.2 448.5,297" fill="none" stroke="#0000ff" stroke-width="1.5" stroke-linejoin="round"/><circle cx="340.7" cy="290.7" r="1.9" fill="#0000ff"/><circle cx="349" cy="289.9" r="1.9" fill="#0000ff"/><circle cx="357.3" cy="309.7" r="1.9" fill="#0000ff"/><circle cx="365.6" cy="301.8" r="1.9" fill="#0000ff"/><circle cx="373.9" cy="299.2" r="1.9" fill="#0000ff"/><circle cx="382.2" cy="269.2" r="1.9" fill="#0000ff"/><circle cx="390.5" cy="279.5" r="1.9" fill="#0000ff"/><circle cx="398.8" cy="277.1" r="1.9" fill="#0000ff"/><circle cx="407.1" cy="289.9" r="1.9" fill="#0000ff"/><circle cx="415.3" cy="293.3" r="1.9" fill="#0000ff"/><circle cx="423.6" cy="287.1" r="1.9" fill="#0000ff"/><circle cx="431.9" cy="290.5" r="1.9" fill="#0000ff"/><circle cx="440.2" cy="286.2" r="1.9" fill="#0000ff"/><circle cx="448.5" cy="297" r="1.9" fill="#0000ff"/><polyline points="307.6,285.6 315.9,298.4" fill="none" stroke="#ff0000" stroke-width="1.5" stroke-linejoin="round"/><circle cx="307.6" cy="285.6" r="1.9" fill="#ff0000"/><circle cx="315.9" cy="298.4" r="1.9" fill="#ff0000"/><polyline points="340.7,291.9 349,299.8 357.3,304.9 365.6,303.2 373.9,302.6 382.2,273.5 390.5,284.8 398.8,285.6 407.1,285.2 415.3,292.1 423.6,289.1 431.9,285.6 440.2,283.8 448.5,293.3" fill="none" stroke="#ff0000" stroke-width="1.5" stroke-linejoin="round"/><circle cx="340.7" cy="291.9" r="1.9" fill="#ff0000"/><circle cx="349" cy="299.8" r="1.9" fill="#ff0000"/><circle cx="357.3" cy="304.9" r="1.9" fill="#ff0000"/><circle cx="365.6" cy="303.2" r="1.9" fill="#ff0000"/><circle cx="373.9" cy="302.6" r="1.9" fill="#ff0000"/><circle cx="382.2" cy="273.5" r="1.9" fill="#ff0000"/><circle cx="390.5" cy="284.8" r="1.9" fill="#ff0000"/><circle cx="398.8" cy="285.6" r="1.9" fill="#ff0000"/><circle cx="407.1" cy="285.2" r="1.9" fill="#ff0000"/><circle cx="415.3" cy="292.1" r="1.9" fill="#ff0000"/><circle cx="423.6" cy="289.1" r="1.9" fill="#ff0000"/><circle cx="431.9" cy="285.6" r="1.9" fill="#ff0000"/><circle cx="440.2" cy="283.8" r="1.9" fill="#ff0000"/><circle cx="448.5" cy="293.3" r="1.9" fill="#ff0000"/><rect x="295.1" y="262.4" width="8.3" height="59" fill="#cccccc" opacity="0.55"/><rect x="353.2" y="262.4" width="8.3" height="59" fill="#cccccc" opacity="0.55"/><rect x="402.9" y="262.4" width="8.3" height="59" fill="#cccccc" opacity="0.55"/></g><line x1="274.4" y1="321.4" x2="276" y2="321.4" stroke="#777" stroke-width="0.5"/><line x1="456.8" y1="321.4" x2="455.2" y2="321.4" stroke="#777" stroke-width="0.5"/><line x1="274.4" y1="315.5" x2="276" y2="315.5" stroke="#777" stroke-width="0.5"/><line x1="456.8" y1="315.5" x2="455.2" y2="315.5" stroke="#777" stroke-width="0.5"/><line x1="274.4" y1="309.6" x2="276" y2="309.6" stroke="#777" stroke-width="0.5"/><line x1="456.8" y1="309.6" x2="455.2" y2="309.6" stroke="#777" stroke-width="0.5"/><line x1="274.4" y1="303.7" x2="276" y2="303.7" stroke="#777" stroke-width="0.5"/><line x1="456.8" y1="303.7" x2="455.2" y2="303.7" stroke="#777" stroke-width="0.5"/><line x1="274.4" y1="297.8" x2="276" y2="297.8" stroke="#777" stroke-width="0.5"/><line x1="456.8" y1="297.8" x2="455.2" y2="297.8" stroke="#777" stroke-width="0.5"/><line x1="274.4" y1="291.9" x2="276" y2="291.9" stroke="#777" stroke-width="0.5"/><line x1="456.8" y1="291.9" x2="455.2" y2="291.9" stroke="#777" stroke-width="0.5"/><line x1="274.4" y1="286" x2="276" y2="286" stroke="#777" stroke-width="0.5"/><line x1="456.8" y1="286" x2="455.2" y2="286" stroke="#777" stroke-width="0.5"/><line x1="274.4" y1="280.1" x2="276" y2="280.1" stroke="#777" stroke-width="0.5"/><line x1="456.8" y1="280.1" x2="455.2" y2="280.1" stroke="#777" stroke-width="0.5"/><line x1="274.4" y1="274.2" x2="276" y2="274.2" stroke="#777" stroke-width="0.5"/><line x1="456.8" y1="274.2" x2="455.2" y2="274.2" stroke="#777" stroke-width="0.5"/><line x1="274.4" y1="268.3" x2="276" y2="268.3" stroke="#777" stroke-width="0.5"/><line x1="456.8" y1="268.3" x2="455.2" y2="268.3" stroke="#777" stroke-width="0.5"/><line x1="274.4" y1="262.4" x2="276" y2="262.4" stroke="#777" stroke-width="0.5"/><line x1="456.8" y1="262.4" x2="455.2" y2="262.4" stroke="#777" stroke-width="0.5"/><line x1="291" y1="262.4" x2="291" y2="264" stroke="#777" stroke-width="0.5"/><line x1="291" y1="321.4" x2="291" y2="319.8" stroke="#777" stroke-width="0.5"/><line x1="307.6" y1="262.4" x2="307.6" y2="264" stroke="#777" stroke-width="0.5"/><line x1="307.6" y1="321.4" x2="307.6" y2="319.8" stroke="#777" stroke-width="0.5"/><line x1="324.1" y1="262.4" x2="324.1" y2="264" stroke="#777" stroke-width="0.5"/><line x1="324.1" y1="321.4" x2="324.1" y2="319.8" stroke="#777" stroke-width="0.5"/><line x1="340.7" y1="262.4" x2="340.7" y2="264" stroke="#777" stroke-width="0.5"/><line x1="340.7" y1="321.4" x2="340.7" y2="319.8" stroke="#777" stroke-width="0.5"/><line x1="357.3" y1="262.4" x2="357.3" y2="264" stroke="#777" stroke-width="0.5"/><line x1="357.3" y1="321.4" x2="357.3" y2="319.8" stroke="#777" stroke-width="0.5"/><line x1="373.9" y1="262.4" x2="373.9" y2="264" stroke="#777" stroke-width="0.5"/><line x1="373.9" y1="321.4" x2="373.9" y2="319.8" stroke="#777" stroke-width="0.5"/><line x1="390.5" y1="262.4" x2="390.5" y2="264" stroke="#777" stroke-width="0.5"/><line x1="390.5" y1="321.4" x2="390.5" y2="319.8" stroke="#777" stroke-width="0.5"/><line x1="407.1" y1="262.4" x2="407.1" y2="264" stroke="#777" stroke-width="0.5"/><line x1="407.1" y1="321.4" x2="407.1" y2="319.8" stroke="#777" stroke-width="0.5"/><line x1="423.6" y1="262.4" x2="423.6" y2="264" stroke="#777" stroke-width="0.5"/><line x1="423.6" y1="321.4" x2="423.6" y2="319.8" stroke="#777" stroke-width="0.5"/><line x1="440.2" y1="262.4" x2="440.2" y2="264" stroke="#777" stroke-width="0.5"/><line x1="440.2" y1="321.4" x2="440.2" y2="319.8" stroke="#777" stroke-width="0.5"/><rect x="274.4" y="262.4" width="182.4" height="59" fill="none" stroke="#8a8a8a" stroke-width="0.9"/><text transform="translate(270.8,271.6)" font-size="9" text-anchor="end" fill="#262626">20</text><text transform="translate(270.8,283.4)" font-size="9" text-anchor="end" fill="#262626">10</text><text transform="translate(270.8,295.2)" font-size="9" text-anchor="end" fill="#262626">0</text><text transform="translate(270.8,307)" font-size="9" text-anchor="end" fill="#262626">-10</text><text transform="translate(270.8,318.8)" font-size="9" text-anchor="end" fill="#262626">-20</text><text transform="translate(357,318.8)" font-size="8.5" text-anchor="middle" font-weight="bold">Imperial Beach [1.5km]</text><text transform="translate(454.4,278.3) scale(0.840,1.000)" font-size="9.4" text-anchor="end" fill="#262626">RMSE=4.5</text><text transform="translate(448.4,318.8)" font-size="8.5" font-weight="bold" text-anchor="end">r<tspan font-size="5.8" dy="-3.3">2</tspan><tspan dy="3.3">=0.70</tspan></text><text transform="translate(369.9,8.5)" font-size="10.2" text-anchor="middle" font-weight="bold">(b)</text><text transform="translate(254.4,166) rotate(-90)" font-size="10" text-anchor="middle" fill="#262626">Annual Mean Shoreline Position (m)</text><text transform="translate(280.3,331.4) rotate(-45)" font-size="9.5" text-anchor="end" fill="#262626">2000</text><text transform="translate(296.9,331.4) rotate(-45)" font-size="9.5" text-anchor="end" fill="#262626">2002</text><text transform="translate(313.5,331.4) rotate(-45)" font-size="9.5" text-anchor="end" fill="#262626">2004</text><text transform="translate(330,331.4) rotate(-45)" font-size="9.5" text-anchor="end" fill="#262626">2006</text><text transform="translate(346.6,331.4) rotate(-45)" font-size="9.5" text-anchor="end" fill="#262626">2008</text><text transform="translate(363.2,331.4) rotate(-45)" font-size="9.5" text-anchor="end" fill="#262626">2010</text><text transform="translate(379.8,331.4) rotate(-45)" font-size="9.5" text-anchor="end" fill="#262626">2012</text><text transform="translate(396.4,331.4) rotate(-45)" font-size="9.5" text-anchor="end" fill="#262626">2014</text><text transform="translate(413,331.4) rotate(-45)" font-size="9.5" text-anchor="end" fill="#262626">2016</text><text transform="translate(429.5,331.4) rotate(-45)" font-size="9.5" text-anchor="end" fill="#262626">2018</text><text transform="translate(446.1,331.4) rotate(-45)" font-size="9.5" text-anchor="end" fill="#262626">2020</text><text transform="translate(365.7,356.6) scale(0.950,1.000)" font-size="10.6" text-anchor="middle" fill="#262626">Year</text><clipPath id="c500_12"><rect x="500.6" y="12.5" width="182.9" height="58"/></clipPath><g clip-path="url(#c500_12)"><rect x="592" y="12.5" width="43.5" height="58" fill="#dff5dc"/><line x1="518" y1="12.5" x2="518" y2="70.5" stroke="#e6e6e6" stroke-width="0.7"/><line x1="535.4" y1="12.5" x2="535.4" y2="70.5" stroke="#e6e6e6" stroke-width="0.7"/><line x1="552.9" y1="12.5" x2="552.9" y2="70.5" stroke="#e6e6e6" stroke-width="0.7"/><line x1="570.3" y1="12.5" x2="570.3" y2="70.5" stroke="#e6e6e6" stroke-width="0.7"/><line x1="587.7" y1="12.5" x2="587.7" y2="70.5" stroke="#e6e6e6" stroke-width="0.7"/><line x1="605.1" y1="12.5" x2="605.1" y2="70.5" stroke="#e6e6e6" stroke-width="0.7"/><line x1="622.5" y1="12.5" x2="622.5" y2="70.5" stroke="#e6e6e6" stroke-width="0.7"/><line x1="640" y1="12.5" x2="640" y2="70.5" stroke="#e6e6e6" stroke-width="0.7"/><line x1="657.4" y1="12.5" x2="657.4" y2="70.5" stroke="#e6e6e6" stroke-width="0.7"/><line x1="674.8" y1="12.5" x2="674.8" y2="70.5" stroke="#e6e6e6" stroke-width="0.7"/><line x1="500.6" y1="64.7" x2="683.5" y2="64.7" stroke="#ececec" stroke-width="0.6"/><line x1="500.6" y1="58.9" x2="683.5" y2="58.9" stroke="#ececec" stroke-width="0.6"/><line x1="500.6" y1="53.1" x2="683.5" y2="53.1" stroke="#ececec" stroke-width="0.6"/><line x1="500.6" y1="47.3" x2="683.5" y2="47.3" stroke="#ececec" stroke-width="0.6"/><line x1="500.6" y1="35.7" x2="683.5" y2="35.7" stroke="#ececec" stroke-width="0.6"/><line x1="500.6" y1="29.9" x2="683.5" y2="29.9" stroke="#ececec" stroke-width="0.6"/><line x1="500.6" y1="24.1" x2="683.5" y2="24.1" stroke="#ececec" stroke-width="0.6"/><line x1="500.6" y1="18.3" x2="683.5" y2="18.3" stroke="#ececec" stroke-width="0.6"/><line x1="500.6" y1="41.5" x2="683.5" y2="41.5" stroke="#4d4d4d" stroke-width="1.1"/><polyline points="500.6,57.9 509.3,50.4 518,46.5 526.7,45.1 535.4,46.5 544.1,40.1 552.9,50.9 561.6,45.7 570.3,46.8 579,47.6 587.7,53.7 596.4,52.1 605.1,38.7 613.8,24.8 622.5,19 631.2,22.6 640,38.7 648.7,54.6 657.4,47.6 666.1,54.6 674.8,47.6 683.5,41.5" fill="none" stroke="#0000ff" stroke-width="1.5" stroke-linejoin="round"/><circle cx="500.6" cy="57.9" r="1.9" fill="#0000ff"/><circle cx="509.3" cy="50.4" r="1.9" fill="#0000ff"/><circle cx="518" cy="46.5" r="1.9" fill="#0000ff"/><circle cx="526.7" cy="45.1" r="1.9" fill="#0000ff"/><circle cx="535.4" cy="46.5" r="1.9" fill="#0000ff"/><circle cx="544.1" cy="40.1" r="1.9" fill="#0000ff"/><circle cx="552.9" cy="50.9" r="1.9" fill="#0000ff"/><circle cx="561.6" cy="45.7" r="1.9" fill="#0000ff"/><circle cx="570.3" cy="46.8" r="1.9" fill="#0000ff"/><circle cx="579" cy="47.6" r="1.9" fill="#0000ff"/><circle cx="587.7" cy="53.7" r="1.9" fill="#0000ff"/><circle cx="596.4" cy="52.1" r="1.9" fill="#0000ff"/><circle cx="605.1" cy="38.7" r="1.9" fill="#0000ff"/><circle cx="613.8" cy="24.8" r="1.9" fill="#0000ff"/><circle cx="622.5" cy="19" r="1.9" fill="#0000ff"/><circle cx="631.2" cy="22.6" r="1.9" fill="#0000ff"/><circle cx="640" cy="38.7" r="1.9" fill="#0000ff"/><circle cx="648.7" cy="54.6" r="1.9" fill="#0000ff"/><circle cx="657.4" cy="47.6" r="1.9" fill="#0000ff"/><circle cx="666.1" cy="54.6" r="1.9" fill="#0000ff"/><circle cx="674.8" cy="47.6" r="1.9" fill="#0000ff"/><circle cx="683.5" cy="41.5" r="1.9" fill="#0000ff"/><rect x="522.4" y="12.5" width="8.7" height="58" fill="#cccccc" opacity="0.55"/><rect x="583.3" y="12.5" width="8.7" height="58" fill="#cccccc" opacity="0.55"/><rect x="635.6" y="12.5" width="8.7" height="58" fill="#cccccc" opacity="0.55"/></g><line x1="500.6" y1="70.5" x2="502.2" y2="70.5" stroke="#777" stroke-width="0.5"/><line x1="683.5" y1="70.5" x2="681.9" y2="70.5" stroke="#777" stroke-width="0.5"/><line x1="500.6" y1="64.7" x2="502.2" y2="64.7" stroke="#777" stroke-width="0.5"/><line x1="683.5" y1="64.7" x2="681.9" y2="64.7" stroke="#777" stroke-width="0.5"/><line x1="500.6" y1="58.9" x2="502.2" y2="58.9" stroke="#777" stroke-width="0.5"/><line x1="683.5" y1="58.9" x2="681.9" y2="58.9" stroke="#777" stroke-width="0.5"/><line x1="500.6" y1="53.1" x2="502.2" y2="53.1" stroke="#777" stroke-width="0.5"/><line x1="683.5" y1="53.1" x2="681.9" y2="53.1" stroke="#777" stroke-width="0.5"/><line x1="500.6" y1="47.3" x2="502.2" y2="47.3" stroke="#777" stroke-width="0.5"/><line x1="683.5" y1="47.3" x2="681.9" y2="47.3" stroke="#777" stroke-width="0.5"/><line x1="500.6" y1="41.5" x2="502.2" y2="41.5" stroke="#777" stroke-width="0.5"/><line x1="683.5" y1="41.5" x2="681.9" y2="41.5" stroke="#777" stroke-width="0.5"/><line x1="500.6" y1="35.7" x2="502.2" y2="35.7" stroke="#777" stroke-width="0.5"/><line x1="683.5" y1="35.7" x2="681.9" y2="35.7" stroke="#777" stroke-width="0.5"/><line x1="500.6" y1="29.9" x2="502.2" y2="29.9" stroke="#777" stroke-width="0.5"/><line x1="683.5" y1="29.9" x2="681.9" y2="29.9" stroke="#777" stroke-width="0.5"/><line x1="500.6" y1="24.1" x2="502.2" y2="24.1" stroke="#777" stroke-width="0.5"/><line x1="683.5" y1="24.1" x2="681.9" y2="24.1" stroke="#777" stroke-width="0.5"/><line x1="500.6" y1="18.3" x2="502.2" y2="18.3" stroke="#777" stroke-width="0.5"/><line x1="683.5" y1="18.3" x2="681.9" y2="18.3" stroke="#777" stroke-width="0.5"/><line x1="500.6" y1="12.5" x2="502.2" y2="12.5" stroke="#777" stroke-width="0.5"/><line x1="683.5" y1="12.5" x2="681.9" y2="12.5" stroke="#777" stroke-width="0.5"/><line x1="518" y1="12.5" x2="518" y2="14.1" stroke="#777" stroke-width="0.5"/><line x1="518" y1="70.5" x2="518" y2="68.9" stroke="#777" stroke-width="0.5"/><line x1="535.4" y1="12.5" x2="535.4" y2="14.1" stroke="#777" stroke-width="0.5"/><line x1="535.4" y1="70.5" x2="535.4" y2="68.9" stroke="#777" stroke-width="0.5"/><line x1="552.9" y1="12.5" x2="552.9" y2="14.1" stroke="#777" stroke-width="0.5"/><line x1="552.9" y1="70.5" x2="552.9" y2="68.9" stroke="#777" stroke-width="0.5"/><line x1="570.3" y1="12.5" x2="570.3" y2="14.1" stroke="#777" stroke-width="0.5"/><line x1="570.3" y1="70.5" x2="570.3" y2="68.9" stroke="#777" stroke-width="0.5"/><line x1="587.7" y1="12.5" x2="587.7" y2="14.1" stroke="#777" stroke-width="0.5"/><line x1="587.7" y1="70.5" x2="587.7" y2="68.9" stroke="#777" stroke-width="0.5"/><line x1="605.1" y1="12.5" x2="605.1" y2="14.1" stroke="#777" stroke-width="0.5"/><line x1="605.1" y1="70.5" x2="605.1" y2="68.9" stroke="#777" stroke-width="0.5"/><line x1="622.5" y1="12.5" x2="622.5" y2="14.1" stroke="#777" stroke-width="0.5"/><line x1="622.5" y1="70.5" x2="622.5" y2="68.9" stroke="#777" stroke-width="0.5"/><line x1="640" y1="12.5" x2="640" y2="14.1" stroke="#777" stroke-width="0.5"/><line x1="640" y1="70.5" x2="640" y2="68.9" stroke="#777" stroke-width="0.5"/><line x1="657.4" y1="12.5" x2="657.4" y2="14.1" stroke="#777" stroke-width="0.5"/><line x1="657.4" y1="70.5" x2="657.4" y2="68.9" stroke="#777" stroke-width="0.5"/><line x1="674.8" y1="12.5" x2="674.8" y2="14.1" stroke="#777" stroke-width="0.5"/><line x1="674.8" y1="70.5" x2="674.8" y2="68.9" stroke="#777" stroke-width="0.5"/><rect x="500.6" y="12.5" width="182.9" height="58" fill="none" stroke="#8a8a8a" stroke-width="0.9"/><text transform="translate(497,21.6)" font-size="9" text-anchor="end" fill="#262626">20</text><text transform="translate(497,33.2)" font-size="9" text-anchor="end" fill="#262626">10</text><text transform="translate(497,44.8)" font-size="9" text-anchor="end" fill="#262626">0</text><text transform="translate(497,56.4)" font-size="9" text-anchor="end" fill="#262626">-10</text><text transform="translate(497,68)" font-size="9" text-anchor="end" fill="#262626">-20</text><text transform="translate(591.2,67.9)" font-size="8.5" text-anchor="middle" font-weight="bold">North Humboldt Coast, Hum. Co. [25 km]</text><rect x="504.4" y="14.3" width="79.5" height="13.2" fill="#fff" stroke="#7a7a7a" stroke-width="0.7"/><line x1="506.4" y1="20.9" x2="521.4" y2="20.9" stroke="#0000ff" stroke-width="1.4"/><circle cx="513.9" cy="20.9" r="1.9" fill="#0000ff"/><text transform="translate(522.5,24.2)" font-size="9.1">&lt;CAcoastSat&gt;</text><clipPath id="c500_74"><rect x="500.6" y="74.5" width="182.9" height="58.7"/></clipPath><g clip-path="url(#c500_74)"><rect x="592" y="74.5" width="43.5" height="58.7" fill="#dff5dc"/><line x1="518" y1="74.5" x2="518" y2="133.2" stroke="#e6e6e6" stroke-width="0.7"/><line x1="535.4" y1="74.5" x2="535.4" y2="133.2" stroke="#e6e6e6" stroke-width="0.7"/><line x1="552.9" y1="74.5" x2="552.9" y2="133.2" stroke="#e6e6e6" stroke-width="0.7"/><line x1="570.3" y1="74.5" x2="570.3" y2="133.2" stroke="#e6e6e6" stroke-width="0.7"/><line x1="587.7" y1="74.5" x2="587.7" y2="133.2" stroke="#e6e6e6" stroke-width="0.7"/><line x1="605.1" y1="74.5" x2="605.1" y2="133.2" stroke="#e6e6e6" stroke-width="0.7"/><line x1="622.5" y1="74.5" x2="622.5" y2="133.2" stroke="#e6e6e6" stroke-width="0.7"/><line x1="640" y1="74.5" x2="640" y2="133.2" stroke="#e6e6e6" stroke-width="0.7"/><line x1="657.4" y1="74.5" x2="657.4" y2="133.2" stroke="#e6e6e6" stroke-width="0.7"/><line x1="674.8" y1="74.5" x2="674.8" y2="133.2" stroke="#e6e6e6" stroke-width="0.7"/><line x1="500.6" y1="127.3" x2="683.5" y2="127.3" stroke="#ececec" stroke-width="0.6"/><line x1="500.6" y1="121.5" x2="683.5" y2="121.5" stroke="#ececec" stroke-width="0.6"/><line x1="500.6" y1="115.6" x2="683.5" y2="115.6" stroke="#ececec" stroke-width="0.6"/><line x1="500.6" y1="109.7" x2="683.5" y2="109.7" stroke="#ececec" stroke-width="0.6"/><line x1="500.6" y1="98" x2="683.5" y2="98" stroke="#ececec" stroke-width="0.6"/><line x1="500.6" y1="92.1" x2="683.5" y2="92.1" stroke="#ececec" stroke-width="0.6"/><line x1="500.6" y1="86.2" x2="683.5" y2="86.2" stroke="#ececec" stroke-width="0.6"/><line x1="500.6" y1="80.4" x2="683.5" y2="80.4" stroke="#ececec" stroke-width="0.6"/><line x1="500.6" y1="103.8" x2="683.5" y2="103.8" stroke="#4d4d4d" stroke-width="1.1"/><polyline points="500.6,107.5 509.3,106.9 518,101.3 526.7,121.6 535.4,112.3 544.1,108.9 552.9,110.3 561.6,97.6 570.3,101.9 579,91.5 587.7,113.9 596.4,101.3 605.1,97.2 613.8,83.7 622.5,78.8 631.2,86.9 640,110.9 648.7,112.3 657.4,91.5 666.1,104.7 674.8,94 683.5,94" fill="none" stroke="#0000ff" stroke-width="1.5" stroke-linejoin="round"/><circle cx="500.6" cy="107.5" r="1.9" fill="#0000ff"/><circle cx="509.3" cy="106.9" r="1.9" fill="#0000ff"/><circle cx="518" cy="101.3" r="1.9" fill="#0000ff"/><circle cx="526.7" cy="121.6" r="1.9" fill="#0000ff"/><circle cx="535.4" cy="112.3" r="1.9" fill="#0000ff"/><circle cx="544.1" cy="108.9" r="1.9" fill="#0000ff"/><circle cx="552.9" cy="110.3" r="1.9" fill="#0000ff"/><circle cx="561.6" cy="97.6" r="1.9" fill="#0000ff"/><circle cx="570.3" cy="101.9" r="1.9" fill="#0000ff"/><circle cx="579" cy="91.5" r="1.9" fill="#0000ff"/><circle cx="587.7" cy="113.9" r="1.9" fill="#0000ff"/><circle cx="596.4" cy="101.3" r="1.9" fill="#0000ff"/><circle cx="605.1" cy="97.2" r="1.9" fill="#0000ff"/><circle cx="613.8" cy="83.7" r="1.9" fill="#0000ff"/><circle cx="622.5" cy="78.8" r="1.9" fill="#0000ff"/><circle cx="631.2" cy="86.9" r="1.9" fill="#0000ff"/><circle cx="640" cy="110.9" r="1.9" fill="#0000ff"/><circle cx="648.7" cy="112.3" r="1.9" fill="#0000ff"/><circle cx="657.4" cy="91.5" r="1.9" fill="#0000ff"/><circle cx="666.1" cy="104.7" r="1.9" fill="#0000ff"/><circle cx="674.8" cy="94" r="1.9" fill="#0000ff"/><circle cx="683.5" cy="94" r="1.9" fill="#0000ff"/><rect x="522.4" y="74.5" width="8.7" height="58.7" fill="#cccccc" opacity="0.55"/><rect x="583.3" y="74.5" width="8.7" height="58.7" fill="#cccccc" opacity="0.55"/><rect x="635.6" y="74.5" width="8.7" height="58.7" fill="#cccccc" opacity="0.55"/></g><line x1="500.6" y1="133.2" x2="502.2" y2="133.2" stroke="#777" stroke-width="0.5"/><line x1="683.5" y1="133.2" x2="681.9" y2="133.2" stroke="#777" stroke-width="0.5"/><line x1="500.6" y1="127.3" x2="502.2" y2="127.3" stroke="#777" stroke-width="0.5"/><line x1="683.5" y1="127.3" x2="681.9" y2="127.3" stroke="#777" stroke-width="0.5"/><line x1="500.6" y1="121.5" x2="502.2" y2="121.5" stroke="#777" stroke-width="0.5"/><line x1="683.5" y1="121.5" x2="681.9" y2="121.5" stroke="#777" stroke-width="0.5"/><line x1="500.6" y1="115.6" x2="502.2" y2="115.6" stroke="#777" stroke-width="0.5"/><line x1="683.5" y1="115.6" x2="681.9" y2="115.6" stroke="#777" stroke-width="0.5"/><line x1="500.6" y1="109.7" x2="502.2" y2="109.7" stroke="#777" stroke-width="0.5"/><line x1="683.5" y1="109.7" x2="681.9" y2="109.7" stroke="#777" stroke-width="0.5"/><line x1="500.6" y1="103.8" x2="502.2" y2="103.8" stroke="#777" stroke-width="0.5"/><line x1="683.5" y1="103.8" x2="681.9" y2="103.8" stroke="#777" stroke-width="0.5"/><line x1="500.6" y1="98" x2="502.2" y2="98" stroke="#777" stroke-width="0.5"/><line x1="683.5" y1="98" x2="681.9" y2="98" stroke="#777" stroke-width="0.5"/><line x1="500.6" y1="92.1" x2="502.2" y2="92.1" stroke="#777" stroke-width="0.5"/><line x1="683.5" y1="92.1" x2="681.9" y2="92.1" stroke="#777" stroke-width="0.5"/><line x1="500.6" y1="86.2" x2="502.2" y2="86.2" stroke="#777" stroke-width="0.5"/><line x1="683.5" y1="86.2" x2="681.9" y2="86.2" stroke="#777" stroke-width="0.5"/><line x1="500.6" y1="80.4" x2="502.2" y2="80.4" stroke="#777" stroke-width="0.5"/><line x1="683.5" y1="80.4" x2="681.9" y2="80.4" stroke="#777" stroke-width="0.5"/><line x1="500.6" y1="74.5" x2="502.2" y2="74.5" stroke="#777" stroke-width="0.5"/><line x1="683.5" y1="74.5" x2="681.9" y2="74.5" stroke="#777" stroke-width="0.5"/><line x1="518" y1="74.5" x2="518" y2="76.1" stroke="#777" stroke-width="0.5"/><line x1="518" y1="133.2" x2="518" y2="131.6" stroke="#777" stroke-width="0.5"/><line x1="535.4" y1="74.5" x2="535.4" y2="76.1" stroke="#777" stroke-width="0.5"/><line x1="535.4" y1="133.2" x2="535.4" y2="131.6" stroke="#777" stroke-width="0.5"/><line x1="552.9" y1="74.5" x2="552.9" y2="76.1" stroke="#777" stroke-width="0.5"/><line x1="552.9" y1="133.2" x2="552.9" y2="131.6" stroke="#777" stroke-width="0.5"/><line x1="570.3" y1="74.5" x2="570.3" y2="76.1" stroke="#777" stroke-width="0.5"/><line x1="570.3" y1="133.2" x2="570.3" y2="131.6" stroke="#777" stroke-width="0.5"/><line x1="587.7" y1="74.5" x2="587.7" y2="76.1" stroke="#777" stroke-width="0.5"/><line x1="587.7" y1="133.2" x2="587.7" y2="131.6" stroke="#777" stroke-width="0.5"/><line x1="605.1" y1="74.5" x2="605.1" y2="76.1" stroke="#777" stroke-width="0.5"/><line x1="605.1" y1="133.2" x2="605.1" y2="131.6" stroke="#777" stroke-width="0.5"/><line x1="622.5" y1="74.5" x2="622.5" y2="76.1" stroke="#777" stroke-width="0.5"/><line x1="622.5" y1="133.2" x2="622.5" y2="131.6" stroke="#777" stroke-width="0.5"/><line x1="640" y1="74.5" x2="640" y2="76.1" stroke="#777" stroke-width="0.5"/><line x1="640" y1="133.2" x2="640" y2="131.6" stroke="#777" stroke-width="0.5"/><line x1="657.4" y1="74.5" x2="657.4" y2="76.1" stroke="#777" stroke-width="0.5"/><line x1="657.4" y1="133.2" x2="657.4" y2="131.6" stroke="#777" stroke-width="0.5"/><line x1="674.8" y1="74.5" x2="674.8" y2="76.1" stroke="#777" stroke-width="0.5"/><line x1="674.8" y1="133.2" x2="674.8" y2="131.6" stroke="#777" stroke-width="0.5"/><rect x="500.6" y="74.5" width="182.9" height="58.7" fill="none" stroke="#8a8a8a" stroke-width="0.9"/><text transform="translate(497,83.7)" font-size="9" text-anchor="end" fill="#262626">20</text><text transform="translate(497,95.4)" font-size="9" text-anchor="end" fill="#262626">10</text><text transform="translate(497,107.1)" font-size="9" text-anchor="end" fill="#262626">0</text><text transform="translate(497,118.9)" font-size="9" text-anchor="end" fill="#262626">-10</text><text transform="translate(497,130.6)" font-size="9" text-anchor="end" fill="#262626">-20</text><text transform="translate(591.2,130.6)" font-size="8.5" text-anchor="middle" font-weight="bold">North Monterey Bay, Mon. Co. [17 km]</text><clipPath id="c500_137"><rect x="500.6" y="137.3" width="182.9" height="58.9"/></clipPath><g clip-path="url(#c500_137)"><rect x="592" y="137.3" width="43.5" height="58.9" fill="#dff5dc"/><line x1="518" y1="137.3" x2="518" y2="196.2" stroke="#e6e6e6" stroke-width="0.7"/><line x1="535.4" y1="137.3" x2="535.4" y2="196.2" stroke="#e6e6e6" stroke-width="0.7"/><line x1="552.9" y1="137.3" x2="552.9" y2="196.2" stroke="#e6e6e6" stroke-width="0.7"/><line x1="570.3" y1="137.3" x2="570.3" y2="196.2" stroke="#e6e6e6" stroke-width="0.7"/><line x1="587.7" y1="137.3" x2="587.7" y2="196.2" stroke="#e6e6e6" stroke-width="0.7"/><line x1="605.1" y1="137.3" x2="605.1" y2="196.2" stroke="#e6e6e6" stroke-width="0.7"/><line x1="622.5" y1="137.3" x2="622.5" y2="196.2" stroke="#e6e6e6" stroke-width="0.7"/><line x1="640" y1="137.3" x2="640" y2="196.2" stroke="#e6e6e6" stroke-width="0.7"/><line x1="657.4" y1="137.3" x2="657.4" y2="196.2" stroke="#e6e6e6" stroke-width="0.7"/><line x1="674.8" y1="137.3" x2="674.8" y2="196.2" stroke="#e6e6e6" stroke-width="0.7"/><line x1="500.6" y1="190.3" x2="683.5" y2="190.3" stroke="#ececec" stroke-width="0.6"/><line x1="500.6" y1="184.4" x2="683.5" y2="184.4" stroke="#ececec" stroke-width="0.6"/><line x1="500.6" y1="178.5" x2="683.5" y2="178.5" stroke="#ececec" stroke-width="0.6"/><line x1="500.6" y1="172.6" x2="683.5" y2="172.6" stroke="#ececec" stroke-width="0.6"/><line x1="500.6" y1="160.9" x2="683.5" y2="160.9" stroke="#ececec" stroke-width="0.6"/><line x1="500.6" y1="155" x2="683.5" y2="155" stroke="#ececec" stroke-width="0.6"/><line x1="500.6" y1="149.1" x2="683.5" y2="149.1" stroke="#ececec" stroke-width="0.6"/><line x1="500.6" y1="143.2" x2="683.5" y2="143.2" stroke="#ececec" stroke-width="0.6"/><line x1="500.6" y1="166.8" x2="683.5" y2="166.8" stroke="#4d4d4d" stroke-width="1.1"/><polyline points="500.6,175.8 509.3,177.7 518,163.7 526.7,171 535.4,166.8 544.1,167.9 552.9,172.4 561.6,168.8 570.3,171.6 579,163.7 587.7,181.5 596.4,170.8 605.1,167.9 613.8,160.9 622.5,155.4 631.2,158 640,182.3 648.7,177.2 657.4,168.8 666.1,173.8 674.8,170.2 683.5,177.2" fill="none" stroke="#0000ff" stroke-width="1.5" stroke-linejoin="round"/><circle cx="500.6" cy="175.8" r="1.9" fill="#0000ff"/><circle cx="509.3" cy="177.7" r="1.9" fill="#0000ff"/><circle cx="518" cy="163.7" r="1.9" fill="#0000ff"/><circle cx="526.7" cy="171" r="1.9" fill="#0000ff"/><circle cx="535.4" cy="166.8" r="1.9" fill="#0000ff"/><circle cx="544.1" cy="167.9" r="1.9" fill="#0000ff"/><circle cx="552.9" cy="172.4" r="1.9" fill="#0000ff"/><circle cx="561.6" cy="168.8" r="1.9" fill="#0000ff"/><circle cx="570.3" cy="171.6" r="1.9" fill="#0000ff"/><circle cx="579" cy="163.7" r="1.9" fill="#0000ff"/><circle cx="587.7" cy="181.5" r="1.9" fill="#0000ff"/><circle cx="596.4" cy="170.8" r="1.9" fill="#0000ff"/><circle cx="605.1" cy="167.9" r="1.9" fill="#0000ff"/><circle cx="613.8" cy="160.9" r="1.9" fill="#0000ff"/><circle cx="622.5" cy="155.4" r="1.9" fill="#0000ff"/><circle cx="631.2" cy="158" r="1.9" fill="#0000ff"/><circle cx="640" cy="182.3" r="1.9" fill="#0000ff"/><circle cx="648.7" cy="177.2" r="1.9" fill="#0000ff"/><circle cx="657.4" cy="168.8" r="1.9" fill="#0000ff"/><circle cx="666.1" cy="173.8" r="1.9" fill="#0000ff"/><circle cx="674.8" cy="170.2" r="1.9" fill="#0000ff"/><circle cx="683.5" cy="177.2" r="1.9" fill="#0000ff"/><rect x="522.4" y="137.3" width="8.7" height="58.9" fill="#cccccc" opacity="0.55"/><rect x="583.3" y="137.3" width="8.7" height="58.9" fill="#cccccc" opacity="0.55"/><rect x="635.6" y="137.3" width="8.7" height="58.9" fill="#cccccc" opacity="0.55"/></g><line x1="500.6" y1="196.2" x2="502.2" y2="196.2" stroke="#777" stroke-width="0.5"/><line x1="683.5" y1="196.2" x2="681.9" y2="196.2" stroke="#777" stroke-width="0.5"/><line x1="500.6" y1="190.3" x2="502.2" y2="190.3" stroke="#777" stroke-width="0.5"/><line x1="683.5" y1="190.3" x2="681.9" y2="190.3" stroke="#777" stroke-width="0.5"/><line x1="500.6" y1="184.4" x2="502.2" y2="184.4" stroke="#777" stroke-width="0.5"/><line x1="683.5" y1="184.4" x2="681.9" y2="184.4" stroke="#777" stroke-width="0.5"/><line x1="500.6" y1="178.5" x2="502.2" y2="178.5" stroke="#777" stroke-width="0.5"/><line x1="683.5" y1="178.5" x2="681.9" y2="178.5" stroke="#777" stroke-width="0.5"/><line x1="500.6" y1="172.6" x2="502.2" y2="172.6" stroke="#777" stroke-width="0.5"/><line x1="683.5" y1="172.6" x2="681.9" y2="172.6" stroke="#777" stroke-width="0.5"/><line x1="500.6" y1="166.8" x2="502.2" y2="166.8" stroke="#777" stroke-width="0.5"/><line x1="683.5" y1="166.8" x2="681.9" y2="166.8" stroke="#777" stroke-width="0.5"/><line x1="500.6" y1="160.9" x2="502.2" y2="160.9" stroke="#777" stroke-width="0.5"/><line x1="683.5" y1="160.9" x2="681.9" y2="160.9" stroke="#777" stroke-width="0.5"/><line x1="500.6" y1="155" x2="502.2" y2="155" stroke="#777" stroke-width="0.5"/><line x1="683.5" y1="155" x2="681.9" y2="155" stroke="#777" stroke-width="0.5"/><line x1="500.6" y1="149.1" x2="502.2" y2="149.1" stroke="#777" stroke-width="0.5"/><line x1="683.5" y1="149.1" x2="681.9" y2="149.1" stroke="#777" stroke-width="0.5"/><line x1="500.6" y1="143.2" x2="502.2" y2="143.2" stroke="#777" stroke-width="0.5"/><line x1="683.5" y1="143.2" x2="681.9" y2="143.2" stroke="#777" stroke-width="0.5"/><line x1="500.6" y1="137.3" x2="502.2" y2="137.3" stroke="#777" stroke-width="0.5"/><line x1="683.5" y1="137.3" x2="681.9" y2="137.3" stroke="#777" stroke-width="0.5"/><line x1="518" y1="137.3" x2="518" y2="138.9" stroke="#777" stroke-width="0.5"/><line x1="518" y1="196.2" x2="518" y2="194.6" stroke="#777" stroke-width="0.5"/><line x1="535.4" y1="137.3" x2="535.4" y2="138.9" stroke="#777" stroke-width="0.5"/><line x1="535.4" y1="196.2" x2="535.4" y2="194.6" stroke="#777" stroke-width="0.5"/><line x1="552.9" y1="137.3" x2="552.9" y2="138.9" stroke="#777" stroke-width="0.5"/><line x1="552.9" y1="196.2" x2="552.9" y2="194.6" stroke="#777" stroke-width="0.5"/><line x1="570.3" y1="137.3" x2="570.3" y2="138.9" stroke="#777" stroke-width="0.5"/><line x1="570.3" y1="196.2" x2="570.3" y2="194.6" stroke="#777" stroke-width="0.5"/><line x1="587.7" y1="137.3" x2="587.7" y2="138.9" stroke="#777" stroke-width="0.5"/><line x1="587.7" y1="196.2" x2="587.7" y2="194.6" stroke="#777" stroke-width="0.5"/><line x1="605.1" y1="137.3" x2="605.1" y2="138.9" stroke="#777" stroke-width="0.5"/><line x1="605.1" y1="196.2" x2="605.1" y2="194.6" stroke="#777" stroke-width="0.5"/><line x1="622.5" y1="137.3" x2="622.5" y2="138.9" stroke="#777" stroke-width="0.5"/><line x1="622.5" y1="196.2" x2="622.5" y2="194.6" stroke="#777" stroke-width="0.5"/><line x1="640" y1="137.3" x2="640" y2="138.9" stroke="#777" stroke-width="0.5"/><line x1="640" y1="196.2" x2="640" y2="194.6" stroke="#777" stroke-width="0.5"/><line x1="657.4" y1="137.3" x2="657.4" y2="138.9" stroke="#777" stroke-width="0.5"/><line x1="657.4" y1="196.2" x2="657.4" y2="194.6" stroke="#777" stroke-width="0.5"/><line x1="674.8" y1="137.3" x2="674.8" y2="138.9" stroke="#777" stroke-width="0.5"/><line x1="674.8" y1="196.2" x2="674.8" y2="194.6" stroke="#777" stroke-width="0.5"/><rect x="500.6" y="137.3" width="182.9" height="58.9" fill="none" stroke="#8a8a8a" stroke-width="0.9"/><text transform="translate(497,146.5)" font-size="9" text-anchor="end" fill="#262626">20</text><text transform="translate(497,158.3)" font-size="9" text-anchor="end" fill="#262626">10</text><text transform="translate(497,170.1)" font-size="9" text-anchor="end" fill="#262626">0</text><text transform="translate(497,181.8)" font-size="9" text-anchor="end" fill="#262626">-10</text><text transform="translate(497,193.6)" font-size="9" text-anchor="end" fill="#262626">-20</text><text transform="translate(591.2,193.6)" font-size="8.5" text-anchor="middle" font-weight="bold">Oceano Dunes, S.L. Obispo Co. [7 km]</text><clipPath id="c500_200"><rect x="500.6" y="200.2" width="182.9" height="58.3"/></clipPath><g clip-path="url(#c500_200)"><rect x="592" y="200.2" width="43.5" height="58.3" fill="#dff5dc"/><line x1="518" y1="200.2" x2="518" y2="258.5" stroke="#e6e6e6" stroke-width="0.7"/><line x1="535.4" y1="200.2" x2="535.4" y2="258.5" stroke="#e6e6e6" stroke-width="0.7"/><line x1="552.9" y1="200.2" x2="552.9" y2="258.5" stroke="#e6e6e6" stroke-width="0.7"/><line x1="570.3" y1="200.2" x2="570.3" y2="258.5" stroke="#e6e6e6" stroke-width="0.7"/><line x1="587.7" y1="200.2" x2="587.7" y2="258.5" stroke="#e6e6e6" stroke-width="0.7"/><line x1="605.1" y1="200.2" x2="605.1" y2="258.5" stroke="#e6e6e6" stroke-width="0.7"/><line x1="622.5" y1="200.2" x2="622.5" y2="258.5" stroke="#e6e6e6" stroke-width="0.7"/><line x1="640" y1="200.2" x2="640" y2="258.5" stroke="#e6e6e6" stroke-width="0.7"/><line x1="657.4" y1="200.2" x2="657.4" y2="258.5" stroke="#e6e6e6" stroke-width="0.7"/><line x1="674.8" y1="200.2" x2="674.8" y2="258.5" stroke="#e6e6e6" stroke-width="0.7"/><line x1="500.6" y1="252.7" x2="683.5" y2="252.7" stroke="#ececec" stroke-width="0.6"/><line x1="500.6" y1="246.8" x2="683.5" y2="246.8" stroke="#ececec" stroke-width="0.6"/><line x1="500.6" y1="241" x2="683.5" y2="241" stroke="#ececec" stroke-width="0.6"/><line x1="500.6" y1="235.2" x2="683.5" y2="235.2" stroke="#ececec" stroke-width="0.6"/><line x1="500.6" y1="223.5" x2="683.5" y2="223.5" stroke="#ececec" stroke-width="0.6"/><line x1="500.6" y1="217.7" x2="683.5" y2="217.7" stroke="#ececec" stroke-width="0.6"/><line x1="500.6" y1="211.9" x2="683.5" y2="211.9" stroke="#ececec" stroke-width="0.6"/><line x1="500.6" y1="206" x2="683.5" y2="206" stroke="#ececec" stroke-width="0.6"/><line x1="500.6" y1="229.3" x2="683.5" y2="229.3" stroke="#4d4d4d" stroke-width="1.1"/><polyline points="500.6,230.7 509.3,229.3 518,230.5 526.7,236.9 535.4,235.5 544.1,234.1 552.9,236 561.6,228.5 570.3,234.1 579,225.7 587.7,231.3 596.4,224.9 605.1,226.6 613.8,221 622.5,219.6 631.2,221.5 640,231.3 648.7,228.5 657.4,218.7 666.1,217.3 674.8,217.9 683.5,219.6" fill="none" stroke="#0000ff" stroke-width="1.5" stroke-linejoin="round"/><circle cx="500.6" cy="230.7" r="1.9" fill="#0000ff"/><circle cx="509.3" cy="229.3" r="1.9" fill="#0000ff"/><circle cx="518" cy="230.5" r="1.9" fill="#0000ff"/><circle cx="526.7" cy="236.9" r="1.9" fill="#0000ff"/><circle cx="535.4" cy="235.5" r="1.9" fill="#0000ff"/><circle cx="544.1" cy="234.1" r="1.9" fill="#0000ff"/><circle cx="552.9" cy="236" r="1.9" fill="#0000ff"/><circle cx="561.6" cy="228.5" r="1.9" fill="#0000ff"/><circle cx="570.3" cy="234.1" r="1.9" fill="#0000ff"/><circle cx="579" cy="225.7" r="1.9" fill="#0000ff"/><circle cx="587.7" cy="231.3" r="1.9" fill="#0000ff"/><circle cx="596.4" cy="224.9" r="1.9" fill="#0000ff"/><circle cx="605.1" cy="226.6" r="1.9" fill="#0000ff"/><circle cx="613.8" cy="221" r="1.9" fill="#0000ff"/><circle cx="622.5" cy="219.6" r="1.9" fill="#0000ff"/><circle cx="631.2" cy="221.5" r="1.9" fill="#0000ff"/><circle cx="640" cy="231.3" r="1.9" fill="#0000ff"/><circle cx="648.7" cy="228.5" r="1.9" fill="#0000ff"/><circle cx="657.4" cy="218.7" r="1.9" fill="#0000ff"/><circle cx="666.1" cy="217.3" r="1.9" fill="#0000ff"/><circle cx="674.8" cy="217.9" r="1.9" fill="#0000ff"/><circle cx="683.5" cy="219.6" r="1.9" fill="#0000ff"/><rect x="522.4" y="200.2" width="8.7" height="58.3" fill="#cccccc" opacity="0.55"/><rect x="583.3" y="200.2" width="8.7" height="58.3" fill="#cccccc" opacity="0.55"/><rect x="635.6" y="200.2" width="8.7" height="58.3" fill="#cccccc" opacity="0.55"/></g><line x1="500.6" y1="258.5" x2="502.2" y2="258.5" stroke="#777" stroke-width="0.5"/><line x1="683.5" y1="258.5" x2="681.9" y2="258.5" stroke="#777" stroke-width="0.5"/><line x1="500.6" y1="252.7" x2="502.2" y2="252.7" stroke="#777" stroke-width="0.5"/><line x1="683.5" y1="252.7" x2="681.9" y2="252.7" stroke="#777" stroke-width="0.5"/><line x1="500.6" y1="246.8" x2="502.2" y2="246.8" stroke="#777" stroke-width="0.5"/><line x1="683.5" y1="246.8" x2="681.9" y2="246.8" stroke="#777" stroke-width="0.5"/><line x1="500.6" y1="241" x2="502.2" y2="241" stroke="#777" stroke-width="0.5"/><line x1="683.5" y1="241" x2="681.9" y2="241" stroke="#777" stroke-width="0.5"/><line x1="500.6" y1="235.2" x2="502.2" y2="235.2" stroke="#777" stroke-width="0.5"/><line x1="683.5" y1="235.2" x2="681.9" y2="235.2" stroke="#777" stroke-width="0.5"/><line x1="500.6" y1="229.3" x2="502.2" y2="229.3" stroke="#777" stroke-width="0.5"/><line x1="683.5" y1="229.3" x2="681.9" y2="229.3" stroke="#777" stroke-width="0.5"/><line x1="500.6" y1="223.5" x2="502.2" y2="223.5" stroke="#777" stroke-width="0.5"/><line x1="683.5" y1="223.5" x2="681.9" y2="223.5" stroke="#777" stroke-width="0.5"/><line x1="500.6" y1="217.7" x2="502.2" y2="217.7" stroke="#777" stroke-width="0.5"/><line x1="683.5" y1="217.7" x2="681.9" y2="217.7" stroke="#777" stroke-width="0.5"/><line x1="500.6" y1="211.9" x2="502.2" y2="211.9" stroke="#777" stroke-width="0.5"/><line x1="683.5" y1="211.9" x2="681.9" y2="211.9" stroke="#777" stroke-width="0.5"/><line x1="500.6" y1="206" x2="502.2" y2="206" stroke="#777" stroke-width="0.5"/><line x1="683.5" y1="206" x2="681.9" y2="206" stroke="#777" stroke-width="0.5"/><line x1="500.6" y1="200.2" x2="502.2" y2="200.2" stroke="#777" stroke-width="0.5"/><line x1="683.5" y1="200.2" x2="681.9" y2="200.2" stroke="#777" stroke-width="0.5"/><line x1="518" y1="200.2" x2="518" y2="201.8" stroke="#777" stroke-width="0.5"/><line x1="518" y1="258.5" x2="518" y2="256.9" stroke="#777" stroke-width="0.5"/><line x1="535.4" y1="200.2" x2="535.4" y2="201.8" stroke="#777" stroke-width="0.5"/><line x1="535.4" y1="258.5" x2="535.4" y2="256.9" stroke="#777" stroke-width="0.5"/><line x1="552.9" y1="200.2" x2="552.9" y2="201.8" stroke="#777" stroke-width="0.5"/><line x1="552.9" y1="258.5" x2="552.9" y2="256.9" stroke="#777" stroke-width="0.5"/><line x1="570.3" y1="200.2" x2="570.3" y2="201.8" stroke="#777" stroke-width="0.5"/><line x1="570.3" y1="258.5" x2="570.3" y2="256.9" stroke="#777" stroke-width="0.5"/><line x1="587.7" y1="200.2" x2="587.7" y2="201.8" stroke="#777" stroke-width="0.5"/><line x1="587.7" y1="258.5" x2="587.7" y2="256.9" stroke="#777" stroke-width="0.5"/><line x1="605.1" y1="200.2" x2="605.1" y2="201.8" stroke="#777" stroke-width="0.5"/><line x1="605.1" y1="258.5" x2="605.1" y2="256.9" stroke="#777" stroke-width="0.5"/><line x1="622.5" y1="200.2" x2="622.5" y2="201.8" stroke="#777" stroke-width="0.5"/><line x1="622.5" y1="258.5" x2="622.5" y2="256.9" stroke="#777" stroke-width="0.5"/><line x1="640" y1="200.2" x2="640" y2="201.8" stroke="#777" stroke-width="0.5"/><line x1="640" y1="258.5" x2="640" y2="256.9" stroke="#777" stroke-width="0.5"/><line x1="657.4" y1="200.2" x2="657.4" y2="201.8" stroke="#777" stroke-width="0.5"/><line x1="657.4" y1="258.5" x2="657.4" y2="256.9" stroke="#777" stroke-width="0.5"/><line x1="674.8" y1="200.2" x2="674.8" y2="201.8" stroke="#777" stroke-width="0.5"/><line x1="674.8" y1="258.5" x2="674.8" y2="256.9" stroke="#777" stroke-width="0.5"/><rect x="500.6" y="200.2" width="182.9" height="58.3" fill="none" stroke="#8a8a8a" stroke-width="0.9"/><text transform="translate(497,209.3)" font-size="9" text-anchor="end" fill="#262626">20</text><text transform="translate(497,221)" font-size="9" text-anchor="end" fill="#262626">10</text><text transform="translate(497,232.7)" font-size="9" text-anchor="end" fill="#262626">0</text><text transform="translate(497,244.3)" font-size="9" text-anchor="end" fill="#262626">-10</text><text transform="translate(497,256)" font-size="9" text-anchor="end" fill="#262626">-20</text><text transform="translate(591.2,255.9)" font-size="8.5" text-anchor="middle" font-weight="bold">Carpinteria Beach, S. Barbara Co. [2.5km]</text><clipPath id="c500_262"><rect x="500.6" y="262.4" width="182.9" height="59"/></clipPath><g clip-path="url(#c500_262)"><rect x="592" y="262.4" width="43.5" height="59" fill="#dff5dc"/><line x1="518" y1="262.4" x2="518" y2="321.4" stroke="#e6e6e6" stroke-width="0.7"/><line x1="535.4" y1="262.4" x2="535.4" y2="321.4" stroke="#e6e6e6" stroke-width="0.7"/><line x1="552.9" y1="262.4" x2="552.9" y2="321.4" stroke="#e6e6e6" stroke-width="0.7"/><line x1="570.3" y1="262.4" x2="570.3" y2="321.4" stroke="#e6e6e6" stroke-width="0.7"/><line x1="587.7" y1="262.4" x2="587.7" y2="321.4" stroke="#e6e6e6" stroke-width="0.7"/><line x1="605.1" y1="262.4" x2="605.1" y2="321.4" stroke="#e6e6e6" stroke-width="0.7"/><line x1="622.5" y1="262.4" x2="622.5" y2="321.4" stroke="#e6e6e6" stroke-width="0.7"/><line x1="640" y1="262.4" x2="640" y2="321.4" stroke="#e6e6e6" stroke-width="0.7"/><line x1="657.4" y1="262.4" x2="657.4" y2="321.4" stroke="#e6e6e6" stroke-width="0.7"/><line x1="674.8" y1="262.4" x2="674.8" y2="321.4" stroke="#e6e6e6" stroke-width="0.7"/><line x1="500.6" y1="315.5" x2="683.5" y2="315.5" stroke="#ececec" stroke-width="0.6"/><line x1="500.6" y1="309.6" x2="683.5" y2="309.6" stroke="#ececec" stroke-width="0.6"/><line x1="500.6" y1="303.7" x2="683.5" y2="303.7" stroke="#ececec" stroke-width="0.6"/><line x1="500.6" y1="297.8" x2="683.5" y2="297.8" stroke="#ececec" stroke-width="0.6"/><line x1="500.6" y1="286" x2="683.5" y2="286" stroke="#ececec" stroke-width="0.6"/><line x1="500.6" y1="280.1" x2="683.5" y2="280.1" stroke="#ececec" stroke-width="0.6"/><line x1="500.6" y1="274.2" x2="683.5" y2="274.2" stroke="#ececec" stroke-width="0.6"/><line x1="500.6" y1="268.3" x2="683.5" y2="268.3" stroke="#ececec" stroke-width="0.6"/><line x1="500.6" y1="291.9" x2="683.5" y2="291.9" stroke="#4d4d4d" stroke-width="1.1"/><polyline points="500.6,300.6 509.3,299.8 518,297.6 526.7,302.6 535.4,301.8 544.1,297.6 552.9,299.2 561.6,298.4 570.3,299.8 579,294.7 587.7,304.6 596.4,297.8 605.1,294.1 613.8,282.3 622.5,281.4 631.2,283.8 640,289.3 648.7,289.9 657.4,277.7 666.1,281.4 674.8,275.3 683.5,283.2" fill="none" stroke="#0000ff" stroke-width="1.5" stroke-linejoin="round"/><circle cx="500.6" cy="300.6" r="1.9" fill="#0000ff"/><circle cx="509.3" cy="299.8" r="1.9" fill="#0000ff"/><circle cx="518" cy="297.6" r="1.9" fill="#0000ff"/><circle cx="526.7" cy="302.6" r="1.9" fill="#0000ff"/><circle cx="535.4" cy="301.8" r="1.9" fill="#0000ff"/><circle cx="544.1" cy="297.6" r="1.9" fill="#0000ff"/><circle cx="552.9" cy="299.2" r="1.9" fill="#0000ff"/><circle cx="561.6" cy="298.4" r="1.9" fill="#0000ff"/><circle cx="570.3" cy="299.8" r="1.9" fill="#0000ff"/><circle cx="579" cy="294.7" r="1.9" fill="#0000ff"/><circle cx="587.7" cy="304.6" r="1.9" fill="#0000ff"/><circle cx="596.4" cy="297.8" r="1.9" fill="#0000ff"/><circle cx="605.1" cy="294.1" r="1.9" fill="#0000ff"/><circle cx="613.8" cy="282.3" r="1.9" fill="#0000ff"/><circle cx="622.5" cy="281.4" r="1.9" fill="#0000ff"/><circle cx="631.2" cy="283.8" r="1.9" fill="#0000ff"/><circle cx="640" cy="289.3" r="1.9" fill="#0000ff"/><circle cx="648.7" cy="289.9" r="1.9" fill="#0000ff"/><circle cx="657.4" cy="277.7" r="1.9" fill="#0000ff"/><circle cx="666.1" cy="281.4" r="1.9" fill="#0000ff"/><circle cx="674.8" cy="275.3" r="1.9" fill="#0000ff"/><circle cx="683.5" cy="283.2" r="1.9" fill="#0000ff"/><polyline points="526.7,304.9 535.4,301.8 544.1,301 552.9,296.4 561.6,293.6 570.3,299.8 579,299 587.7,297.8 596.4,297.8 605.1,294.7 613.8,284.2 622.5,283.8 631.2,285.2 640,289.9 648.7,287.1 657.4,279.2 666.1,281.4 674.8,276.7 683.5,280.3" fill="none" stroke="#ff0000" stroke-width="1.5" stroke-linejoin="round"/><circle cx="526.7" cy="304.9" r="1.9" fill="#ff0000"/><circle cx="535.4" cy="301.8" r="1.9" fill="#ff0000"/><circle cx="544.1" cy="301" r="1.9" fill="#ff0000"/><circle cx="552.9" cy="296.4" r="1.9" fill="#ff0000"/><circle cx="561.6" cy="293.6" r="1.9" fill="#ff0000"/><circle cx="570.3" cy="299.8" r="1.9" fill="#ff0000"/><circle cx="579" cy="299" r="1.9" fill="#ff0000"/><circle cx="587.7" cy="297.8" r="1.9" fill="#ff0000"/><circle cx="596.4" cy="297.8" r="1.9" fill="#ff0000"/><circle cx="605.1" cy="294.7" r="1.9" fill="#ff0000"/><circle cx="613.8" cy="284.2" r="1.9" fill="#ff0000"/><circle cx="622.5" cy="283.8" r="1.9" fill="#ff0000"/><circle cx="631.2" cy="285.2" r="1.9" fill="#ff0000"/><circle cx="640" cy="289.9" r="1.9" fill="#ff0000"/><circle cx="648.7" cy="287.1" r="1.9" fill="#ff0000"/><circle cx="657.4" cy="279.2" r="1.9" fill="#ff0000"/><circle cx="666.1" cy="281.4" r="1.9" fill="#ff0000"/><circle cx="674.8" cy="276.7" r="1.9" fill="#ff0000"/><circle cx="683.5" cy="280.3" r="1.9" fill="#ff0000"/><rect x="522.4" y="262.4" width="8.7" height="59" fill="#cccccc" opacity="0.55"/><rect x="583.3" y="262.4" width="8.7" height="59" fill="#cccccc" opacity="0.55"/><rect x="635.6" y="262.4" width="8.7" height="59" fill="#cccccc" opacity="0.55"/></g><line x1="500.6" y1="321.4" x2="502.2" y2="321.4" stroke="#777" stroke-width="0.5"/><line x1="683.5" y1="321.4" x2="681.9" y2="321.4" stroke="#777" stroke-width="0.5"/><line x1="500.6" y1="315.5" x2="502.2" y2="315.5" stroke="#777" stroke-width="0.5"/><line x1="683.5" y1="315.5" x2="681.9" y2="315.5" stroke="#777" stroke-width="0.5"/><line x1="500.6" y1="309.6" x2="502.2" y2="309.6" stroke="#777" stroke-width="0.5"/><line x1="683.5" y1="309.6" x2="681.9" y2="309.6" stroke="#777" stroke-width="0.5"/><line x1="500.6" y1="303.7" x2="502.2" y2="303.7" stroke="#777" stroke-width="0.5"/><line x1="683.5" y1="303.7" x2="681.9" y2="303.7" stroke="#777" stroke-width="0.5"/><line x1="500.6" y1="297.8" x2="502.2" y2="297.8" stroke="#777" stroke-width="0.5"/><line x1="683.5" y1="297.8" x2="681.9" y2="297.8" stroke="#777" stroke-width="0.5"/><line x1="500.6" y1="291.9" x2="502.2" y2="291.9" stroke="#777" stroke-width="0.5"/><line x1="683.5" y1="291.9" x2="681.9" y2="291.9" stroke="#777" stroke-width="0.5"/><line x1="500.6" y1="286" x2="502.2" y2="286" stroke="#777" stroke-width="0.5"/><line x1="683.5" y1="286" x2="681.9" y2="286" stroke="#777" stroke-width="0.5"/><line x1="500.6" y1="280.1" x2="502.2" y2="280.1" stroke="#777" stroke-width="0.5"/><line x1="683.5" y1="280.1" x2="681.9" y2="280.1" stroke="#777" stroke-width="0.5"/><line x1="500.6" y1="274.2" x2="502.2" y2="274.2" stroke="#777" stroke-width="0.5"/><line x1="683.5" y1="274.2" x2="681.9" y2="274.2" stroke="#777" stroke-width="0.5"/><line x1="500.6" y1="268.3" x2="502.2" y2="268.3" stroke="#777" stroke-width="0.5"/><line x1="683.5" y1="268.3" x2="681.9" y2="268.3" stroke="#777" stroke-width="0.5"/><line x1="500.6" y1="262.4" x2="502.2" y2="262.4" stroke="#777" stroke-width="0.5"/><line x1="683.5" y1="262.4" x2="681.9" y2="262.4" stroke="#777" stroke-width="0.5"/><line x1="518" y1="262.4" x2="518" y2="264" stroke="#777" stroke-width="0.5"/><line x1="518" y1="321.4" x2="518" y2="319.8" stroke="#777" stroke-width="0.5"/><line x1="535.4" y1="262.4" x2="535.4" y2="264" stroke="#777" stroke-width="0.5"/><line x1="535.4" y1="321.4" x2="535.4" y2="319.8" stroke="#777" stroke-width="0.5"/><line x1="552.9" y1="262.4" x2="552.9" y2="264" stroke="#777" stroke-width="0.5"/><line x1="552.9" y1="321.4" x2="552.9" y2="319.8" stroke="#777" stroke-width="0.5"/><line x1="570.3" y1="262.4" x2="570.3" y2="264" stroke="#777" stroke-width="0.5"/><line x1="570.3" y1="321.4" x2="570.3" y2="319.8" stroke="#777" stroke-width="0.5"/><line x1="587.7" y1="262.4" x2="587.7" y2="264" stroke="#777" stroke-width="0.5"/><line x1="587.7" y1="321.4" x2="587.7" y2="319.8" stroke="#777" stroke-width="0.5"/><line x1="605.1" y1="262.4" x2="605.1" y2="264" stroke="#777" stroke-width="0.5"/><line x1="605.1" y1="321.4" x2="605.1" y2="319.8" stroke="#777" stroke-width="0.5"/><line x1="622.5" y1="262.4" x2="622.5" y2="264" stroke="#777" stroke-width="0.5"/><line x1="622.5" y1="321.4" x2="622.5" y2="319.8" stroke="#777" stroke-width="0.5"/><line x1="640" y1="262.4" x2="640" y2="264" stroke="#777" stroke-width="0.5"/><line x1="640" y1="321.4" x2="640" y2="319.8" stroke="#777" stroke-width="0.5"/><line x1="657.4" y1="262.4" x2="657.4" y2="264" stroke="#777" stroke-width="0.5"/><line x1="657.4" y1="321.4" x2="657.4" y2="319.8" stroke="#777" stroke-width="0.5"/><line x1="674.8" y1="262.4" x2="674.8" y2="264" stroke="#777" stroke-width="0.5"/><line x1="674.8" y1="321.4" x2="674.8" y2="319.8" stroke="#777" stroke-width="0.5"/><rect x="500.6" y="262.4" width="182.9" height="59" fill="none" stroke="#000" stroke-width="1.9"/><text transform="translate(497,271.6)" font-size="9" text-anchor="end" fill="#262626">20</text><text transform="translate(497,283.4)" font-size="9" text-anchor="end" fill="#262626">10</text><text transform="translate(497,295.2)" font-size="9" text-anchor="end" fill="#262626">0</text><text transform="translate(497,307)" font-size="9" text-anchor="end" fill="#262626">-10</text><text transform="translate(497,318.8)" font-size="9" text-anchor="end" fill="#262626">-20</text><text transform="translate(591.2,318.8)" font-size="8.5" text-anchor="middle" font-weight="bold">Solana Beach, San Diego Co. [2.5km]</text><rect x="504.4" y="265.2" width="83.9" height="12.1" fill="#fff" stroke="#7a7a7a" stroke-width="0.7"/><line x1="506.1" y1="271.6" x2="521.2" y2="271.6" stroke="#ff0000" stroke-width="1.4"/><circle cx="513.9" cy="271.6" r="1.9" fill="#ff0000"/><text transform="translate(522.5,274.9)" font-size="9.1">&lt;Survey MHW&gt;</text><text transform="translate(596.2,8.5)" font-size="10.2" text-anchor="middle" font-weight="bold">(c)</text><text transform="translate(506.5,331.4) rotate(-45)" font-size="9.5" text-anchor="end" fill="#262626">2000</text><text transform="translate(523.9,331.4) rotate(-45)" font-size="9.5" text-anchor="end" fill="#262626">2002</text><text transform="translate(541.3,331.4) rotate(-45)" font-size="9.5" text-anchor="end" fill="#262626">2004</text><text transform="translate(558.8,331.4) rotate(-45)" font-size="9.5" text-anchor="end" fill="#262626">2006</text><text transform="translate(576.2,331.4) rotate(-45)" font-size="9.5" text-anchor="end" fill="#262626">2008</text><text transform="translate(593.6,331.4) rotate(-45)" font-size="9.5" text-anchor="end" fill="#262626">2010</text><text transform="translate(611,331.4) rotate(-45)" font-size="9.5" text-anchor="end" fill="#262626">2012</text><text transform="translate(628.4,331.4) rotate(-45)" font-size="9.5" text-anchor="end" fill="#262626">2014</text><text transform="translate(645.9,331.4) rotate(-45)" font-size="9.5" text-anchor="end" fill="#262626">2016</text><text transform="translate(663.3,331.4) rotate(-45)" font-size="9.5" text-anchor="end" fill="#262626">2018</text><text transform="translate(680.7,331.4) rotate(-45)" font-size="9.5" text-anchor="end" fill="#262626">2020</text><text transform="translate(592,356.6) scale(0.950,1.000)" font-size="10.6" text-anchor="middle" fill="#262626">Year</text></svg></body></html>
